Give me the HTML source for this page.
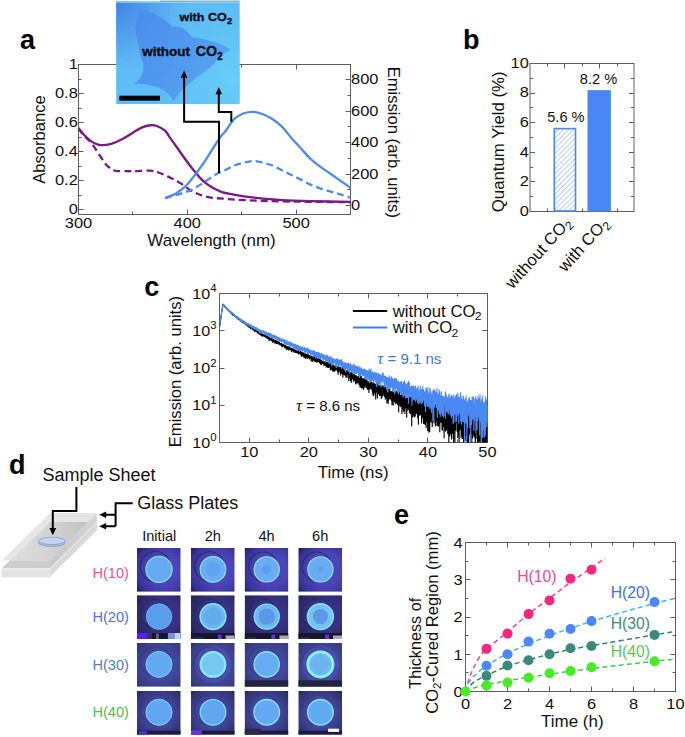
<!DOCTYPE html>
<html><head><meta charset="utf-8"><title>Figure</title>
<style>html,body{margin:0;padding:0;background:#fff;} body{width:685px;height:737px;overflow:hidden;font-family:"Liberation Sans",sans-serif;} svg{display:block;}</style>
</head><body>
<svg width="685" height="737" viewBox="0 0 685 737"><g id="panel-a">
<rect x="78.50" y="64.50" width="272.00" height="150.00" fill="none" stroke="#5e5e5e" stroke-width="1" />
<line x1="78.50" y1="209.50" x2="83.50" y2="209.50" stroke="#5e5e5e" stroke-width="1" />
<line x1="78.50" y1="195.50" x2="81.50" y2="195.50" stroke="#5e5e5e" stroke-width="1" />
<line x1="78.50" y1="180.50" x2="83.50" y2="180.50" stroke="#5e5e5e" stroke-width="1" />
<line x1="78.50" y1="166.50" x2="81.50" y2="166.50" stroke="#5e5e5e" stroke-width="1" />
<line x1="78.50" y1="151.50" x2="83.50" y2="151.50" stroke="#5e5e5e" stroke-width="1" />
<line x1="78.50" y1="137.50" x2="81.50" y2="137.50" stroke="#5e5e5e" stroke-width="1" />
<line x1="78.50" y1="122.50" x2="83.50" y2="122.50" stroke="#5e5e5e" stroke-width="1" />
<line x1="78.50" y1="108.50" x2="81.50" y2="108.50" stroke="#5e5e5e" stroke-width="1" />
<line x1="78.50" y1="93.50" x2="83.50" y2="93.50" stroke="#5e5e5e" stroke-width="1" />
<line x1="78.50" y1="79.50" x2="81.50" y2="79.50" stroke="#5e5e5e" stroke-width="1" />
<line x1="78.50" y1="64.50" x2="83.50" y2="64.50" stroke="#5e5e5e" stroke-width="1" />
<line x1="350.50" y1="205.50" x2="345.50" y2="205.50" stroke="#5e5e5e" stroke-width="1" />
<line x1="350.50" y1="189.50" x2="347.50" y2="189.50" stroke="#5e5e5e" stroke-width="1" />
<line x1="350.50" y1="174.50" x2="345.50" y2="174.50" stroke="#5e5e5e" stroke-width="1" />
<line x1="350.50" y1="158.50" x2="347.50" y2="158.50" stroke="#5e5e5e" stroke-width="1" />
<line x1="350.50" y1="142.50" x2="345.50" y2="142.50" stroke="#5e5e5e" stroke-width="1" />
<line x1="350.50" y1="126.50" x2="347.50" y2="126.50" stroke="#5e5e5e" stroke-width="1" />
<line x1="350.50" y1="111.50" x2="345.50" y2="111.50" stroke="#5e5e5e" stroke-width="1" />
<line x1="350.50" y1="95.50" x2="347.50" y2="95.50" stroke="#5e5e5e" stroke-width="1" />
<line x1="350.50" y1="79.50" x2="345.50" y2="79.50" stroke="#5e5e5e" stroke-width="1" />
<line x1="132.50" y1="214.50" x2="132.50" y2="211.50" stroke="#5e5e5e" stroke-width="1" />
<line x1="132.50" y1="64.50" x2="132.50" y2="67.50" stroke="#5e5e5e" stroke-width="1" />
<line x1="187.50" y1="214.50" x2="187.50" y2="209.50" stroke="#5e5e5e" stroke-width="1" />
<line x1="187.50" y1="64.50" x2="187.50" y2="69.50" stroke="#5e5e5e" stroke-width="1" />
<line x1="241.50" y1="214.50" x2="241.50" y2="211.50" stroke="#5e5e5e" stroke-width="1" />
<line x1="241.50" y1="64.50" x2="241.50" y2="67.50" stroke="#5e5e5e" stroke-width="1" />
<line x1="296.50" y1="214.50" x2="296.50" y2="209.50" stroke="#5e5e5e" stroke-width="1" />
<line x1="296.50" y1="64.50" x2="296.50" y2="69.50" stroke="#5e5e5e" stroke-width="1" />
<text transform="translate(77.80,213.70) scale(1.06,1.0)" font-size="15.5" text-anchor="end" font-weight="normal" font-style="normal" fill="#111" font-family="'Liberation Sans'" >0</text>
<text transform="translate(77.80,184.70) scale(1.06,1.0)" font-size="15.5" text-anchor="end" font-weight="normal" font-style="normal" fill="#111" font-family="'Liberation Sans'" >0.2</text>
<text transform="translate(77.80,155.70) scale(1.06,1.0)" font-size="15.5" text-anchor="end" font-weight="normal" font-style="normal" fill="#111" font-family="'Liberation Sans'" >0.4</text>
<text transform="translate(77.80,126.70) scale(1.06,1.0)" font-size="15.5" text-anchor="end" font-weight="normal" font-style="normal" fill="#111" font-family="'Liberation Sans'" >0.6</text>
<text transform="translate(77.80,97.70) scale(1.06,1.0)" font-size="15.5" text-anchor="end" font-weight="normal" font-style="normal" fill="#111" font-family="'Liberation Sans'" >0.8</text>
<text transform="translate(77.80,68.70) scale(1.06,1.0)" font-size="15.5" text-anchor="end" font-weight="normal" font-style="normal" fill="#111" font-family="'Liberation Sans'" >1</text>
<text transform="translate(351.00,210.20) scale(1.06,1.0)" font-size="15.5" text-anchor="start" font-weight="normal" font-style="normal" fill="#111" font-family="'Liberation Sans'" >0</text>
<text transform="translate(351.00,178.74) scale(1.06,1.0)" font-size="15.5" text-anchor="start" font-weight="normal" font-style="normal" fill="#111" font-family="'Liberation Sans'" >200</text>
<text transform="translate(351.00,147.28) scale(1.06,1.0)" font-size="15.5" text-anchor="start" font-weight="normal" font-style="normal" fill="#111" font-family="'Liberation Sans'" >400</text>
<text transform="translate(351.00,115.82) scale(1.06,1.0)" font-size="15.5" text-anchor="start" font-weight="normal" font-style="normal" fill="#111" font-family="'Liberation Sans'" >600</text>
<text transform="translate(351.00,84.36) scale(1.06,1.0)" font-size="15.5" text-anchor="start" font-weight="normal" font-style="normal" fill="#111" font-family="'Liberation Sans'" >800</text>
<text transform="translate(78.50,228.20) scale(1.06,1.0)" font-size="15.5" text-anchor="middle" font-weight="normal" font-style="normal" fill="#111" font-family="'Liberation Sans'" >300</text>
<text transform="translate(187.30,228.20) scale(1.06,1.0)" font-size="15.5" text-anchor="middle" font-weight="normal" font-style="normal" fill="#111" font-family="'Liberation Sans'" >400</text>
<text transform="translate(296.10,228.20) scale(1.06,1.0)" font-size="15.5" text-anchor="middle" font-weight="normal" font-style="normal" fill="#111" font-family="'Liberation Sans'" >500</text>
<text transform="translate(211.50,245.70) scale(1.08,1.0)" font-size="15.7" text-anchor="middle" font-weight="normal" font-style="normal" fill="#111" font-family="'Liberation Sans'" >Wavelength (nm)</text>
<text transform="translate(44.50,139.50) rotate(-90)" font-size="16.6" text-anchor="middle" font-weight="normal" font-style="normal" fill="#111" font-family="'Liberation Sans'" >Absorbance</text>
<text transform="translate(388.00,142.30) rotate(90)" font-size="16.6" text-anchor="middle" font-weight="normal" font-style="normal" fill="#111" font-family="'Liberation Sans'" >Emission (arb. units)</text>
<path d="M78.50,128.30 C79.41,129.51 81.82,133.16 83.94,135.55 C86.06,137.94 88.87,139.75 91.23,142.65 C93.59,145.55 95.69,149.40 98.08,152.95 C100.48,156.50 103.42,161.31 105.59,163.97 C107.77,166.63 109.44,167.76 111.14,168.90 C112.84,170.04 113.10,170.40 115.82,170.78 C118.54,171.17 124.07,171.17 127.46,171.22 C130.85,171.27 132.32,171.17 136.16,171.07 C140.01,170.98 146.57,170.33 150.53,170.64 C154.48,170.95 156.62,171.80 159.88,172.96 C163.15,174.12 166.70,175.91 170.11,177.60 C173.52,179.29 176.91,180.98 180.34,183.11 C183.76,185.24 187.26,188.38 190.67,190.36 C194.08,192.34 197.40,193.79 200.79,195.00 C204.18,196.21 206.99,196.98 211.02,197.61 C215.04,198.24 219.45,198.36 224.94,198.77 C230.44,199.18 234.50,199.64 243.98,200.08 C253.47,200.51 264.09,201.02 281.85,201.38 C299.60,201.74 339.06,202.10 350.50,202.25" fill="none" stroke="#7b1786" stroke-width="2.3" stroke-dasharray="7 4"/>
<path d="M78.50,128.30 C79.41,129.39 81.82,132.65 83.94,134.82 C86.06,137.00 88.87,139.73 91.23,141.35 C93.59,142.97 96.03,143.91 98.08,144.54 C100.13,145.17 101.35,145.22 103.52,145.12 C105.70,145.02 108.06,144.95 111.14,143.96 C114.22,142.97 118.39,141.06 122.02,139.18 C125.65,137.29 129.64,134.58 132.90,132.65 C136.16,130.72 138.67,128.81 141.60,127.58 C144.54,126.34 147.99,125.52 150.53,125.25 C153.06,124.99 154.46,125.11 156.84,125.98 C159.21,126.85 162.57,128.49 164.78,130.47 C166.99,132.46 168.37,135.45 170.11,137.87 C171.85,140.29 173.52,142.58 175.22,144.97 C176.93,147.37 178.63,149.81 180.34,152.22 C182.04,154.64 183.73,157.11 185.45,159.48 C187.17,161.84 188.95,164.21 190.67,166.44 C192.40,168.66 194.10,170.78 195.79,172.81 C197.47,174.84 199.12,176.90 200.79,178.62 C202.46,180.33 204.09,181.76 205.80,183.11 C207.50,184.46 209.30,185.67 211.02,186.74 C212.74,187.80 214.43,188.64 216.13,189.49 C217.84,190.34 218.94,191.06 221.25,191.81 C223.55,192.56 226.16,193.24 229.95,193.99 C233.74,194.73 238.49,195.53 243.98,196.31 C249.48,197.08 256.61,198.00 262.92,198.62 C269.23,199.25 273.94,199.66 281.85,200.08 C289.75,200.49 298.91,200.78 310.35,201.09 C321.79,201.40 343.81,201.81 350.50,201.96" fill="none" stroke="#7b1786" stroke-width="2.3"/>
<path d="M165.00,198.05 C165.99,197.79 168.75,197.08 170.98,196.48 C173.21,195.87 176.20,195.11 178.38,194.43 C180.55,193.75 181.99,193.07 184.04,192.39 C186.09,191.71 188.59,191.23 190.67,190.34 C192.76,189.45 194.52,188.24 196.55,187.04 C198.58,185.83 200.77,184.47 202.86,183.11 C204.94,181.74 206.68,180.41 209.06,178.86 C211.44,177.31 214.46,175.27 217.11,173.83 C219.76,172.38 222.06,171.60 224.94,170.21 C227.83,168.82 231.24,166.75 234.41,165.49 C237.58,164.23 240.81,163.39 243.98,162.66 C247.16,161.92 250.30,161.08 253.45,161.08 C256.61,161.08 259.76,161.92 262.92,162.66 C266.07,163.39 269.23,164.23 272.38,165.49 C275.54,166.75 278.67,168.63 281.85,170.21 C285.02,171.78 288.25,173.35 291.42,174.93 C294.59,176.50 297.73,178.05 300.89,179.65 C304.04,181.24 307.18,183.08 310.35,184.52 C313.53,185.96 316.75,187.20 319.93,188.30 C323.10,189.40 326.24,190.18 329.39,191.13 C332.55,192.07 335.34,192.86 338.86,193.96 C342.38,195.06 348.56,197.11 350.50,197.73" fill="none" stroke="#4a8af4" stroke-width="2.3" stroke-dasharray="7 4"/>
<path d="M165.00,198.05 C165.81,197.74 168.19,196.84 169.89,196.16 C171.60,195.48 173.50,194.90 175.22,193.96 C176.95,193.02 178.52,191.78 180.23,190.50 C181.93,189.21 183.73,187.93 185.45,186.25 C187.17,184.57 188.84,182.50 190.56,180.43 C192.29,178.36 194.06,176.08 195.79,173.83 C197.51,171.57 199.21,169.26 200.90,166.90 C202.59,164.54 204.22,162.26 205.90,159.67 C207.59,157.07 209.31,154.06 211.02,151.33 C212.72,148.60 214.46,145.80 216.13,143.31 C217.80,140.82 219.32,138.62 221.03,136.39 C222.73,134.16 224.13,132.85 226.36,129.94 C228.59,127.03 231.47,121.71 234.41,118.93 C237.35,116.15 240.81,114.44 243.98,113.26 C247.16,112.09 250.30,111.69 253.45,111.85 C256.61,112.01 259.76,113.03 262.92,114.21 C266.07,115.39 269.23,116.86 272.38,118.93 C275.54,121.00 278.67,123.46 281.85,126.64 C285.02,129.81 288.25,134.34 291.42,137.96 C294.59,141.58 297.73,144.88 300.89,148.34 C304.04,151.80 307.18,155.71 310.35,158.72 C313.53,161.74 316.75,164.05 319.93,166.43 C323.10,168.82 326.24,170.84 329.39,173.04 C332.55,175.24 335.69,177.42 338.86,179.65 C342.03,181.87 346.49,184.97 348.43,186.41 C350.37,187.85 350.16,187.98 350.50,188.30" fill="none" stroke="#4a8af4" stroke-width="2.3"/>
</g>
<defs>
<linearGradient id="insbg" x1="0" y1="0" x2="1" y2="1">
<stop offset="0" stop-color="#4683e4"/><stop offset="0.45" stop-color="#58aef2"/><stop offset="1" stop-color="#64c8f8"/></linearGradient>
<linearGradient id="insdk" x1="0" y1="0" x2="1" y2="1">
<stop offset="0" stop-color="#4a88e6"/><stop offset="1" stop-color="#58a6f2"/></linearGradient>
</defs>
<rect x="116.20" y="1.50" width="123.40" height="102.50" fill="#5fbdf5" stroke="none" stroke-width="1" />
<defs><radialGradient id="inscorner" gradientUnits="userSpaceOnUse" cx="116" cy="2" r="75"><stop offset="0" stop-color="#4380e4" stop-opacity="1"/><stop offset="0.55" stop-color="#4c96ec" stop-opacity="0.6"/><stop offset="1" stop-color="#5aaef2" stop-opacity="0"/></radialGradient><radialGradient id="insbr" gradientUnits="userSpaceOnUse" cx="232" cy="80" r="70"><stop offset="0" stop-color="#66ccf8" stop-opacity="1"/><stop offset="1" stop-color="#66ccf8" stop-opacity="0"/></radialGradient></defs>
<rect x="116.20" y="1.50" width="123.40" height="102.50" fill="url(#insbr)" stroke="none" stroke-width="1" />
<rect x="116.20" y="1.50" width="123.40" height="102.50" fill="url(#inscorner)" stroke="none" stroke-width="1" />
<defs><linearGradient id="bfg" x1="0" y1="0" x2="1" y2="0.6"><stop offset="0" stop-color="#4a8cec"/><stop offset="1" stop-color="#56a4f2"/></linearGradient></defs>
<polygon points="138.6,8.3 150.4,12.0 161.3,17.4 170.3,24.6 172.1,27.4 175.7,26.5 182.1,27.4 188.4,32.8 192.0,37.3 202.9,39.1 217.4,42.8 231.0,49.5 222.8,54.5 216.5,60.0 213.8,64.5 204.7,71.7 195.7,78.1 188.4,84.4 181.2,90.8 175.7,98.0 173.9,101.6 170.3,96.2 164.9,90.8 157.6,87.1 146.8,84.4 137.7,83.5 133.5,84.5 140.4,78.1 143.2,70.8 143.2,63.6 140.4,56.3 138.6,47.3 136.8,38.2 135.6,29.2 136.3,20.1 137.7,12.0" fill="url(#bfg)"/>
<rect x="119.30" y="95.70" width="40.70" height="5.00" fill="#060606" stroke="none" stroke-width="1" />
<rect x="116.20" y="1.50" width="123.40" height="1.30" fill="#8ee4fa" stroke="none" stroke-width="1" opacity="0.8"/>
<rect x="160.00" y="0.60" width="79.60" height="0.90" fill="#5a6a74" stroke="none" stroke-width="1" opacity="0.7"/>
<text transform="translate(179.40,20.70) scale(1.09,1.0)" font-size="11.5" text-anchor="start" font-weight="bold" font-style="normal" fill="#0c0e16" font-family="'Liberation Sans'" stroke="#0c0e16" stroke-width="0.35">with CO</text>
<text transform="translate(226.90,23.50) scale(1.09,1.0)" font-size="8.5" text-anchor="start" font-weight="bold" font-style="normal" fill="#0c0e16" font-family="'Liberation Sans'" stroke="#0c0e16" stroke-width="0.35">2</text>
<text transform="translate(142.20,56.30) scale(1.095,1.0)" font-size="12.3" text-anchor="start" font-weight="bold" font-style="normal" fill="#0c0e16" font-family="'Liberation Sans'" stroke="#0c0e16" stroke-width="0.35">without</text>
<text transform="translate(195.70,56.30)" font-size="14.2" text-anchor="start" font-weight="bold" font-style="normal" fill="#0c0e16" font-family="'Liberation Sans'" stroke="#0c0e16" stroke-width="0.35">CO</text>
<text transform="translate(217.30,60.30) scale(0.97,1.0)" font-size="10" text-anchor="start" font-weight="bold" font-style="normal" fill="#0c0e16" font-family="'Liberation Sans'" stroke="#0c0e16" stroke-width="0.35">2</text>
<path d="M219,173 V121.7 H184.1 V76" fill="none" stroke="#000" stroke-width="2"/>
<polygon points="184.1,70.5 180.9,77.8 187.3,77.8" fill="#000"/>
<path d="M231.3,121.7 V112 H218.8 V92" fill="none" stroke="#000" stroke-width="2"/>
<polygon points="218.8,87 215.6,94.3 222,94.3" fill="#000"/>
<text transform="translate(19.90,48.60)" font-size="27" text-anchor="start" font-weight="bold" font-style="normal" fill="#000" font-family="'Liberation Sans'" >a</text>
<text transform="translate(463.10,48.90)" font-size="27" text-anchor="start" font-weight="bold" font-style="normal" fill="#000" font-family="'Liberation Sans'" >b</text>
<rect x="530.00" y="63.50" width="104.00" height="148.00" fill="none" stroke="#5e5e5e" stroke-width="1" />
<line x1="530.00" y1="211.50" x2="535.00" y2="211.50" stroke="#5e5e5e" stroke-width="1" />
<line x1="634.00" y1="211.50" x2="629.00" y2="211.50" stroke="#5e5e5e" stroke-width="1" />
<line x1="530.00" y1="196.50" x2="533.00" y2="196.50" stroke="#5e5e5e" stroke-width="1" />
<line x1="634.00" y1="196.50" x2="631.00" y2="196.50" stroke="#5e5e5e" stroke-width="1" />
<line x1="530.00" y1="181.50" x2="535.00" y2="181.50" stroke="#5e5e5e" stroke-width="1" />
<line x1="634.00" y1="181.50" x2="629.00" y2="181.50" stroke="#5e5e5e" stroke-width="1" />
<line x1="530.00" y1="167.50" x2="533.00" y2="167.50" stroke="#5e5e5e" stroke-width="1" />
<line x1="634.00" y1="167.50" x2="631.00" y2="167.50" stroke="#5e5e5e" stroke-width="1" />
<line x1="530.00" y1="152.50" x2="535.00" y2="152.50" stroke="#5e5e5e" stroke-width="1" />
<line x1="634.00" y1="152.50" x2="629.00" y2="152.50" stroke="#5e5e5e" stroke-width="1" />
<line x1="530.00" y1="137.50" x2="533.00" y2="137.50" stroke="#5e5e5e" stroke-width="1" />
<line x1="634.00" y1="137.50" x2="631.00" y2="137.50" stroke="#5e5e5e" stroke-width="1" />
<line x1="530.00" y1="122.50" x2="535.00" y2="122.50" stroke="#5e5e5e" stroke-width="1" />
<line x1="634.00" y1="122.50" x2="629.00" y2="122.50" stroke="#5e5e5e" stroke-width="1" />
<line x1="530.00" y1="107.50" x2="533.00" y2="107.50" stroke="#5e5e5e" stroke-width="1" />
<line x1="634.00" y1="107.50" x2="631.00" y2="107.50" stroke="#5e5e5e" stroke-width="1" />
<line x1="530.00" y1="93.50" x2="535.00" y2="93.50" stroke="#5e5e5e" stroke-width="1" />
<line x1="634.00" y1="93.50" x2="629.00" y2="93.50" stroke="#5e5e5e" stroke-width="1" />
<line x1="530.00" y1="78.50" x2="533.00" y2="78.50" stroke="#5e5e5e" stroke-width="1" />
<line x1="634.00" y1="78.50" x2="631.00" y2="78.50" stroke="#5e5e5e" stroke-width="1" />
<line x1="530.00" y1="63.50" x2="535.00" y2="63.50" stroke="#5e5e5e" stroke-width="1" />
<line x1="634.00" y1="63.50" x2="629.00" y2="63.50" stroke="#5e5e5e" stroke-width="1" />
<line x1="547.50" y1="63.50" x2="547.50" y2="66.50" stroke="#5e5e5e" stroke-width="1" />
<line x1="547.50" y1="211.50" x2="547.50" y2="208.50" stroke="#5e5e5e" stroke-width="1" />
<line x1="564.50" y1="63.50" x2="564.50" y2="68.50" stroke="#5e5e5e" stroke-width="1" />
<line x1="564.50" y1="211.50" x2="564.50" y2="206.50" stroke="#5e5e5e" stroke-width="1" />
<line x1="582.50" y1="63.50" x2="582.50" y2="66.50" stroke="#5e5e5e" stroke-width="1" />
<line x1="582.50" y1="211.50" x2="582.50" y2="208.50" stroke="#5e5e5e" stroke-width="1" />
<line x1="599.50" y1="63.50" x2="599.50" y2="68.50" stroke="#5e5e5e" stroke-width="1" />
<line x1="599.50" y1="211.50" x2="599.50" y2="206.50" stroke="#5e5e5e" stroke-width="1" />
<line x1="617.50" y1="63.50" x2="617.50" y2="66.50" stroke="#5e5e5e" stroke-width="1" />
<line x1="617.50" y1="211.50" x2="617.50" y2="208.50" stroke="#5e5e5e" stroke-width="1" />
<text transform="translate(528.80,215.70) scale(1.06,1.0)" font-size="15.5" text-anchor="end" font-weight="normal" font-style="normal" fill="#111" font-family="'Liberation Sans'" >0</text>
<text transform="translate(528.80,186.10) scale(1.06,1.0)" font-size="15.5" text-anchor="end" font-weight="normal" font-style="normal" fill="#111" font-family="'Liberation Sans'" >2</text>
<text transform="translate(528.80,156.50) scale(1.06,1.0)" font-size="15.5" text-anchor="end" font-weight="normal" font-style="normal" fill="#111" font-family="'Liberation Sans'" >4</text>
<text transform="translate(528.80,126.90) scale(1.06,1.0)" font-size="15.5" text-anchor="end" font-weight="normal" font-style="normal" fill="#111" font-family="'Liberation Sans'" >6</text>
<text transform="translate(528.80,97.30) scale(1.06,1.0)" font-size="15.5" text-anchor="end" font-weight="normal" font-style="normal" fill="#111" font-family="'Liberation Sans'" >8</text>
<text transform="translate(528.80,67.70) scale(1.06,1.0)" font-size="15.5" text-anchor="end" font-weight="normal" font-style="normal" fill="#111" font-family="'Liberation Sans'" >10</text>
<text transform="translate(504.00,141.80) rotate(-90)" font-size="16.8" text-anchor="middle" font-weight="normal" font-style="normal" fill="#111" font-family="'Liberation Sans'" >Quantum Yield (%)</text>
<defs><pattern id="hatch" patternUnits="userSpaceOnUse" width="3.6" height="3.6" patternTransform="rotate(45)">
<rect width="3.6" height="3.6" fill="#fff"/><line x1="0" y1="0" x2="0" y2="3.6" stroke="#86acf2" stroke-width="1.2"/></pattern></defs>
<rect x="554.30" y="128.62" width="21.20" height="82.38" fill="url(#hatch)" stroke="#4a86f2" stroke-width="1.6" />
<rect x="587.50" y="90.14" width="23.40" height="121.36" fill="#4a86f5" stroke="none" stroke-width="1" />
<text transform="translate(565.90,122.40)" font-size="14.6" text-anchor="middle" font-weight="normal" font-style="normal" fill="#111" font-family="'Liberation Sans'" >5.6 %</text>
<text transform="translate(598.50,84.20)" font-size="14.6" text-anchor="middle" font-weight="normal" font-style="normal" fill="#111" font-family="'Liberation Sans'" >8.2 %</text>
<text transform="translate(572.00,223.50) rotate(-48)" font-size="16.6" text-anchor="end" font-weight="normal" font-style="normal" fill="#111" font-family="'Liberation Sans'" >without CO<tspan font-size="12" dy="3.5">2</tspan></text>
<text transform="translate(609.50,224.00) rotate(-48)" font-size="16.6" text-anchor="end" font-weight="normal" font-style="normal" fill="#111" font-family="'Liberation Sans'" >with CO<tspan font-size="12" dy="3.5">2</tspan></text>
<text transform="translate(144.20,295.90)" font-size="27" text-anchor="start" font-weight="bold" font-style="normal" fill="#000" font-family="'Liberation Sans'" >c</text>
<rect x="219.50" y="293.50" width="268.00" height="149.00" fill="none" stroke="#5e5e5e" stroke-width="1" />
<line x1="219.50" y1="442.50" x2="224.50" y2="442.50" stroke="#5e5e5e" stroke-width="1" />
<line x1="487.50" y1="442.50" x2="482.50" y2="442.50" stroke="#5e5e5e" stroke-width="1" />
<line x1="219.50" y1="405.50" x2="224.50" y2="405.50" stroke="#5e5e5e" stroke-width="1" />
<line x1="487.50" y1="405.50" x2="482.50" y2="405.50" stroke="#5e5e5e" stroke-width="1" />
<line x1="219.50" y1="368.50" x2="224.50" y2="368.50" stroke="#5e5e5e" stroke-width="1" />
<line x1="487.50" y1="368.50" x2="482.50" y2="368.50" stroke="#5e5e5e" stroke-width="1" />
<line x1="219.50" y1="330.50" x2="224.50" y2="330.50" stroke="#5e5e5e" stroke-width="1" />
<line x1="487.50" y1="330.50" x2="482.50" y2="330.50" stroke="#5e5e5e" stroke-width="1" />
<line x1="219.50" y1="293.50" x2="224.50" y2="293.50" stroke="#5e5e5e" stroke-width="1" />
<line x1="487.50" y1="293.50" x2="482.50" y2="293.50" stroke="#5e5e5e" stroke-width="1" />
<line x1="249.50" y1="442.50" x2="249.50" y2="437.50" stroke="#5e5e5e" stroke-width="1" />
<line x1="249.50" y1="293.50" x2="249.50" y2="298.50" stroke="#5e5e5e" stroke-width="1" />
<line x1="279.50" y1="442.50" x2="279.50" y2="439.50" stroke="#5e5e5e" stroke-width="1" />
<line x1="279.50" y1="293.50" x2="279.50" y2="296.50" stroke="#5e5e5e" stroke-width="1" />
<line x1="308.50" y1="442.50" x2="308.50" y2="437.50" stroke="#5e5e5e" stroke-width="1" />
<line x1="308.50" y1="293.50" x2="308.50" y2="298.50" stroke="#5e5e5e" stroke-width="1" />
<line x1="338.50" y1="442.50" x2="338.50" y2="439.50" stroke="#5e5e5e" stroke-width="1" />
<line x1="338.50" y1="293.50" x2="338.50" y2="296.50" stroke="#5e5e5e" stroke-width="1" />
<line x1="368.50" y1="442.50" x2="368.50" y2="437.50" stroke="#5e5e5e" stroke-width="1" />
<line x1="368.50" y1="293.50" x2="368.50" y2="298.50" stroke="#5e5e5e" stroke-width="1" />
<line x1="398.50" y1="442.50" x2="398.50" y2="439.50" stroke="#5e5e5e" stroke-width="1" />
<line x1="398.50" y1="293.50" x2="398.50" y2="296.50" stroke="#5e5e5e" stroke-width="1" />
<line x1="427.50" y1="442.50" x2="427.50" y2="437.50" stroke="#5e5e5e" stroke-width="1" />
<line x1="427.50" y1="293.50" x2="427.50" y2="298.50" stroke="#5e5e5e" stroke-width="1" />
<line x1="457.50" y1="442.50" x2="457.50" y2="439.50" stroke="#5e5e5e" stroke-width="1" />
<line x1="457.50" y1="293.50" x2="457.50" y2="296.50" stroke="#5e5e5e" stroke-width="1" />
<text transform="translate(216.50,447.50) scale(1.04,1.0)" font-size="15.5" text-anchor="end" font-weight="normal" font-style="normal" fill="#111" font-family="'Liberation Sans'" >10<tspan font-size="11" dy="-6.5">0</tspan></text>
<text transform="translate(216.50,410.25) scale(1.04,1.0)" font-size="15.5" text-anchor="end" font-weight="normal" font-style="normal" fill="#111" font-family="'Liberation Sans'" >10<tspan font-size="11" dy="-6.5">1</tspan></text>
<text transform="translate(216.50,373.00) scale(1.04,1.0)" font-size="15.5" text-anchor="end" font-weight="normal" font-style="normal" fill="#111" font-family="'Liberation Sans'" >10<tspan font-size="11" dy="-6.5">2</tspan></text>
<text transform="translate(216.50,335.75) scale(1.04,1.0)" font-size="15.5" text-anchor="end" font-weight="normal" font-style="normal" fill="#111" font-family="'Liberation Sans'" >10<tspan font-size="11" dy="-6.5">3</tspan></text>
<text transform="translate(216.50,298.50) scale(1.04,1.0)" font-size="15.5" text-anchor="end" font-weight="normal" font-style="normal" fill="#111" font-family="'Liberation Sans'" >10<tspan font-size="11" dy="-6.5">4</tspan></text>
<text transform="translate(249.28,456.60) scale(1.06,1.0)" font-size="15.5" text-anchor="middle" font-weight="normal" font-style="normal" fill="#111" font-family="'Liberation Sans'" >10</text>
<text transform="translate(308.83,456.60) scale(1.06,1.0)" font-size="15.5" text-anchor="middle" font-weight="normal" font-style="normal" fill="#111" font-family="'Liberation Sans'" >20</text>
<text transform="translate(368.39,456.60) scale(1.06,1.0)" font-size="15.5" text-anchor="middle" font-weight="normal" font-style="normal" fill="#111" font-family="'Liberation Sans'" >30</text>
<text transform="translate(427.94,456.60) scale(1.06,1.0)" font-size="15.5" text-anchor="middle" font-weight="normal" font-style="normal" fill="#111" font-family="'Liberation Sans'" >40</text>
<text transform="translate(487.50,456.60) scale(1.06,1.0)" font-size="15.5" text-anchor="middle" font-weight="normal" font-style="normal" fill="#111" font-family="'Liberation Sans'" >50</text>
<text transform="translate(353.20,477.60) scale(1.08,1.0)" font-size="15.7" text-anchor="middle" font-weight="normal" font-style="normal" fill="#111" font-family="'Liberation Sans'" >Time (ns)</text>
<text transform="translate(180.90,371.60) rotate(-90)" font-size="16.6" text-anchor="middle" font-weight="normal" font-style="normal" fill="#111" font-family="'Liberation Sans'" >Emission (arb. units)</text>
<defs><clipPath id="cclip"><rect x="219.5" y="293.5" width="268.0" height="149.0"/></clipPath></defs>
<g clip-path="url(#cclip)">
<polyline points="219.5,327.0 219.6,326.3 219.6,325.6 219.7,325.9 219.8,325.1 219.9,324.6 219.9,325.2 220.0,324.1 220.1,322.9 220.1,322.7 220.2,322.0 220.3,322.0 220.4,321.5 220.4,320.9 220.5,320.1 220.6,319.6 220.6,319.6 220.7,318.9 220.8,318.3 220.9,317.9 220.9,317.3 221.0,316.7 221.1,316.3 221.1,316.1 221.2,315.6 221.3,315.2 221.4,314.4 221.4,313.8 221.5,313.4 221.6,312.9 221.6,312.6 221.7,312.0 221.8,312.3 221.9,311.1 221.9,311.3 222.0,310.4 222.1,309.8 222.1,309.1 222.2,308.7 222.3,308.7 222.4,307.7 222.4,307.3 222.5,306.8 222.6,306.7 222.6,305.9 222.7,305.3 222.8,305.1 222.9,304.4 222.9,304.2 223.0,304.6 223.1,305.1 223.1,304.5 223.2,304.7 223.3,304.7 223.4,304.8 223.4,304.8 223.5,305.0 223.6,305.5 223.6,305.0 223.7,305.2 223.8,305.1 223.9,305.6 223.9,305.3 224.0,305.1 224.1,305.7 224.1,306.1 224.2,305.4 224.3,306.0 224.4,305.8 224.4,305.9 224.5,306.0 224.6,306.3 224.6,306.8 224.7,306.3 224.8,306.7 224.9,306.2 224.9,306.4 225.0,306.5 225.1,306.7 225.1,307.1 225.2,306.9 225.3,307.2 225.4,306.9 225.4,307.5 225.5,307.0 225.6,307.0 225.6,307.1 225.7,307.6 225.8,307.6 225.9,308.0 225.9,307.9 226.0,307.8 226.1,307.7 226.1,307.9 226.2,307.6 226.3,307.9 226.4,307.8 226.4,308.0 226.5,308.1 226.6,308.5 226.6,308.4 226.7,309.0 226.8,308.2 226.9,308.5 226.9,308.5 227.0,309.0 227.1,308.7 227.1,308.9 227.2,308.8 227.3,308.9 227.4,309.0 227.4,309.1 227.5,309.3 227.6,309.6 227.6,309.6 227.7,309.4 227.8,309.2 227.9,309.5 227.9,309.6 228.0,309.8 228.1,309.7 228.1,310.1 228.2,310.2 228.3,310.2 228.4,310.0 228.4,310.2 228.5,310.4 228.6,310.2 228.6,310.4 228.7,310.2 228.8,310.8 228.9,311.1 228.9,310.6 229.0,310.7 229.1,310.6 229.1,310.5 229.2,311.2 229.3,311.3 229.4,311.4 229.4,311.3 229.5,311.3 229.6,311.0 229.6,311.1 229.7,311.3 229.8,311.9 229.9,311.6 229.9,311.6 230.0,311.6 230.1,311.7 230.1,311.6 230.2,311.6 230.3,311.8 230.4,312.1 230.4,311.9 230.5,312.1 230.6,311.7 230.6,311.9 230.7,312.3 230.8,312.3 230.9,313.2 230.9,312.3 231.0,312.4 231.1,312.4 231.1,312.6 231.2,313.6 231.3,312.9 231.4,312.5 231.4,312.7 231.5,313.2 231.6,312.9 231.6,313.2 231.7,313.3 231.8,313.3 231.9,313.0 231.9,313.6 232.0,313.3 232.1,313.5 232.1,313.3 232.2,313.3 232.3,313.4 232.4,313.6 232.4,314.9 232.5,313.7 232.6,314.9 232.6,314.3 232.7,313.9 232.8,313.8 232.9,313.9 232.9,314.1 233.0,314.1 233.1,314.4 233.2,314.5 233.2,314.6 233.3,314.4 233.4,314.8 233.4,314.8 233.5,314.9 233.6,314.6 233.7,314.6 233.7,314.9 233.8,314.9 233.9,315.0 233.9,315.0 234.0,314.9 234.1,315.1 234.2,315.7 234.2,315.6 234.3,315.9 234.4,315.8 234.4,316.0 234.5,315.2 234.6,315.5 234.7,315.6 234.7,316.0 234.8,316.0 234.9,316.4 234.9,316.2 235.0,315.8 235.1,315.8 235.2,316.0 235.2,316.5 235.3,316.6 235.4,316.4 235.4,316.2 235.5,316.4 235.6,317.4 235.7,317.0 235.7,317.1 235.8,316.5 235.9,316.6 235.9,317.3 236.0,316.7 236.1,316.9 236.2,316.9 236.2,317.4 236.3,317.7 236.4,317.0 236.4,317.1 236.5,317.3 236.6,317.2 236.7,317.4 236.7,317.3 236.8,317.8 236.9,317.8 236.9,317.5 237.0,317.9 237.1,317.8 237.2,317.5 237.2,317.7 237.3,317.7 237.4,317.6 237.4,318.1 237.5,318.3 237.6,318.0 237.7,318.0 237.7,318.0 237.8,317.8 237.9,318.2 237.9,318.4 238.0,318.0 238.1,318.2 238.2,318.5 238.2,319.4 238.3,318.1 238.4,318.3 238.4,318.9 238.5,319.1 238.6,318.5 238.7,319.3 238.7,319.3 238.8,319.0 238.9,319.3 238.9,318.6 239.0,319.4 239.1,319.1 239.2,318.8 239.2,318.8 239.3,319.2 239.4,319.3 239.4,319.8 239.5,318.9 239.6,319.4 239.7,319.2 239.7,319.2 239.8,320.0 239.9,319.5 239.9,320.2 240.0,320.0 240.1,320.0 240.2,319.9 240.2,319.6 240.3,320.6 240.4,320.2 240.4,320.0 240.5,320.2 240.6,320.8 240.7,320.2 240.7,320.8 240.8,320.4 240.9,321.1 240.9,320.3 241.0,320.7 241.1,321.3 241.2,320.3 241.2,320.6 241.3,320.5 241.4,320.6 241.4,321.3 241.5,320.8 241.6,320.8 241.7,321.7 241.7,320.8 241.8,321.0 241.9,320.8 241.9,321.2 242.0,321.1 242.1,322.1 242.2,321.2 242.2,322.0 242.3,321.3 242.4,321.7 242.4,321.4 242.5,321.5 242.6,322.1 242.7,321.0 242.7,321.3 242.8,321.9 242.9,322.4 242.9,321.8 243.0,321.5 243.1,321.9 243.2,322.5 243.2,321.9 243.3,322.1 243.4,322.5 243.4,323.0 243.5,322.6 243.6,323.0 243.7,322.1 243.7,322.3 243.8,322.8 243.9,322.7 243.9,322.4 244.0,322.9 244.1,322.5 244.2,322.7 244.2,323.1 244.3,322.9 244.4,322.6 244.4,323.1 244.5,322.7 244.6,323.0 244.7,323.9 244.7,323.0 244.8,322.8 244.9,322.9 244.9,322.8 245.0,323.5 245.1,323.3 245.2,323.7 245.2,322.9 245.3,323.5 245.4,323.6 245.4,323.8 245.5,323.1 245.6,323.7 245.7,323.8 245.7,323.8 245.8,324.3 245.9,324.5 245.9,323.3 246.0,325.0 246.1,324.2 246.2,324.1 246.2,324.6 246.3,324.4 246.4,324.8 246.4,324.7 246.5,324.6 246.6,323.8 246.7,324.8 246.7,324.4 246.8,324.2 246.9,325.5 246.9,324.8 247.0,325.6 247.1,324.9 247.2,325.5 247.2,324.4 247.3,325.8 247.4,325.5 247.4,325.8 247.5,325.5 247.6,325.2 247.7,325.7 247.7,326.2 247.8,325.4 247.9,325.2 247.9,325.4 248.0,325.9 248.1,325.3 248.2,325.3 248.2,326.1 248.3,326.2 248.4,326.2 248.4,325.7 248.5,325.2 248.6,326.8 248.7,326.2 248.7,326.0 248.8,326.1 248.9,326.4 248.9,326.4 249.0,326.0 249.1,326.5 249.2,326.8 249.2,327.5 249.3,326.0 249.4,326.8 249.4,327.0 249.5,326.3 249.6,326.0 249.7,326.6 249.7,326.8 249.8,326.6 249.9,326.5 249.9,326.6 250.0,326.9 250.1,326.5 250.2,327.1 250.2,326.9 250.3,326.9 250.4,328.4 250.4,326.6 250.5,326.7 250.6,326.7 250.7,327.6 250.7,326.8 250.8,327.2 250.9,327.9 250.9,327.1 251.0,327.5 251.1,327.4 251.2,328.5 251.2,327.0 251.3,326.9 251.4,327.9 251.4,327.6 251.5,327.7 251.6,327.4 251.7,327.8 251.7,328.8 251.8,328.5 251.9,328.0 251.9,329.0 252.0,327.9 252.1,329.0 252.2,327.7 252.2,327.8 252.3,328.1 252.4,328.0 252.4,328.6 252.5,327.9 252.6,328.2 252.7,328.8 252.7,328.2 252.8,328.3 252.9,328.0 252.9,328.4 253.0,329.9 253.1,329.9 253.2,328.5 253.2,328.7 253.3,329.4 253.4,329.0 253.4,329.1 253.5,329.4 253.6,329.5 253.7,329.9 253.7,329.2 253.8,329.5 253.9,329.1 253.9,329.1 254.0,329.5 254.1,329.2 254.2,329.0 254.2,330.1 254.3,330.6 254.4,329.5 254.4,331.1 254.5,329.5 254.6,329.3 254.7,330.3 254.7,330.8 254.8,329.6 254.9,329.9 254.9,330.0 255.0,330.1 255.1,330.0 255.2,330.3 255.2,331.4 255.3,330.1 255.4,330.2 255.4,330.3 255.5,331.1 255.6,330.0 255.7,330.7 255.7,330.6 255.8,330.3 255.9,330.5 255.9,330.3 256.0,330.8 256.1,330.8 256.2,330.9 256.2,330.0 256.3,330.8 256.4,330.8 256.4,331.2 256.5,331.1 256.6,330.6 256.7,331.6 256.7,331.8 256.8,331.9 256.9,331.2 256.9,332.1 257.0,331.1 257.1,331.1 257.2,331.2 257.2,331.9 257.3,331.0 257.4,331.9 257.4,332.8 257.5,331.3 257.6,331.7 257.7,331.5 257.7,331.8 257.8,331.9 257.9,332.5 257.9,331.8 258.0,332.6 258.1,333.0 258.2,332.1 258.2,332.2 258.3,332.1 258.4,333.4 258.4,332.4 258.5,331.9 258.6,333.5 258.7,333.8 258.7,332.6 258.8,333.0 258.9,331.4 258.9,333.0 259.0,332.6 259.1,332.6 259.2,332.6 259.2,333.0 259.3,334.0 259.4,333.3 259.4,333.1 259.5,332.3 259.6,332.7 259.7,332.9 259.7,333.1 259.8,332.9 259.9,334.5 260.0,333.3 260.0,333.1 260.1,333.0 260.2,333.4 260.2,334.1 260.3,334.1 260.4,334.2 260.5,333.2 260.5,334.3 260.6,333.7 260.7,334.2 260.7,334.8 260.8,333.7 260.9,334.8 261.0,335.3 261.0,334.1 261.1,333.5 261.2,333.3 261.2,333.5 261.3,334.3 261.4,333.7 261.5,334.2 261.5,335.8 261.6,334.0 261.7,334.1 261.7,335.8 261.8,334.1 261.9,334.2 262.0,334.3 262.0,335.6 262.1,334.9 262.2,335.2 262.2,334.8 262.3,334.4 262.4,334.2 262.5,335.4 262.5,336.3 262.6,334.5 262.7,335.6 262.7,334.8 262.8,335.6 262.9,334.8 263.0,334.5 263.0,334.7 263.1,335.2 263.2,334.9 263.2,334.9 263.3,334.5 263.4,335.0 263.5,334.3 263.5,335.2 263.6,335.7 263.7,335.0 263.7,335.1 263.8,334.6 263.9,335.2 264.0,335.8 264.0,335.3 264.1,335.1 264.2,335.0 264.2,336.7 264.3,335.5 264.4,336.5 264.5,334.9 264.5,334.8 264.6,335.2 264.7,336.0 264.7,335.9 264.8,336.7 264.9,335.3 265.0,335.8 265.0,335.4 265.1,336.8 265.2,336.2 265.2,335.3 265.3,335.9 265.4,336.4 265.5,335.5 265.5,336.0 265.6,335.9 265.7,336.9 265.7,336.2 265.8,336.6 265.9,336.3 266.0,337.5 266.0,335.8 266.1,336.6 266.2,337.4 266.2,336.3 266.3,336.5 266.4,336.8 266.5,336.8 266.5,336.1 266.6,337.3 266.7,336.4 266.7,336.2 266.8,336.7 266.9,337.1 267.0,336.4 267.0,338.0 267.1,337.8 267.2,338.4 267.2,336.7 267.3,336.3 267.4,337.6 267.5,337.0 267.5,338.6 267.6,336.9 267.7,337.3 267.7,337.3 267.8,337.1 267.9,336.6 268.0,337.1 268.0,336.8 268.1,337.6 268.2,336.8 268.2,337.4 268.3,337.7 268.4,337.9 268.5,337.9 268.5,337.5 268.6,338.0 268.7,337.5 268.7,338.5 268.8,337.0 268.9,338.8 269.0,340.5 269.0,337.5 269.1,337.8 269.2,338.1 269.2,337.9 269.3,339.1 269.4,337.9 269.5,340.0 269.5,337.5 269.6,338.8 269.7,339.8 269.7,338.1 269.8,339.2 269.9,338.5 270.0,338.0 270.0,338.0 270.1,338.2 270.2,338.9 270.2,338.6 270.3,338.3 270.4,338.2 270.5,338.3 270.5,338.3 270.6,339.2 270.7,339.9 270.7,338.6 270.8,339.0 270.9,338.3 271.0,339.4 271.0,338.6 271.1,340.6 271.2,338.5 271.2,338.5 271.3,339.2 271.4,339.8 271.5,339.1 271.5,339.2 271.6,339.7 271.7,339.8 271.7,340.7 271.8,339.4 271.9,340.3 272.0,340.4 272.0,339.0 272.1,339.7 272.2,339.4 272.2,340.4 272.3,339.2 272.4,339.2 272.5,342.3 272.5,338.9 272.6,340.1 272.7,339.7 272.7,340.5 272.8,339.2 272.9,339.7 273.0,339.7 273.0,341.2 273.1,340.2 273.2,339.6 273.2,340.4 273.3,340.9 273.4,340.4 273.5,340.7 273.5,339.8 273.6,341.6 273.7,340.0 273.7,339.2 273.8,340.4 273.9,341.7 274.0,340.4 274.0,341.4 274.1,340.0 274.2,341.0 274.2,342.2 274.3,340.4 274.4,340.2 274.5,341.1 274.5,342.2 274.6,341.8 274.7,340.5 274.7,341.1 274.8,340.2 274.9,342.5 275.0,341.4 275.0,341.3 275.1,343.5 275.2,340.9 275.2,342.4 275.3,342.2 275.4,341.2 275.5,341.9 275.5,341.9 275.6,340.9 275.7,340.6 275.7,341.3 275.8,341.2 275.9,340.3 276.0,341.0 276.0,340.8 276.1,342.5 276.2,341.5 276.2,341.8 276.3,341.4 276.4,340.9 276.5,341.0 276.5,343.1 276.6,343.5 276.7,343.6 276.7,342.2 276.8,342.1 276.9,342.7 277.0,341.7 277.0,342.1 277.1,341.3 277.2,341.5 277.2,343.6 277.3,342.9 277.4,341.9 277.5,341.9 277.5,341.5 277.6,341.8 277.7,342.2 277.7,342.5 277.8,342.3 277.9,341.5 278.0,343.5 278.0,341.6 278.1,341.9 278.2,342.2 278.2,342.6 278.3,342.6 278.4,342.1 278.5,343.0 278.5,343.7 278.6,343.2 278.7,342.9 278.7,343.4 278.8,343.4 278.9,344.2 279.0,342.6 279.0,341.9 279.1,343.2 279.2,342.7 279.2,342.9 279.3,343.0 279.4,344.1 279.5,344.0 279.5,343.3 279.6,343.9 279.7,343.3 279.7,343.0 279.8,342.7 279.9,343.0 280.0,344.9 280.0,344.4 280.1,343.0 280.2,344.2 280.2,343.1 280.3,343.9 280.4,344.9 280.5,344.2 280.5,343.6 280.6,344.2 280.7,343.5 280.7,343.7 280.8,343.7 280.9,343.9 281.0,344.4 281.0,344.2 281.1,343.5 281.2,345.0 281.2,344.7 281.3,343.4 281.4,345.6 281.5,344.6 281.5,344.7 281.6,344.1 281.7,343.9 281.7,344.9 281.8,344.7 281.9,344.9 282.0,346.7 282.0,344.2 282.1,344.9 282.2,344.4 282.2,344.2 282.3,344.6 282.4,344.7 282.5,344.4 282.5,346.3 282.6,344.6 282.7,346.6 282.7,344.2 282.8,346.0 282.9,345.9 283.0,346.3 283.0,345.6 283.1,345.3 283.2,344.4 283.2,344.9 283.3,345.3 283.4,344.6 283.5,345.8 283.5,344.8 283.6,345.3 283.7,344.7 283.7,345.0 283.8,345.5 283.9,345.6 284.0,345.4 284.0,345.7 284.1,345.5 284.2,346.5 284.2,346.4 284.3,345.7 284.4,347.4 284.5,346.9 284.5,345.2 284.6,345.8 284.7,347.3 284.7,346.6 284.8,346.8 284.9,345.0 285.0,346.2 285.0,345.4 285.1,345.8 285.2,347.2 285.2,345.6 285.3,346.1 285.4,346.3 285.5,347.4 285.5,347.3 285.6,347.0 285.7,348.2 285.7,346.0 285.8,345.4 285.9,346.4 286.0,346.4 286.0,346.9 286.1,347.7 286.2,346.2 286.2,346.8 286.3,347.1 286.4,346.9 286.5,347.2 286.5,347.1 286.6,349.4 286.7,349.3 286.8,348.3 286.8,347.3 286.9,346.7 287.0,347.5 287.0,349.1 287.1,348.7 287.2,346.7 287.3,348.0 287.3,346.9 287.4,348.0 287.5,347.8 287.5,347.1 287.6,348.1 287.7,348.5 287.8,346.7 287.8,348.5 287.9,349.5 288.0,349.5 288.0,347.4 288.1,347.5 288.2,347.0 288.3,348.2 288.3,347.7 288.4,347.3 288.5,347.9 288.5,347.4 288.6,349.1 288.7,346.8 288.8,349.1 288.8,349.5 288.9,350.2 289.0,348.3 289.0,349.7 289.1,348.8 289.2,347.9 289.3,348.7 289.3,348.1 289.4,348.8 289.5,347.0 289.5,347.5 289.6,348.1 289.7,348.3 289.8,348.4 289.8,349.0 289.9,349.2 290.0,348.1 290.0,347.6 290.1,349.2 290.2,348.4 290.3,349.3 290.3,349.1 290.4,349.0 290.5,348.4 290.5,348.8 290.6,349.7 290.7,349.1 290.8,348.4 290.8,348.3 290.9,350.1 291.0,348.5 291.0,349.7 291.1,349.0 291.2,348.4 291.3,349.1 291.3,350.8 291.4,348.1 291.5,351.3 291.5,348.6 291.6,351.7 291.7,349.0 291.8,348.7 291.8,350.1 291.9,350.6 292.0,349.1 292.0,349.3 292.1,348.7 292.2,349.1 292.3,349.2 292.3,349.3 292.4,348.6 292.5,350.7 292.5,349.3 292.6,349.6 292.7,350.1 292.8,349.3 292.8,349.5 292.9,349.6 293.0,350.3 293.0,349.5 293.1,348.8 293.2,351.2 293.3,349.5 293.3,350.1 293.4,349.8 293.5,349.8 293.5,349.4 293.6,349.6 293.7,350.9 293.8,349.2 293.8,351.9 293.9,350.9 294.0,350.9 294.0,349.9 294.1,350.4 294.2,349.7 294.3,350.3 294.3,349.4 294.4,351.7 294.5,350.3 294.5,350.7 294.6,351.6 294.7,350.1 294.8,351.1 294.8,351.7 294.9,352.5 295.0,349.7 295.0,350.1 295.1,351.8 295.2,350.3 295.3,350.7 295.3,351.5 295.4,350.2 295.5,351.9 295.5,351.1 295.6,350.5 295.7,350.5 295.8,350.8 295.8,350.5 295.9,352.5 296.0,351.0 296.0,350.3 296.1,352.5 296.2,350.2 296.3,350.5 296.3,351.0 296.4,350.3 296.5,350.0 296.5,350.3 296.6,351.3 296.7,349.9 296.8,352.8 296.8,352.6 296.9,352.7 297.0,350.9 297.0,351.6 297.1,351.6 297.2,351.2 297.3,351.3 297.3,351.5 297.4,350.8 297.5,351.2 297.5,351.2 297.6,351.3 297.7,351.2 297.8,351.2 297.8,351.3 297.9,353.1 298.0,352.1 298.0,352.5 298.1,353.4 298.2,352.3 298.3,351.8 298.3,352.8 298.4,351.2 298.5,350.9 298.5,354.1 298.6,351.8 298.7,350.6 298.8,352.9 298.8,352.6 298.9,351.8 299.0,352.2 299.0,353.7 299.1,350.9 299.2,351.3 299.3,352.3 299.3,353.3 299.4,351.7 299.5,351.5 299.5,351.3 299.6,352.4 299.7,352.5 299.8,352.0 299.8,352.1 299.9,353.4 300.0,352.0 300.0,352.2 300.1,352.5 300.2,352.2 300.3,351.6 300.3,353.0 300.4,351.3 300.5,352.2 300.5,354.2 300.6,352.3 300.7,354.4 300.8,351.9 300.8,352.5 300.9,351.5 301.0,353.6 301.0,353.5 301.1,353.1 301.2,352.2 301.3,356.5 301.3,352.8 301.4,354.2 301.5,354.3 301.5,353.8 301.6,352.7 301.7,353.1 301.8,353.9 301.8,354.9 301.9,352.4 302.0,352.1 302.0,352.4 302.1,352.8 302.2,352.2 302.3,352.7 302.3,352.6 302.4,355.1 302.5,354.4 302.5,355.5 302.6,353.9 302.7,353.6 302.8,354.1 302.8,353.3 302.9,354.1 303.0,352.8 303.0,353.8 303.1,353.6 303.2,356.4 303.3,353.3 303.3,354.7 303.4,353.0 303.5,355.1 303.5,353.1 303.6,354.6 303.7,355.1 303.8,353.9 303.8,355.4 303.9,354.0 304.0,354.9 304.0,357.4 304.1,353.9 304.2,354.2 304.3,354.4 304.3,355.7 304.4,354.0 304.5,354.0 304.5,355.7 304.6,354.2 304.7,355.2 304.8,353.8 304.8,354.1 304.9,354.6 305.0,354.2 305.0,354.2 305.1,353.9 305.2,358.0 305.3,354.7 305.3,356.4 305.4,355.5 305.5,358.4 305.5,354.5 305.6,354.1 305.7,355.8 305.8,355.1 305.8,356.4 305.9,354.6 306.0,354.8 306.0,355.9 306.1,354.8 306.2,355.3 306.3,354.6 306.3,354.3 306.4,355.5 306.5,354.7 306.5,356.7 306.6,354.9 306.7,354.1 306.8,356.9 306.8,358.0 306.9,355.5 307.0,354.2 307.0,356.0 307.1,354.6 307.2,357.3 307.3,356.7 307.3,356.4 307.4,355.1 307.5,358.2 307.5,356.6 307.6,356.7 307.7,354.6 307.8,355.4 307.8,355.1 307.9,356.3 308.0,355.3 308.0,355.8 308.1,357.0 308.2,355.8 308.3,355.1 308.3,355.9 308.4,355.1 308.5,356.0 308.5,356.9 308.6,357.7 308.7,356.2 308.8,355.3 308.8,356.1 308.9,355.5 309.0,356.0 309.0,357.4 309.1,356.7 309.2,356.2 309.3,358.1 309.3,359.1 309.4,356.9 309.5,355.7 309.5,356.8 309.6,355.8 309.7,357.7 309.8,358.1 309.8,356.7 309.9,358.2 310.0,356.7 310.0,356.5 310.1,355.7 310.2,356.2 310.3,355.9 310.3,356.2 310.4,356.3 310.5,356.4 310.5,357.4 310.6,356.8 310.7,358.1 310.8,356.3 310.8,356.7 310.9,356.0 311.0,356.6 311.0,356.2 311.1,360.3 311.2,361.0 311.3,358.3 311.3,356.7 311.4,356.8 311.5,356.1 311.5,357.9 311.6,358.9 311.7,357.0 311.8,359.9 311.8,358.8 311.9,356.8 312.0,357.2 312.0,359.0 312.1,360.6 312.2,358.9 312.3,357.0 312.3,357.4 312.4,361.4 312.5,357.3 312.5,356.8 312.6,357.1 312.7,357.8 312.8,359.3 312.8,357.2 312.9,357.3 313.0,358.8 313.0,359.0 313.1,357.7 313.2,356.9 313.3,359.9 313.3,357.8 313.4,359.8 313.5,357.3 313.6,358.8 313.6,357.8 313.7,356.8 313.8,357.9 313.8,357.4 313.9,357.7 314.0,356.3 314.1,356.6 314.1,359.2 314.2,361.0 314.3,357.2 314.3,358.7 314.4,358.0 314.5,360.0 314.6,359.4 314.6,360.1 314.7,359.6 314.8,360.3 314.8,358.3 314.9,358.0 315.0,358.5 315.1,358.0 315.1,361.5 315.2,358.7 315.3,357.8 315.3,358.1 315.4,357.5 315.5,357.7 315.6,360.7 315.6,360.0 315.7,360.3 315.8,359.1 315.8,358.6 315.9,359.5 316.0,358.0 316.1,361.6 316.1,361.5 316.2,360.0 316.3,359.7 316.3,359.0 316.4,358.6 316.5,358.2 316.6,361.3 316.6,359.3 316.7,359.0 316.8,361.9 316.8,357.8 316.9,361.7 317.0,359.3 317.1,359.4 317.1,361.0 317.2,360.2 317.3,359.1 317.3,359.9 317.4,360.3 317.5,359.1 317.6,359.2 317.6,360.3 317.7,360.8 317.8,362.0 317.8,360.2 317.9,358.7 318.0,359.7 318.1,359.3 318.1,358.6 318.2,360.8 318.3,359.6 318.3,360.0 318.4,359.4 318.5,361.3 318.6,361.8 318.6,359.1 318.7,359.0 318.8,359.0 318.8,360.0 318.9,360.9 319.0,360.7 319.1,361.4 319.1,360.1 319.2,359.2 319.3,360.0 319.3,358.7 319.4,362.1 319.5,360.9 319.6,362.4 319.6,362.1 319.7,360.1 319.8,362.1 319.8,359.3 319.9,361.7 320.0,360.2 320.1,363.6 320.1,363.4 320.2,359.2 320.3,359.8 320.3,362.9 320.4,361.2 320.5,363.6 320.6,360.8 320.6,360.8 320.7,360.0 320.8,360.3 320.8,360.8 320.9,364.2 321.0,361.5 321.1,362.4 321.1,363.0 321.2,364.3 321.3,364.8 321.3,360.0 321.4,363.7 321.5,360.9 321.6,361.2 321.6,363.5 321.7,363.5 321.8,360.7 321.8,360.5 321.9,362.9 322.0,361.5 322.1,363.8 322.1,362.7 322.2,361.5 322.3,362.0 322.3,361.6 322.4,363.8 322.5,362.5 322.6,361.9 322.6,361.7 322.7,363.3 322.8,362.3 322.8,363.2 322.9,361.8 323.0,362.7 323.1,361.7 323.1,362.3 323.2,363.5 323.3,363.1 323.3,361.7 323.4,362.4 323.5,361.5 323.6,361.7 323.6,362.4 323.7,362.6 323.8,364.0 323.8,363.3 323.9,364.2 324.0,365.8 324.1,362.7 324.1,365.2 324.2,361.8 324.3,362.5 324.3,362.0 324.4,362.6 324.5,362.1 324.6,364.3 324.6,362.1 324.7,362.0 324.8,362.4 324.8,363.4 324.9,362.7 325.0,364.6 325.1,363.5 325.1,363.0 325.2,362.1 325.3,365.0 325.3,363.5 325.4,362.2 325.5,362.7 325.6,363.5 325.6,365.2 325.7,363.1 325.8,363.8 325.8,363.2 325.9,363.3 326.0,365.1 326.1,364.2 326.1,367.1 326.2,363.2 326.3,363.5 326.3,363.8 326.4,362.4 326.5,362.4 326.6,365.9 326.6,363.8 326.7,365.8 326.8,364.8 326.8,363.7 326.9,365.8 327.0,362.1 327.1,365.2 327.1,363.0 327.2,364.2 327.3,365.7 327.3,363.5 327.4,366.8 327.5,365.3 327.6,366.7 327.6,366.7 327.7,364.8 327.8,364.6 327.8,367.4 327.9,362.2 328.0,366.7 328.1,365.4 328.1,364.6 328.2,367.2 328.3,364.5 328.3,363.9 328.4,362.9 328.5,365.7 328.6,362.9 328.6,364.0 328.7,367.1 328.8,364.8 328.8,363.7 328.9,367.5 329.0,364.9 329.1,364.5 329.1,366.4 329.2,366.7 329.3,366.3 329.3,362.7 329.4,362.4 329.5,366.0 329.6,364.7 329.6,365.9 329.7,366.0 329.8,366.3 329.8,364.4 329.9,365.2 330.0,364.6 330.1,363.2 330.1,364.5 330.2,362.4 330.3,366.2 330.3,370.0 330.4,369.1 330.5,364.0 330.6,367.0 330.6,366.7 330.7,366.0 330.8,366.2 330.8,365.3 330.9,365.4 331.0,369.0 331.1,367.0 331.1,365.2 331.2,365.1 331.3,369.4 331.3,365.7 331.4,367.5 331.5,365.7 331.6,364.6 331.6,366.5 331.7,369.1 331.8,365.0 331.8,367.1 331.9,365.6 332.0,367.6 332.1,364.7 332.1,365.1 332.2,365.3 332.3,366.4 332.3,366.6 332.4,366.9 332.5,370.9 332.6,366.2 332.6,367.7 332.7,365.8 332.8,366.0 332.8,369.9 332.9,367.4 333.0,366.1 333.1,366.5 333.1,369.7 333.2,365.7 333.3,365.6 333.3,371.2 333.4,365.8 333.5,367.4 333.6,366.8 333.6,365.5 333.7,366.6 333.8,365.6 333.8,365.9 333.9,366.4 334.0,366.6 334.1,368.2 334.1,368.4 334.2,367.2 334.3,368.4 334.3,370.9 334.4,366.5 334.5,371.2 334.6,367.2 334.6,367.2 334.7,366.9 334.8,366.3 334.8,367.5 334.9,368.1 335.0,368.3 335.1,365.5 335.1,368.1 335.2,367.5 335.3,370.6 335.3,366.6 335.4,366.8 335.5,366.8 335.6,366.6 335.6,366.2 335.7,368.4 335.8,368.6 335.8,367.6 335.9,367.5 336.0,366.8 336.1,367.1 336.1,367.7 336.2,368.6 336.3,366.9 336.3,368.7 336.4,369.7 336.5,367.3 336.6,368.2 336.6,367.8 336.7,369.6 336.8,369.2 336.8,367.9 336.9,368.1 337.0,370.0 337.1,367.8 337.1,366.5 337.2,368.7 337.3,370.5 337.3,367.3 337.4,368.0 337.5,371.8 337.6,367.5 337.6,370.9 337.7,366.6 337.8,370.0 337.8,368.0 337.9,371.8 338.0,372.3 338.1,367.5 338.1,374.4 338.2,369.4 338.3,367.2 338.3,368.8 338.4,369.1 338.5,369.9 338.6,369.0 338.6,372.0 338.7,368.4 338.8,369.1 338.8,367.8 338.9,371.2 339.0,370.4 339.1,369.0 339.1,369.1 339.2,368.0 339.3,367.6 339.3,368.8 339.4,369.3 339.5,369.3 339.6,367.9 339.6,368.2 339.7,369.0 339.8,368.2 339.8,368.7 339.9,369.4 340.0,370.6 340.1,370.6 340.1,372.7 340.2,368.6 340.3,367.9 340.4,367.1 340.4,369.4 340.5,373.1 340.6,369.3 340.6,370.8 340.7,375.1 340.8,373.1 340.9,369.1 340.9,372.8 341.0,368.8 341.1,369.8 341.1,373.5 341.2,373.0 341.3,370.9 341.4,371.7 341.4,369.2 341.5,369.3 341.6,369.4 341.6,369.4 341.7,369.9 341.8,371.0 341.9,373.3 341.9,372.6 342.0,369.5 342.1,370.9 342.1,370.2 342.2,370.5 342.3,373.2 342.4,367.6 342.4,371.4 342.5,370.2 342.6,371.8 342.6,371.3 342.7,370.8 342.8,375.7 342.9,377.1 342.9,368.6 343.0,369.3 343.1,370.5 343.1,369.7 343.2,373.7 343.3,374.6 343.4,369.9 343.4,369.7 343.5,373.0 343.6,371.7 343.6,371.1 343.7,371.2 343.8,371.5 343.9,370.2 343.9,370.0 344.0,369.0 344.1,374.4 344.1,373.3 344.2,372.0 344.3,370.2 344.4,374.8 344.4,375.0 344.5,374.2 344.6,370.6 344.6,371.6 344.7,374.9 344.8,372.7 344.9,372.9 344.9,371.6 345.0,369.9 345.1,374.8 345.1,374.7 345.2,371.7 345.3,371.5 345.4,371.7 345.4,371.1 345.5,370.4 345.6,371.2 345.6,369.7 345.7,372.1 345.8,372.1 345.9,377.1 345.9,375.2 346.0,371.7 346.1,372.8 346.1,370.5 346.2,374.9 346.3,373.1 346.4,371.9 346.4,373.2 346.5,375.7 346.6,371.9 346.6,376.0 346.7,375.6 346.8,371.6 346.9,375.0 346.9,372.9 347.0,372.4 347.1,377.5 347.1,373.4 347.2,374.0 347.3,371.0 347.4,370.5 347.4,370.9 347.5,372.6 347.6,373.3 347.6,372.7 347.7,374.0 347.8,371.8 347.9,372.4 347.9,372.3 348.0,373.1 348.1,374.5 348.1,374.0 348.2,373.4 348.3,372.2 348.4,374.1 348.4,371.9 348.5,372.3 348.6,373.7 348.6,373.0 348.7,374.8 348.8,380.6 348.9,372.4 348.9,373.4 349.0,373.0 349.1,372.2 349.1,374.6 349.2,373.5 349.3,374.2 349.4,376.5 349.4,372.1 349.5,373.7 349.6,373.9 349.6,373.8 349.7,375.6 349.8,372.7 349.9,375.2 349.9,373.9 350.0,376.8 350.1,376.8 350.1,378.1 350.2,374.3 350.3,373.3 350.4,380.4 350.4,373.0 350.5,373.5 350.6,373.5 350.6,372.8 350.7,373.8 350.8,373.7 350.9,372.5 350.9,373.9 351.0,377.9 351.1,377.4 351.1,373.3 351.2,372.7 351.3,382.5 351.4,376.0 351.4,372.8 351.5,373.6 351.6,375.3 351.6,372.9 351.7,377.8 351.8,379.0 351.9,378.4 351.9,375.0 352.0,373.4 352.1,375.2 352.1,375.4 352.2,372.8 352.3,378.1 352.4,374.2 352.4,376.6 352.5,375.3 352.6,375.9 352.6,374.8 352.7,378.8 352.8,377.4 352.9,375.4 352.9,376.3 353.0,375.8 353.1,377.4 353.1,375.9 353.2,374.2 353.3,375.5 353.4,375.5 353.4,381.3 353.5,375.0 353.6,377.5 353.6,380.9 353.7,375.7 353.8,376.6 353.9,374.7 353.9,377.1 354.0,376.4 354.1,375.4 354.1,380.2 354.2,378.4 354.3,375.0 354.4,373.8 354.4,376.2 354.5,376.8 354.6,374.8 354.6,377.1 354.7,376.8 354.8,376.8 354.9,375.5 354.9,379.6 355.0,377.2 355.1,376.5 355.1,376.2 355.2,378.7 355.3,380.9 355.4,377.0 355.4,383.0 355.5,377.1 355.6,376.1 355.6,376.7 355.7,377.9 355.8,384.0 355.9,378.9 355.9,375.5 356.0,376.9 356.1,381.3 356.1,378.0 356.2,380.5 356.3,376.8 356.4,382.3 356.4,380.7 356.5,378.9 356.6,381.1 356.6,378.3 356.7,377.8 356.8,376.4 356.9,380.1 356.9,379.1 357.0,378.3 357.1,383.1 357.1,376.7 357.2,377.7 357.3,382.5 357.4,378.9 357.4,376.9 357.5,380.8 357.6,380.8 357.6,381.9 357.7,380.5 357.8,377.0 357.9,378.4 357.9,380.7 358.0,380.4 358.1,382.2 358.1,381.4 358.2,379.9 358.3,378.2 358.4,382.2 358.4,378.5 358.5,377.3 358.6,379.7 358.6,377.3 358.7,376.6 358.8,384.1 358.9,382.2 358.9,380.5 359.0,380.4 359.1,378.9 359.1,379.0 359.2,378.0 359.3,380.2 359.4,379.1 359.4,378.6 359.5,383.2 359.6,379.2 359.6,380.9 359.7,379.0 359.8,384.7 359.9,383.5 359.9,381.6 360.0,386.9 360.1,382.9 360.1,378.8 360.2,379.5 360.3,382.0 360.4,380.1 360.4,376.6 360.5,382.1 360.6,385.1 360.6,379.8 360.7,378.1 360.8,380.6 360.9,384.7 360.9,385.4 361.0,384.5 361.1,376.5 361.1,379.1 361.2,387.4 361.3,383.4 361.4,383.9 361.4,381.6 361.5,376.5 361.6,381.8 361.6,383.9 361.7,379.2 361.8,386.4 361.9,378.3 361.9,383.5 362.0,388.3 362.1,380.7 362.1,378.8 362.2,380.3 362.3,379.3 362.4,381.7 362.4,387.6 362.5,383.0 362.6,381.7 362.6,381.1 362.7,381.4 362.8,382.1 362.9,379.4 362.9,380.4 363.0,380.9 363.1,381.7 363.1,380.1 363.2,380.1 363.3,378.5 363.4,384.0 363.4,389.5 363.5,380.5 363.6,383.9 363.6,379.4 363.7,381.2 363.8,378.2 363.9,385.6 363.9,379.4 364.0,385.8 364.1,380.8 364.1,383.8 364.2,378.8 364.3,383.0 364.4,386.5 364.4,381.2 364.5,382.2 364.6,380.7 364.6,380.9 364.7,381.8 364.8,381.0 364.9,379.7 364.9,380.8 365.0,387.7 365.1,385.6 365.1,383.6 365.2,383.0 365.3,382.8 365.4,381.9 365.4,379.5 365.5,383.0 365.6,381.1 365.6,385.0 365.7,381.9 365.8,381.1 365.9,380.1 365.9,380.0 366.0,382.7 366.1,381.4 366.1,380.3 366.2,380.8 366.3,381.6 366.4,386.9 366.4,383.6 366.5,386.1 366.6,380.7 366.6,381.6 366.7,378.7 366.8,387.2 366.9,387.1 366.9,385.6 367.0,380.4 367.1,382.0 367.2,380.6 367.2,389.3 367.3,382.2 367.4,384.4 367.4,387.3 367.5,385.7 367.6,385.9 367.7,388.5 367.7,381.9 367.8,386.6 367.9,381.5 367.9,382.9 368.0,381.0 368.1,382.2 368.2,389.0 368.2,381.9 368.3,382.4 368.4,382.5 368.4,382.9 368.5,384.7 368.6,384.8 368.7,382.6 368.7,382.2 368.8,387.8 368.9,392.4 368.9,386.5 369.0,383.6 369.1,382.7 369.2,388.6 369.2,386.2 369.3,383.5 369.4,386.9 369.4,386.4 369.5,389.0 369.6,383.1 369.7,387.8 369.7,386.8 369.8,385.4 369.9,383.4 369.9,383.6 370.0,383.2 370.1,384.1 370.2,383.7 370.2,383.9 370.3,383.3 370.4,384.2 370.4,387.2 370.5,387.2 370.6,386.7 370.7,388.8 370.7,385.8 370.8,384.0 370.9,384.7 370.9,381.1 371.0,385.6 371.1,386.0 371.2,385.9 371.2,384.5 371.3,384.8 371.4,384.7 371.4,385.1 371.5,387.8 371.6,383.2 371.7,387.6 371.7,385.3 371.8,389.6 371.9,386.5 371.9,385.1 372.0,386.6 372.1,384.0 372.2,384.9 372.2,382.8 372.3,385.2 372.4,390.4 372.4,391.9 372.5,389.1 372.6,384.1 372.7,389.3 372.7,384.5 372.8,384.8 372.9,383.0 372.9,394.9 373.0,385.1 373.1,385.4 373.2,388.3 373.2,386.2 373.3,384.9 373.4,395.0 373.4,383.8 373.5,384.9 373.6,388.4 373.7,392.0 373.7,395.7 373.8,382.9 373.9,391.7 373.9,385.1 374.0,387.6 374.1,390.4 374.2,385.5 374.2,386.2 374.3,384.4 374.4,383.7 374.4,388.3 374.5,384.7 374.6,391.7 374.7,389.4 374.7,393.1 374.8,384.5 374.9,391.3 374.9,385.4 375.0,386.2 375.1,387.0 375.2,388.1 375.2,389.2 375.3,387.9 375.4,390.3 375.4,387.8 375.5,394.7 375.6,391.9 375.7,388.7 375.7,399.1 375.8,384.2 375.9,384.1 375.9,385.9 376.0,384.0 376.1,392.0 376.2,386.6 376.2,386.6 376.3,392.1 376.4,387.2 376.4,387.7 376.5,386.6 376.6,391.5 376.7,385.8 376.7,386.2 376.8,386.2 376.9,386.8 376.9,385.4 377.0,391.2 377.1,389.2 377.2,387.7 377.2,386.0 377.3,389.8 377.4,388.1 377.4,398.0 377.5,384.9 377.6,387.2 377.7,388.6 377.7,382.1 377.8,387.6 377.9,383.1 377.9,386.5 378.0,389.7 378.1,389.3 378.2,390.3 378.2,390.6 378.3,387.5 378.4,393.5 378.4,388.5 378.5,386.7 378.6,387.5 378.7,389.4 378.7,389.1 378.8,387.0 378.9,388.4 378.9,392.7 379.0,386.0 379.1,394.3 379.2,387.9 379.2,387.5 379.3,392.5 379.4,389.0 379.4,385.3 379.5,389.6 379.6,395.5 379.7,387.2 379.7,389.9 379.8,389.9 379.9,387.3 379.9,390.1 380.0,386.3 380.1,388.2 380.2,389.1 380.2,392.1 380.3,391.2 380.4,395.4 380.4,388.8 380.5,387.1 380.6,383.0 380.7,390.1 380.7,384.8 380.8,387.7 380.9,392.4 380.9,394.2 381.0,386.9 381.1,385.5 381.2,390.9 381.2,390.5 381.3,398.5 381.4,389.3 381.4,390.5 381.5,391.9 381.6,388.9 381.7,388.2 381.7,390.2 381.8,389.3 381.9,397.6 381.9,391.7 382.0,390.0 382.1,393.8 382.2,393.6 382.2,392.2 382.3,389.7 382.4,393.6 382.4,391.1 382.5,396.0 382.6,385.7 382.7,390.5 382.7,386.0 382.8,389.1 382.9,395.5 382.9,391.5 383.0,392.0 383.1,388.3 383.2,392.9 383.2,389.8 383.3,387.6 383.4,389.0 383.4,393.6 383.5,388.9 383.6,389.0 383.7,390.7 383.7,389.3 383.8,393.3 383.9,386.3 383.9,388.2 384.0,392.4 384.1,394.0 384.2,389.5 384.2,389.6 384.3,395.4 384.4,395.6 384.4,390.8 384.5,388.6 384.6,396.5 384.7,391.0 384.7,395.0 384.8,387.7 384.9,387.8 384.9,392.8 385.0,386.4 385.1,395.1 385.2,391.8 385.2,389.3 385.3,399.3 385.4,389.4 385.4,389.2 385.5,395.5 385.6,392.2 385.7,394.6 385.7,387.7 385.8,390.2 385.9,393.2 385.9,394.0 386.0,394.3 386.1,388.9 386.2,390.3 386.2,397.5 386.3,390.8 386.4,395.4 386.4,397.8 386.5,394.3 386.6,391.6 386.7,394.4 386.7,392.7 386.8,396.2 386.9,392.1 386.9,403.0 387.0,394.7 387.1,394.2 387.2,395.3 387.2,391.2 387.3,396.2 387.4,394.6 387.4,389.6 387.5,392.4 387.6,392.3 387.7,400.7 387.7,393.2 387.8,390.9 387.9,391.7 387.9,389.5 388.0,395.1 388.1,392.8 388.2,392.6 388.2,403.5 388.3,391.6 388.4,399.6 388.4,391.9 388.5,399.2 388.6,394.4 388.7,394.9 388.7,400.0 388.8,392.7 388.9,398.3 388.9,392.3 389.0,389.5 389.1,392.6 389.2,392.7 389.2,396.0 389.3,394.7 389.4,392.5 389.4,394.1 389.5,392.3 389.6,394.8 389.7,389.8 389.7,389.1 389.8,394.3 389.9,398.8 389.9,395.3 390.0,391.7 390.1,397.6 390.2,393.5 390.2,396.5 390.3,391.9 390.4,394.2 390.4,396.9 390.5,392.8 390.6,391.2 390.7,393.8 390.7,393.0 390.8,393.0 390.9,396.6 390.9,395.7 391.0,399.4 391.1,395.6 391.2,393.8 391.2,396.2 391.3,392.3 391.4,391.8 391.4,400.4 391.5,393.1 391.6,396.7 391.7,391.8 391.7,392.3 391.8,398.4 391.9,394.4 391.9,400.7 392.0,404.8 392.1,392.6 392.2,393.7 392.2,400.0 392.3,399.1 392.4,393.1 392.4,394.0 392.5,398.2 392.6,395.2 392.7,395.2 392.7,397.9 392.8,397.4 392.9,400.3 392.9,396.4 393.0,394.8 393.1,389.6 393.2,397.3 393.2,405.1 393.3,390.6 393.4,401.0 393.4,394.5 393.5,399.3 393.6,397.8 393.7,394.9 393.7,392.7 393.8,396.5 393.9,394.1 394.0,399.4 394.0,395.6 394.1,394.6 394.2,394.9 394.2,395.0 394.3,398.1 394.4,395.9 394.5,395.1 394.5,399.5 394.6,402.0 394.7,397.2 394.7,400.2 394.8,392.4 394.9,399.6 395.0,395.7 395.0,397.7 395.1,394.8 395.2,393.2 395.2,400.1 395.3,393.7 395.4,391.9 395.5,403.5 395.5,399.5 395.6,394.0 395.7,394.4 395.7,398.7 395.8,395.0 395.9,396.2 396.0,399.6 396.0,393.0 396.1,396.9 396.2,397.4 396.2,397.2 396.3,394.7 396.4,402.9 396.5,401.5 396.5,394.6 396.6,397.5 396.7,390.9 396.7,396.1 396.8,394.4 396.9,396.7 397.0,395.3 397.0,399.5 397.1,401.2 397.2,392.3 397.2,393.4 397.3,395.0 397.4,397.6 397.5,400.3 397.5,404.5 397.6,395.6 397.7,395.6 397.7,396.5 397.8,396.8 397.9,400.3 398.0,392.9 398.0,401.4 398.1,395.6 398.2,395.6 398.2,396.0 398.3,395.1 398.4,402.4 398.5,395.2 398.5,397.8 398.6,399.9 398.7,397.2 398.7,412.0 398.8,395.4 398.9,397.1 399.0,401.7 399.0,395.8 399.1,400.7 399.2,396.5 399.2,400.1 399.3,405.3 399.4,399.0 399.5,394.1 399.5,396.1 399.6,391.4 399.7,397.5 399.7,398.4 399.8,394.2 399.9,397.7 400.0,402.1 400.0,398.3 400.1,396.1 400.2,403.8 400.2,395.8 400.3,397.7 400.4,406.6 400.5,396.8 400.5,398.2 400.6,399.8 400.7,399.5 400.7,395.7 400.8,395.6 400.9,403.0 401.0,395.8 401.0,400.4 401.1,397.5 401.2,400.1 401.2,405.7 401.3,398.1 401.4,399.7 401.5,398.2 401.5,398.3 401.6,403.0 401.7,399.6 401.7,397.5 401.8,399.5 401.9,411.7 402.0,413.8 402.0,391.3 402.1,393.4 402.2,401.0 402.2,403.0 402.3,400.7 402.4,395.4 402.5,396.6 402.5,408.6 402.6,398.7 402.7,402.1 402.7,395.5 402.8,405.9 402.9,402.1 403.0,403.9 403.0,403.1 403.1,402.5 403.2,399.4 403.2,398.9 403.3,401.7 403.4,398.2 403.5,400.0 403.5,411.2 403.6,399.4 403.7,407.6 403.7,396.9 403.8,398.7 403.9,403.6 404.0,404.7 404.0,410.5 404.1,399.0 404.2,408.5 404.2,399.1 404.3,399.1 404.4,398.6 404.5,395.7 404.5,397.9 404.6,404.4 404.7,397.2 404.7,401.6 404.8,399.1 404.9,413.8 405.0,405.2 405.0,399.1 405.1,398.8 405.2,396.1 405.2,408.3 405.3,399.2 405.4,399.3 405.5,400.5 405.5,404.0 405.6,405.1 405.7,397.9 405.7,398.6 405.8,397.8 405.9,401.8 406.0,407.1 406.0,400.0 406.1,398.1 406.2,399.3 406.2,398.9 406.3,398.7 406.4,399.7 406.5,398.1 406.5,400.0 406.6,406.4 406.7,417.3 406.7,412.2 406.8,400.3 406.9,402.5 407.0,402.2 407.0,402.2 407.1,400.7 407.2,410.7 407.2,398.6 407.3,403.8 407.4,400.5 407.5,400.9 407.5,408.1 407.6,406.4 407.7,399.1 407.7,408.0 407.8,402.8 407.9,398.9 408.0,400.0 408.0,399.6 408.1,403.3 408.2,401.2 408.2,394.4 408.3,406.4 408.4,399.4 408.5,400.3 408.5,405.9 408.6,394.1 408.7,409.6 408.7,408.8 408.8,407.9 408.9,402.2 409.0,400.6 409.0,404.5 409.1,402.2 409.2,401.7 409.2,402.5 409.3,397.2 409.4,412.7 409.5,404.8 409.5,402.0 409.6,401.8 409.7,402.2 409.7,402.2 409.8,407.2 409.9,397.4 410.0,400.5 410.0,398.4 410.1,399.7 410.2,403.8 410.2,402.2 410.3,407.2 410.4,408.0 410.5,404.4 410.5,413.7 410.6,401.0 410.7,397.3 410.7,399.0 410.8,407.2 410.9,401.6 411.0,406.6 411.0,405.1 411.1,405.1 411.2,402.9 411.2,410.1 411.3,401.1 411.4,400.4 411.5,398.6 411.5,403.0 411.6,402.3 411.7,426.0 411.7,407.4 411.8,397.1 411.9,401.3 412.0,403.4 412.0,406.5 412.1,407.5 412.2,402.3 412.2,402.9 412.3,410.8 412.4,411.3 412.5,407.4 412.5,411.4 412.6,404.5 412.7,403.7 412.7,416.7 412.8,404.3 412.9,410.1 413.0,402.4 413.0,401.8 413.1,405.0 413.2,408.9 413.2,416.0 413.3,398.6 413.4,408.2 413.5,402.1 413.5,401.0 413.6,403.5 413.7,407.1 413.7,403.9 413.8,401.0 413.9,406.3 414.0,401.0 414.0,401.8 414.1,397.5 414.2,401.7 414.2,401.1 414.3,404.7 414.4,412.7 414.5,416.9 414.5,407.4 414.6,403.3 414.7,402.6 414.7,404.5 414.8,405.7 414.9,401.8 415.0,404.3 415.0,407.5 415.1,402.5 415.2,415.9 415.2,408.4 415.3,402.2 415.4,409.1 415.5,402.4 415.5,402.0 415.6,401.9 415.7,398.8 415.7,413.8 415.8,411.6 415.9,405.4 416.0,400.9 416.0,402.9 416.1,410.4 416.2,402.0 416.2,402.6 416.3,408.7 416.4,401.3 416.5,408.0 416.5,403.1 416.6,404.6 416.7,403.1 416.7,412.8 416.8,408.7 416.9,404.0 417.0,413.6 417.0,398.0 417.1,404.8 417.2,406.7 417.2,405.0 417.3,405.1 417.4,405.1 417.5,402.6 417.5,417.0 417.6,404.7 417.7,408.5 417.7,403.1 417.8,415.9 417.9,405.9 418.0,411.4 418.0,408.1 418.1,418.8 418.2,416.7 418.2,408.0 418.3,418.4 418.4,424.3 418.5,405.7 418.5,405.1 418.6,400.4 418.7,406.6 418.7,414.5 418.8,409.7 418.9,405.6 419.0,402.7 419.0,403.2 419.1,402.9 419.2,402.9 419.2,408.6 419.3,397.9 419.4,405.0 419.5,405.7 419.5,415.1 419.6,406.8 419.7,403.6 419.7,400.7 419.8,405.1 419.9,401.0 420.0,399.9 420.0,415.0 420.1,409.2 420.2,409.0 420.2,413.7 420.3,400.1 420.4,404.2 420.5,414.6 420.5,404.8 420.6,409.0 420.7,407.8 420.8,414.1 420.8,404.6 420.9,407.0 421.0,411.7 421.0,402.4 421.1,412.1 421.2,413.4 421.3,403.2 421.3,408.4 421.4,409.0 421.5,403.6 421.5,407.2 421.6,423.0 421.7,405.8 421.8,407.3 421.8,407.9 421.9,403.7 422.0,405.8 422.0,417.8 422.1,416.2 422.2,412.4 422.3,408.5 422.3,403.2 422.4,414.7 422.5,406.1 422.5,405.5 422.6,414.8 422.7,404.8 422.8,403.7 422.8,404.3 422.9,404.5 423.0,408.7 423.0,404.8 423.1,417.2 423.2,413.2 423.3,401.1 423.3,414.6 423.4,420.2 423.5,404.0 423.5,400.5 423.6,423.5 423.7,407.1 423.8,405.8 423.8,404.1 423.9,410.8 424.0,406.5 424.0,405.0 424.1,409.5 424.2,412.6 424.3,407.3 424.3,406.7 424.4,420.1 424.5,423.4 424.5,412.8 424.6,406.0 424.7,413.1 424.8,406.8 424.8,405.2 424.9,411.9 425.0,411.9 425.0,407.4 425.1,424.4 425.2,407.8 425.3,404.8 425.3,405.4 425.4,407.6 425.5,406.6 425.5,409.1 425.6,410.5 425.7,402.4 425.8,405.6 425.8,405.7 425.9,412.7 426.0,407.5 426.0,411.7 426.1,427.4 426.2,415.0 426.3,420.5 426.3,407.0 426.4,400.0 426.5,401.7 426.5,408.4 426.6,421.6 426.7,413.5 426.8,418.5 426.8,409.0 426.9,420.1 427.0,421.3 427.0,409.9 427.1,407.0 427.2,406.8 427.3,402.4 427.3,404.2 427.4,416.8 427.5,398.4 427.5,408.8 427.6,411.6 427.7,430.4 427.8,405.8 427.8,413.0 427.9,421.3 428.0,405.5 428.0,411.3 428.1,415.5 428.2,414.0 428.3,406.6 428.3,425.1 428.4,406.2 428.5,407.5 428.5,405.8 428.6,410.1 428.7,406.9 428.8,408.9 428.8,408.5 428.9,432.3 429.0,407.5 429.0,404.8 429.1,402.3 429.2,419.8 429.3,411.6 429.3,415.3 429.4,410.9 429.5,407.7 429.5,420.1 429.6,422.0 429.7,431.4 429.8,409.0 429.8,416.6 429.9,421.1 430.0,416.0 430.0,416.1 430.1,407.2 430.2,416.1 430.3,417.9 430.3,411.4 430.4,412.0 430.5,420.6 430.5,409.4 430.6,417.3 430.7,407.2 430.8,410.6 430.8,421.9 430.9,413.9 431.0,417.2 431.0,416.7 431.1,408.2 431.2,408.5 431.3,407.3 431.3,412.1 431.4,409.5 431.5,407.3 431.5,401.7 431.6,415.1 431.7,408.3 431.8,416.3 431.8,416.8 431.9,407.6 432.0,414.3 432.0,422.0 432.1,412.8 432.2,426.7 432.3,426.3 432.3,409.7 432.4,413.2 432.5,413.1 432.5,418.2 432.6,410.3 432.7,415.0 432.8,410.8 432.8,419.4 432.9,415.8 433.0,412.8 433.0,407.9 433.1,416.6 433.2,408.8 433.3,406.3 433.3,414.8 433.4,402.8 433.5,406.8 433.5,408.0 433.6,406.0 433.7,410.8 433.8,417.1 433.8,409.9 433.9,422.7 434.0,409.3 434.0,409.6 434.1,414.2 434.2,407.3 434.3,418.8 434.3,412.3 434.4,411.7 434.5,405.9 434.5,411.6 434.6,409.6 434.7,404.4 434.8,409.5 434.8,409.2 434.9,416.0 435.0,413.3 435.0,409.8 435.1,408.0 435.2,407.6 435.3,426.1 435.3,407.0 435.4,404.4 435.5,424.6 435.5,417.1 435.6,410.6 435.7,419.7 435.8,408.9 435.8,409.2 435.9,410.5 436.0,411.1 436.0,421.4 436.1,408.3 436.2,407.1 436.3,410.5 436.3,408.7 436.4,406.9 436.5,411.5 436.5,414.6 436.6,413.3 436.7,406.6 436.8,419.0 436.8,407.5 436.9,417.3 437.0,412.0 437.0,425.5 437.1,407.9 437.2,418.8 437.3,408.6 437.3,416.6 437.4,408.5 437.5,416.4 437.5,418.3 437.6,425.3 437.7,407.6 437.8,413.3 437.8,413.3 437.9,416.2 438.0,411.8 438.0,411.2 438.1,414.0 438.2,413.8 438.3,405.0 438.3,411.3 438.4,409.2 438.5,417.6 438.5,426.2 438.6,411.8 438.7,415.0 438.8,418.3 438.8,411.1 438.9,406.9 439.0,412.8 439.0,419.6 439.1,411.9 439.2,423.1 439.3,410.7 439.3,420.9 439.4,414.1 439.5,414.3 439.5,410.2 439.6,417.6 439.7,411.6 439.8,409.4 439.8,431.7 439.9,408.7 440.0,406.5 440.0,413.0 440.1,417.2 440.2,412.1 440.3,410.8 440.3,416.2 440.4,411.7 440.5,410.7 440.5,420.2 440.6,408.9 440.7,416.6 440.8,406.9 440.8,413.0 440.9,422.2 441.0,420.8 441.0,410.3 441.1,413.8 441.2,421.5 441.3,405.2 441.3,409.8 441.4,412.5 441.5,410.3 441.5,412.7 441.6,417.9 441.7,418.8 441.8,412.9 441.8,409.7 441.9,413.1 442.0,407.6 442.0,429.3 442.1,406.5 442.2,410.2 442.3,418.0 442.3,411.7 442.4,420.8 442.5,413.8 442.5,430.2 442.6,424.5 442.7,417.3 442.8,412.8 442.8,408.1 442.9,407.5 443.0,423.8 443.0,410.0 443.1,415.4 443.2,406.0 443.3,408.9 443.3,409.8 443.4,425.9 443.5,414.9 443.5,419.4 443.6,412.6 443.7,404.8 443.8,425.6 443.8,409.2 443.9,412.7 444.0,422.4 444.0,420.8 444.1,437.9 444.2,412.6 444.3,409.8 444.3,410.5 444.4,418.5 444.5,410.0 444.5,406.1 444.6,420.2 444.7,415.8 444.8,410.5 444.8,413.7 444.9,415.1 445.0,408.2 445.0,427.2 445.1,416.7 445.2,419.9 445.3,420.9 445.3,407.2 445.4,431.3 445.5,414.3 445.5,413.7 445.6,409.7 445.7,408.4 445.8,416.9 445.8,416.3 445.9,414.8 446.0,427.0 446.0,414.1 446.1,422.9 446.2,407.9 446.3,430.3 446.3,414.7 446.4,416.1 446.5,414.9 446.5,428.9 446.6,417.1 446.7,414.0 446.8,425.5 446.8,416.7 446.9,422.9 447.0,419.0 447.0,412.2 447.1,413.2 447.2,409.6 447.3,415.0 447.3,414.0 447.4,413.8 447.5,413.3 447.6,420.0 447.6,409.2 447.7,433.2 447.8,422.0 447.8,408.7 447.9,407.8 448.0,423.3 448.1,413.1 448.1,411.1 448.2,434.2 448.3,407.1 448.3,421.6 448.4,410.9 448.5,409.5 448.6,434.1 448.6,411.1 448.7,427.3 448.8,418.9 448.8,442.3 448.9,427.9 449.0,413.1 449.1,412.9 449.1,424.6 449.2,414.3 449.3,425.8 449.3,417.8 449.4,405.7 449.5,420.3 449.6,414.4 449.6,416.8 449.7,425.2 449.8,416.3 449.8,436.0 449.9,415.4 450.0,410.9 450.1,415.4 450.1,407.1 450.2,427.9 450.3,424.7 450.3,411.3 450.4,422.7 450.5,427.6 450.6,412.9 450.6,422.2 450.7,433.9 450.8,417.3 450.8,427.2 450.9,415.4 451.0,427.7 451.1,430.2 451.1,415.1 451.2,409.1 451.3,421.1 451.3,414.6 451.4,407.4 451.5,424.7 451.6,438.9 451.6,412.1 451.7,410.2 451.8,438.7 451.8,414.3 451.9,430.6 452.0,416.2 452.1,419.2 452.1,412.1 452.2,407.8 452.3,425.3 452.3,419.8 452.4,408.3 452.5,409.7 452.6,410.8 452.6,428.3 452.7,431.4 452.8,433.2 452.8,425.4 452.9,420.9 453.0,420.4 453.1,414.0 453.1,430.8 453.2,415.4 453.3,418.1 453.3,414.3 453.4,415.9 453.5,409.3 453.6,441.7 453.6,416.8 453.7,424.5 453.8,422.6 453.8,433.6 453.9,419.8 454.0,413.8 454.1,412.9 454.1,412.3 454.2,422.3 454.3,404.9 454.3,424.2 454.4,413.7 454.5,423.2 454.6,426.1 454.6,417.1 454.7,430.8 454.8,414.0 454.8,427.9 454.9,443.0 455.0,414.4 455.1,414.6 455.1,407.5 455.2,420.3 455.3,424.1 455.3,412.0 455.4,422.3 455.5,420.0 455.6,425.3 455.6,430.3 455.7,410.5 455.8,421.5 455.8,417.2 455.9,411.6 456.0,417.4 456.1,417.9 456.1,417.4 456.2,419.5 456.3,418.1 456.3,408.7 456.4,413.5 456.5,413.6 456.6,422.4 456.6,408.6 456.7,421.2 456.8,412.6 456.8,421.1 456.9,409.6 457.0,410.7 457.1,416.7 457.1,431.3 457.2,415.2 457.3,410.1 457.3,423.4 457.4,413.8 457.5,415.1 457.6,418.1 457.6,418.3 457.7,414.9 457.8,437.7 457.8,414.1 457.9,423.0 458.0,410.6 458.1,410.1 458.1,431.1 458.2,435.3 458.3,407.0 458.3,422.0 458.4,413.5 458.5,425.2 458.6,420.9 458.6,420.5 458.7,416.7 458.8,432.9 458.8,420.0 458.9,415.9 459.0,420.2 459.1,414.6 459.1,445.1 459.2,414.0 459.3,431.2 459.3,419.5 459.4,423.7 459.5,413.0 459.6,417.5 459.6,417.4 459.7,422.7 459.8,418.4 459.8,415.8 459.9,417.8 460.0,409.7 460.1,429.2 460.1,413.3 460.2,420.0 460.3,426.4 460.3,425.5 460.4,422.7 460.5,405.1 460.6,417.5 460.6,417.0 460.7,423.7 460.8,415.3 460.8,429.6 460.9,413.7 461.0,413.8 461.1,438.0 461.1,418.5 461.2,428.4 461.3,428.8 461.3,413.8 461.4,418.4 461.5,422.5 461.6,427.2 461.6,435.8 461.7,415.7 461.8,424.5 461.8,414.3 461.9,414.5 462.0,433.6 462.1,412.9 462.1,410.4 462.2,416.7 462.3,422.4 462.3,423.7 462.4,419.9 462.5,438.5 462.6,412.6 462.6,414.5 462.7,423.5 462.8,437.4 462.8,418.4 462.9,437.4 463.0,416.2 463.1,417.9 463.1,415.1 463.2,435.0 463.3,422.2 463.3,430.1 463.4,431.7 463.5,443.4 463.6,431.4 463.6,435.8 463.7,430.4 463.8,436.2 463.8,436.3 463.9,413.4 464.0,427.0 464.1,440.2 464.1,422.7 464.2,432.2 464.3,427.0 464.3,433.0 464.4,418.5 464.5,417.3 464.6,423.7 464.6,434.1 464.7,410.1 464.8,431.4 464.8,414.3 464.9,423.4 465.0,434.1 465.1,425.1 465.1,417.0 465.2,440.4 465.3,417.9 465.3,422.0 465.4,412.7 465.5,416.2 465.6,418.4 465.6,417.6 465.7,426.6 465.8,418.1 465.8,411.5 465.9,425.6 466.0,417.1 466.1,419.8 466.1,421.7 466.2,435.3 466.3,415.5 466.3,421.3 466.4,417.2 466.5,427.3 466.6,419.7 466.6,419.7 466.7,410.0 466.8,420.4 466.8,435.1 466.9,417.0 467.0,442.1 467.1,416.0 467.1,409.1 467.2,412.1 467.3,429.0 467.3,416.7 467.4,427.6 467.5,430.6 467.6,428.5 467.6,445.4 467.7,427.5 467.8,433.6 467.8,422.0 467.9,431.3 468.0,420.4 468.1,432.3 468.1,423.8 468.2,426.9 468.3,418.7 468.3,423.8 468.4,450.1 468.5,419.9 468.6,415.6 468.6,425.5 468.7,413.4 468.8,410.2 468.8,413.8 468.9,425.6 469.0,433.6 469.1,418.1 469.1,420.6 469.2,411.7 469.3,417.4 469.3,418.3 469.4,422.8 469.5,434.0 469.6,420.7 469.6,417.7 469.7,409.5 469.8,415.7 469.8,421.0 469.9,433.3 470.0,425.5 470.1,420.5 470.1,436.2 470.2,413.7 470.3,444.3 470.3,433.0 470.4,422.0 470.5,422.5 470.6,426.0 470.6,425.5 470.7,411.6 470.8,421.9 470.8,429.5 470.9,418.0 471.0,412.6 471.1,422.4 471.1,431.2 471.2,422.4 471.3,428.6 471.3,429.3 471.4,418.1 471.5,433.6 471.6,417.7 471.6,430.1 471.7,421.5 471.8,419.8 471.8,442.5 471.9,429.4 472.0,414.3 472.1,438.0 472.1,424.2 472.2,420.7 472.3,419.2 472.3,417.9 472.4,419.4 472.5,422.2 472.6,434.2 472.6,423.6 472.7,413.2 472.8,413.9 472.8,438.0 472.9,411.7 473.0,421.8 473.1,418.9 473.1,415.9 473.2,416.2 473.3,435.5 473.3,431.4 473.4,419.2 473.5,421.9 473.6,422.2 473.6,419.8 473.7,416.8 473.8,422.8 473.8,433.4 473.9,417.7 474.0,421.0 474.1,412.6 474.1,421.4 474.2,433.1 474.3,415.3 474.4,424.5 474.4,415.9 474.5,419.3 474.6,426.9 474.6,436.6 474.7,416.8 474.8,429.5 474.9,418.6 474.9,418.4 475.0,437.5 475.1,431.9 475.1,404.2 475.2,441.0 475.3,423.4 475.4,411.6 475.4,443.2 475.5,416.8 475.6,427.4 475.6,409.2 475.7,428.8 475.8,418.9 475.9,429.6 475.9,424.8 476.0,420.3 476.1,416.4 476.1,420.7 476.2,421.4 476.3,422.5 476.4,413.1 476.4,418.5 476.5,427.4 476.6,416.5 476.6,424.8 476.7,434.3 476.8,427.2 476.9,416.9 476.9,438.5 477.0,415.1 477.1,425.8 477.1,437.8 477.2,429.5 477.3,424.8 477.4,418.4 477.4,433.0 477.5,431.2 477.6,416.0 477.6,438.8 477.7,458.0 477.8,439.4 477.9,425.5 477.9,422.0 478.0,424.5 478.1,409.3 478.1,414.3 478.2,442.7 478.3,412.0 478.4,429.8 478.4,421.3 478.5,427.4 478.6,416.7 478.6,434.4 478.7,454.2 478.8,422.8 478.9,419.9 478.9,433.4 479.0,423.9 479.1,417.6 479.1,415.7 479.2,434.4 479.3,436.0 479.4,430.4 479.4,441.1 479.5,409.4 479.6,426.7 479.6,431.4 479.7,423.7 479.8,418.2 479.9,422.8 479.9,420.2 480.0,423.8 480.1,424.2 480.1,416.9 480.2,407.8 480.3,414.1 480.4,443.3 480.4,422.9 480.5,421.7 480.6,420.1 480.6,438.2 480.7,431.9 480.8,445.8 480.9,423.3 480.9,440.9 481.0,441.8 481.1,414.5 481.1,435.5 481.2,439.8 481.3,426.8 481.4,425.1 481.4,417.9 481.5,416.9 481.6,413.4 481.6,415.7 481.7,431.4 481.8,438.0 481.9,422.0 481.9,416.1 482.0,431.4 482.1,427.4 482.1,433.4 482.2,426.7 482.3,426.0 482.4,422.0 482.4,422.7 482.5,424.0 482.6,419.5 482.6,447.7 482.7,435.5 482.8,420.2 482.9,428.0 482.9,422.1 483.0,441.4 483.1,429.0 483.1,433.4 483.2,427.8 483.3,421.1 483.4,432.2 483.4,419.1 483.5,421.2 483.6,439.4 483.6,443.8 483.7,424.5 483.8,424.8 483.9,414.2 483.9,429.9 484.0,417.6 484.1,427.6 484.1,446.6 484.2,445.9 484.3,420.7 484.4,421.9 484.4,443.5 484.5,438.5 484.6,427.8 484.6,426.9 484.7,422.7 484.8,414.4 484.9,454.9 484.9,448.6 485.0,452.8 485.1,410.3 485.1,412.8 485.2,432.4 485.3,436.0 485.4,442.1 485.4,415.5 485.5,415.8 485.6,447.6 485.6,422.4 485.7,422.5 485.8,438.5 485.9,427.6 485.9,426.2 486.0,419.7 486.1,421.3 486.1,416.4 486.2,438.8 486.3,432.6 486.4,439.2 486.4,422.7 486.5,443.9 486.6,554.2 486.6,428.8 486.7,426.4 486.8,454.1 486.9,422.0 486.9,435.6 487.0,425.2 487.1,434.5 487.1,459.0 487.2,448.6 487.3,426.1 487.4,425.9 487.4,429.5" fill="none" stroke="#000" stroke-width="1.1" stroke-linejoin="round"/>
<polyline points="219.5,326.9 219.6,326.4 219.6,326.3 219.7,326.4 219.8,324.6 219.9,324.3 219.9,324.4 220.0,324.8 220.1,323.4 220.1,323.2 220.2,321.7 220.3,321.6 220.4,321.1 220.4,320.3 220.5,321.2 220.6,319.3 220.6,319.4 220.7,319.1 220.8,319.5 220.9,317.8 220.9,317.2 221.0,318.1 221.1,316.4 221.1,315.6 221.2,316.1 221.3,315.7 221.4,314.0 221.4,314.5 221.5,313.4 221.6,313.6 221.6,312.4 221.7,312.1 221.8,311.4 221.9,311.0 221.9,310.6 222.0,310.6 222.1,309.6 222.1,309.2 222.2,309.3 222.3,308.4 222.4,308.0 222.4,307.8 222.5,306.4 222.6,306.6 222.6,306.1 222.7,306.0 222.8,305.7 222.9,304.2 222.9,304.0 223.0,304.2 223.1,305.1 223.1,304.8 223.2,304.3 223.3,305.4 223.4,304.5 223.4,305.6 223.5,304.9 223.6,305.0 223.6,305.1 223.7,305.1 223.8,305.3 223.9,305.4 223.9,305.4 224.0,305.9 224.1,305.6 224.1,306.0 224.2,305.8 224.3,305.7 224.4,305.6 224.4,305.6 224.5,305.7 224.6,306.0 224.6,305.7 224.7,305.9 224.8,306.2 224.9,306.5 224.9,306.5 225.0,306.1 225.1,306.3 225.1,306.5 225.2,306.5 225.3,306.9 225.4,306.5 225.4,307.1 225.5,307.9 225.6,306.8 225.6,307.1 225.7,307.6 225.8,307.9 225.9,307.8 225.9,307.0 226.0,307.7 226.1,307.6 226.1,307.2 226.2,307.6 226.3,307.8 226.4,307.7 226.4,307.8 226.5,307.8 226.6,308.2 226.6,308.4 226.7,309.2 226.8,308.2 226.9,308.9 226.9,308.5 227.0,308.1 227.1,308.2 227.1,308.5 227.2,308.6 227.3,308.6 227.4,309.0 227.4,309.6 227.5,309.3 227.6,309.4 227.6,308.5 227.7,309.4 227.8,309.4 227.9,308.9 227.9,309.7 228.0,309.7 228.1,310.1 228.1,309.5 228.2,310.5 228.3,309.9 228.4,309.6 228.4,310.4 228.5,310.2 228.6,309.9 228.6,310.2 228.7,310.0 228.8,311.1 228.9,310.7 228.9,310.4 229.0,310.1 229.1,310.9 229.1,310.8 229.2,310.4 229.3,310.9 229.4,311.2 229.4,311.6 229.5,310.5 229.6,310.7 229.6,311.5 229.7,311.0 229.8,311.1 229.9,312.0 229.9,312.1 230.0,311.3 230.1,312.0 230.1,311.3 230.2,312.2 230.3,311.9 230.4,311.4 230.4,311.6 230.5,311.8 230.6,311.6 230.6,311.7 230.7,312.4 230.8,311.9 230.9,312.2 230.9,312.0 231.0,311.7 231.1,311.7 231.1,312.3 231.2,313.2 231.3,312.2 231.4,312.1 231.4,312.0 231.5,312.3 231.6,312.7 231.6,312.5 231.7,313.2 231.8,312.3 231.9,312.5 231.9,312.7 232.0,313.1 232.1,313.5 232.1,313.0 232.2,313.4 232.3,313.1 232.4,312.8 232.4,313.1 232.5,313.5 232.6,313.0 232.6,313.0 232.7,313.8 232.8,313.8 232.9,313.3 232.9,313.7 233.0,313.8 233.1,314.7 233.2,314.7 233.2,313.9 233.3,314.1 233.4,314.7 233.4,314.2 233.5,314.2 233.6,314.2 233.7,313.9 233.7,314.3 233.8,315.2 233.9,314.6 233.9,314.8 234.0,314.8 234.1,315.5 234.2,314.9 234.2,314.9 234.3,314.8 234.4,315.0 234.4,314.8 234.5,315.6 234.6,315.1 234.7,316.0 234.7,315.0 234.8,315.5 234.9,314.9 234.9,315.4 235.0,316.0 235.1,316.1 235.2,315.9 235.2,315.2 235.3,316.4 235.4,317.1 235.4,315.5 235.5,315.8 235.6,315.9 235.7,316.7 235.7,315.8 235.8,316.9 235.9,316.2 235.9,316.0 236.0,316.6 236.1,315.9 236.2,317.6 236.2,316.4 236.3,316.7 236.4,317.1 236.4,316.6 236.5,317.1 236.6,316.7 236.7,316.8 236.7,317.9 236.8,318.9 236.9,316.9 236.9,318.5 237.0,316.9 237.1,317.0 237.2,316.8 237.2,318.5 237.3,317.9 237.4,317.5 237.4,317.4 237.5,317.4 237.6,317.3 237.7,318.2 237.7,317.9 237.8,317.6 237.9,317.7 237.9,316.9 238.0,318.6 238.1,318.3 238.2,317.9 238.2,317.7 238.3,318.0 238.4,317.7 238.4,318.5 238.5,317.6 238.6,318.4 238.7,319.2 238.7,318.2 238.8,319.1 238.9,318.4 238.9,318.2 239.0,318.4 239.1,318.5 239.2,319.0 239.2,318.4 239.3,318.6 239.4,318.5 239.4,318.7 239.5,318.8 239.6,319.2 239.7,319.7 239.7,318.7 239.8,319.3 239.9,319.1 239.9,319.0 240.0,318.8 240.1,319.4 240.2,320.3 240.2,318.8 240.3,319.1 240.4,319.8 240.4,319.4 240.5,319.4 240.6,321.0 240.7,319.4 240.7,321.0 240.8,320.3 240.9,320.1 240.9,319.5 241.0,321.8 241.1,319.7 241.2,320.4 241.2,319.7 241.3,319.3 241.4,319.2 241.4,321.3 241.5,320.6 241.6,320.0 241.7,321.0 241.7,320.1 241.8,319.9 241.9,319.8 241.9,322.1 242.0,321.1 242.1,321.2 242.2,320.2 242.2,320.5 242.3,320.5 242.4,321.2 242.4,320.8 242.5,320.5 242.6,320.6 242.7,321.0 242.7,321.0 242.8,320.9 242.9,321.7 242.9,321.5 243.0,321.6 243.1,320.2 243.2,320.6 243.2,321.1 243.3,321.0 243.4,321.2 243.4,321.9 243.5,321.6 243.6,320.7 243.7,322.0 243.7,321.8 243.8,321.6 243.9,323.5 243.9,322.1 244.0,321.7 244.1,321.6 244.2,321.5 244.2,321.5 244.3,321.9 244.4,323.1 244.4,322.7 244.5,323.5 244.6,322.0 244.7,321.9 244.7,321.5 244.8,322.2 244.9,321.8 244.9,321.9 245.0,322.2 245.1,322.0 245.2,322.5 245.2,321.9 245.3,322.3 245.4,323.8 245.4,322.7 245.5,322.1 245.6,322.7 245.7,322.5 245.7,322.2 245.8,323.2 245.9,323.3 245.9,322.6 246.0,322.7 246.1,322.9 246.2,323.1 246.2,322.5 246.3,323.0 246.4,324.2 246.4,323.0 246.5,323.6 246.6,323.1 246.7,325.7 246.7,323.3 246.8,324.1 246.9,323.6 246.9,325.2 247.0,323.6 247.1,325.2 247.2,324.1 247.2,323.5 247.3,323.7 247.4,323.7 247.4,323.4 247.5,325.0 247.6,324.0 247.7,323.6 247.7,323.8 247.8,324.1 247.9,323.6 247.9,324.2 248.0,324.6 248.1,325.0 248.2,323.7 248.2,323.8 248.3,325.0 248.4,324.0 248.4,324.6 248.5,324.1 248.6,324.2 248.7,325.8 248.7,325.0 248.8,323.7 248.9,324.0 248.9,324.6 249.0,324.7 249.1,325.5 249.2,324.7 249.2,324.1 249.3,324.6 249.4,325.0 249.4,325.2 249.5,324.6 249.6,324.4 249.7,324.6 249.7,325.3 249.8,325.8 249.9,325.1 249.9,326.3 250.0,325.5 250.1,326.9 250.2,325.6 250.2,324.6 250.3,325.4 250.4,325.1 250.4,326.3 250.5,325.4 250.6,325.3 250.7,326.5 250.7,326.0 250.8,326.8 250.9,325.5 250.9,325.8 251.0,325.6 251.1,326.3 251.2,325.1 251.2,326.2 251.3,326.2 251.4,326.7 251.4,326.1 251.5,325.4 251.6,326.2 251.7,328.1 251.7,328.0 251.8,325.8 251.9,325.8 251.9,326.0 252.0,326.1 252.1,327.0 252.2,326.2 252.2,327.3 252.3,326.7 252.4,326.8 252.4,326.2 252.5,326.9 252.6,326.2 252.7,326.6 252.7,326.5 252.8,326.6 252.9,327.6 252.9,326.6 253.0,327.6 253.1,327.5 253.2,326.5 253.2,327.2 253.3,328.8 253.4,327.3 253.4,326.6 253.5,327.4 253.6,328.8 253.7,327.6 253.7,326.3 253.8,326.7 253.9,327.6 253.9,327.6 254.0,326.6 254.1,327.6 254.2,328.1 254.2,328.4 254.3,327.7 254.4,329.2 254.4,327.4 254.5,327.4 254.6,327.2 254.7,327.4 254.7,327.2 254.8,328.2 254.9,328.8 254.9,327.5 255.0,327.8 255.1,327.3 255.2,327.5 255.2,328.1 255.3,328.3 255.4,327.7 255.4,327.9 255.5,327.5 255.6,328.4 255.7,328.4 255.7,328.4 255.8,327.8 255.9,328.6 255.9,328.4 256.0,328.3 256.1,328.3 256.2,328.3 256.2,330.3 256.3,328.3 256.4,329.0 256.4,328.6 256.5,329.2 256.6,327.6 256.7,328.7 256.7,329.8 256.8,328.7 256.9,329.4 256.9,329.6 257.0,329.4 257.1,329.7 257.2,329.5 257.2,328.7 257.3,328.3 257.4,329.7 257.4,329.8 257.5,328.9 257.6,329.9 257.7,328.7 257.7,329.9 257.8,329.5 257.9,329.9 257.9,329.2 258.0,329.2 258.1,329.9 258.2,329.4 258.2,328.7 258.3,330.3 258.4,330.0 258.4,329.7 258.5,329.0 258.6,329.6 258.7,329.3 258.7,329.7 258.8,329.5 258.9,330.8 258.9,330.2 259.0,329.6 259.1,330.3 259.2,330.1 259.2,333.1 259.3,329.9 259.4,331.0 259.4,330.5 259.5,331.4 259.6,329.8 259.7,330.1 259.7,330.2 259.8,329.8 259.9,329.9 260.0,332.1 260.0,330.0 260.1,330.9 260.2,330.4 260.2,330.6 260.3,330.9 260.4,331.0 260.5,330.6 260.5,331.4 260.6,331.9 260.7,330.4 260.7,332.0 260.8,330.9 260.9,330.7 261.0,330.9 261.0,330.8 261.1,330.7 261.2,331.0 261.2,333.2 261.3,331.1 261.4,331.0 261.5,331.5 261.5,331.4 261.6,330.8 261.7,331.8 261.7,331.0 261.8,330.9 261.9,332.3 262.0,331.5 262.0,331.1 262.1,331.4 262.2,332.1 262.2,331.5 262.3,331.3 262.4,331.8 262.5,331.0 262.5,331.6 262.6,331.3 262.7,331.0 262.7,332.8 262.8,330.8 262.9,332.1 263.0,330.9 263.0,331.6 263.1,331.2 263.2,332.7 263.2,332.3 263.3,331.5 263.4,331.8 263.5,331.9 263.5,332.4 263.6,333.0 263.7,331.4 263.7,331.9 263.8,331.9 263.9,333.3 264.0,331.9 264.0,332.3 264.1,332.7 264.2,331.6 264.2,331.6 264.3,331.3 264.4,331.8 264.5,332.1 264.5,333.0 264.6,332.4 264.7,333.0 264.7,332.7 264.8,332.9 264.9,332.1 265.0,333.0 265.0,333.9 265.1,332.1 265.2,334.5 265.2,333.0 265.3,333.3 265.4,332.1 265.5,333.7 265.5,334.3 265.6,331.8 265.7,333.2 265.7,333.5 265.8,333.2 265.9,332.6 266.0,332.2 266.0,334.0 266.1,334.6 266.2,332.8 266.2,333.7 266.3,333.2 266.4,333.9 266.5,332.6 266.5,334.0 266.6,333.0 266.7,335.0 266.7,333.8 266.8,334.1 266.9,333.7 267.0,333.2 267.0,333.0 267.1,332.7 267.2,334.3 267.2,332.8 267.3,333.2 267.4,335.5 267.5,333.3 267.5,335.0 267.6,334.0 267.7,334.5 267.7,334.1 267.8,333.9 267.9,334.3 268.0,333.3 268.0,333.4 268.1,334.6 268.2,333.8 268.2,332.7 268.3,335.5 268.4,334.3 268.5,333.9 268.5,333.9 268.6,333.9 268.7,335.8 268.7,333.8 268.8,333.9 268.9,334.4 269.0,333.3 269.0,336.1 269.1,336.2 269.2,333.6 269.2,333.8 269.3,333.6 269.4,334.8 269.5,333.8 269.5,335.2 269.6,334.0 269.7,334.0 269.7,334.4 269.8,334.4 269.9,333.5 270.0,333.8 270.0,335.8 270.1,334.1 270.2,335.0 270.2,335.3 270.3,335.3 270.4,335.9 270.5,334.6 270.5,335.0 270.6,335.8 270.7,333.7 270.7,336.1 270.8,337.1 270.9,336.1 271.0,337.6 271.0,335.4 271.1,334.4 271.2,333.7 271.2,335.2 271.3,335.0 271.4,335.4 271.5,334.9 271.5,335.2 271.6,335.9 271.7,335.3 271.7,336.2 271.8,337.1 271.9,336.5 272.0,335.2 272.0,335.4 272.1,336.9 272.2,337.4 272.2,335.1 272.3,338.0 272.4,336.6 272.5,337.6 272.5,335.3 272.6,336.1 272.7,335.6 272.7,335.5 272.8,335.1 272.9,335.4 273.0,335.7 273.0,335.0 273.1,336.0 273.2,334.8 273.2,335.3 273.3,336.0 273.4,337.3 273.5,336.2 273.5,335.9 273.6,335.7 273.7,335.4 273.7,335.4 273.8,335.8 273.9,336.8 274.0,336.1 274.0,338.3 274.1,336.9 274.2,336.0 274.2,335.5 274.3,335.6 274.4,336.6 274.5,336.3 274.5,335.7 274.6,335.7 274.7,336.4 274.7,338.3 274.8,338.3 274.9,336.7 275.0,337.2 275.0,336.9 275.1,336.4 275.2,336.7 275.2,337.5 275.3,339.0 275.4,336.7 275.5,338.2 275.5,335.9 275.6,338.0 275.7,336.5 275.7,337.6 275.8,337.6 275.9,337.9 276.0,338.4 276.0,337.1 276.1,336.3 276.2,336.8 276.2,337.3 276.3,337.1 276.4,339.0 276.5,336.6 276.5,337.4 276.6,337.0 276.7,339.1 276.7,336.2 276.8,337.4 276.9,339.0 277.0,338.5 277.0,337.3 277.1,337.7 277.2,337.3 277.2,337.3 277.3,337.9 277.4,338.1 277.5,339.8 277.5,340.3 277.6,337.6 277.7,338.1 277.7,338.8 277.8,339.2 277.9,337.2 278.0,337.6 278.0,338.4 278.1,337.5 278.2,338.9 278.2,341.2 278.3,338.3 278.4,340.2 278.5,338.4 278.5,339.2 278.6,339.1 278.7,338.6 278.7,338.4 278.8,339.0 278.9,338.3 279.0,338.7 279.0,338.4 279.1,338.7 279.2,338.4 279.2,338.6 279.3,338.3 279.4,339.0 279.5,338.1 279.5,341.1 279.6,337.9 279.7,340.9 279.7,338.2 279.8,339.8 279.9,338.8 280.0,340.1 280.0,337.9 280.1,338.4 280.2,339.7 280.2,338.3 280.3,341.0 280.4,338.9 280.5,340.4 280.5,339.0 280.6,340.0 280.7,339.9 280.7,338.8 280.8,339.2 280.9,339.1 281.0,339.4 281.0,339.8 281.1,340.8 281.2,339.2 281.2,339.6 281.3,341.0 281.4,340.1 281.5,340.4 281.5,341.5 281.6,340.9 281.7,339.9 281.7,339.9 281.8,341.5 281.9,339.9 282.0,340.5 282.0,340.0 282.1,339.8 282.2,341.5 282.2,339.8 282.3,340.0 282.4,341.7 282.5,341.0 282.5,340.1 282.6,340.3 282.7,338.9 282.7,339.6 282.8,340.1 282.9,341.3 283.0,340.5 283.0,339.0 283.1,340.0 283.2,341.3 283.2,340.9 283.3,341.5 283.4,341.2 283.5,342.1 283.5,341.0 283.6,340.5 283.7,340.5 283.7,341.4 283.8,340.4 283.9,342.1 284.0,341.4 284.0,340.2 284.1,340.3 284.2,340.4 284.2,342.9 284.3,340.9 284.4,339.6 284.5,343.6 284.5,340.7 284.6,343.5 284.7,340.5 284.7,342.9 284.8,339.9 284.9,343.0 285.0,341.4 285.0,343.2 285.1,340.1 285.2,342.9 285.2,342.7 285.3,341.3 285.4,342.0 285.5,341.0 285.5,342.5 285.6,341.7 285.7,341.9 285.7,343.7 285.8,341.2 285.9,340.8 286.0,342.2 286.0,341.4 286.1,341.0 286.2,342.7 286.2,344.3 286.3,341.4 286.4,343.8 286.5,342.2 286.5,341.9 286.6,340.9 286.7,343.4 286.8,344.5 286.8,342.5 286.9,344.1 287.0,343.2 287.0,343.1 287.1,341.9 287.2,342.6 287.3,341.8 287.3,341.9 287.4,342.4 287.5,342.4 287.5,341.6 287.6,342.6 287.7,344.8 287.8,343.9 287.8,342.8 287.9,341.9 288.0,344.3 288.0,342.6 288.1,342.7 288.2,342.0 288.3,341.8 288.3,342.4 288.4,342.5 288.5,341.7 288.5,345.0 288.6,342.8 288.7,343.7 288.8,343.1 288.8,343.9 288.9,344.4 289.0,343.7 289.0,343.5 289.1,344.1 289.2,342.8 289.3,343.2 289.3,342.6 289.4,343.1 289.5,343.8 289.5,344.4 289.6,342.5 289.7,344.1 289.8,343.6 289.8,343.2 289.9,346.8 290.0,343.6 290.0,343.6 290.1,345.7 290.2,344.0 290.3,343.1 290.3,341.9 290.4,344.6 290.5,344.5 290.5,342.6 290.6,342.2 290.7,343.7 290.8,343.9 290.8,343.8 290.9,346.1 291.0,344.9 291.0,345.6 291.1,343.3 291.2,343.0 291.3,344.2 291.3,343.6 291.4,345.4 291.5,345.1 291.5,344.9 291.6,343.8 291.7,344.3 291.8,343.7 291.8,343.3 291.9,344.7 292.0,345.9 292.0,344.0 292.1,344.6 292.2,345.7 292.3,345.7 292.3,344.0 292.4,345.7 292.5,343.4 292.5,344.3 292.6,344.1 292.7,344.6 292.8,344.3 292.8,343.7 292.9,344.7 293.0,344.1 293.0,344.7 293.1,344.6 293.2,348.8 293.3,345.6 293.3,345.0 293.4,345.3 293.5,345.2 293.5,344.6 293.6,344.6 293.7,344.1 293.8,344.9 293.8,344.2 293.9,346.7 294.0,346.0 294.0,344.6 294.1,346.2 294.2,344.2 294.3,344.6 294.3,344.5 294.4,347.8 294.5,345.1 294.5,345.0 294.6,345.2 294.7,345.8 294.8,344.5 294.8,346.6 294.9,347.9 295.0,345.7 295.0,344.9 295.1,344.5 295.2,344.7 295.3,347.9 295.3,344.9 295.4,347.7 295.5,345.1 295.5,345.6 295.6,345.2 295.7,345.8 295.8,346.1 295.8,344.8 295.9,349.1 296.0,346.5 296.0,346.5 296.1,344.9 296.2,345.7 296.3,346.2 296.3,345.7 296.4,346.9 296.5,346.3 296.5,347.4 296.6,347.1 296.7,346.3 296.8,345.8 296.8,350.5 296.9,345.5 297.0,347.8 297.0,346.1 297.1,345.5 297.2,346.3 297.3,347.6 297.3,345.9 297.4,345.4 297.5,346.0 297.5,348.4 297.6,347.4 297.7,346.1 297.8,347.9 297.8,346.0 297.9,345.9 298.0,346.6 298.0,346.5 298.1,346.3 298.2,345.7 298.3,349.5 298.3,346.6 298.4,347.3 298.5,348.2 298.5,348.5 298.6,345.9 298.7,348.7 298.8,347.0 298.8,348.0 298.9,346.8 299.0,347.8 299.0,347.9 299.1,347.9 299.2,346.6 299.3,347.1 299.3,347.6 299.4,351.3 299.5,348.8 299.5,348.4 299.6,348.3 299.7,347.7 299.8,347.1 299.8,349.4 299.9,346.6 300.0,347.4 300.0,347.7 300.1,346.7 300.2,347.6 300.3,348.7 300.3,348.1 300.4,347.6 300.5,347.2 300.5,348.7 300.6,347.0 300.7,347.5 300.8,350.7 300.8,350.7 300.9,349.2 301.0,348.7 301.0,349.1 301.1,347.4 301.2,347.5 301.3,349.4 301.3,348.3 301.4,347.4 301.5,348.9 301.5,347.3 301.6,347.9 301.7,348.0 301.8,349.2 301.8,348.8 301.9,347.7 302.0,351.1 302.0,347.3 302.1,348.6 302.2,346.7 302.3,349.1 302.3,347.7 302.4,348.0 302.5,350.1 302.5,349.4 302.6,347.3 302.7,348.0 302.8,347.8 302.8,348.2 302.9,348.9 303.0,348.9 303.0,348.5 303.1,348.0 303.2,348.6 303.3,350.0 303.3,348.7 303.4,348.7 303.5,348.6 303.5,350.0 303.6,349.5 303.7,349.6 303.8,348.7 303.8,349.0 303.9,348.0 304.0,350.6 304.0,349.8 304.1,349.4 304.2,348.8 304.3,349.5 304.3,350.3 304.4,351.7 304.5,352.3 304.5,350.2 304.6,351.0 304.7,349.4 304.8,350.1 304.8,349.0 304.9,347.0 305.0,348.4 305.0,350.8 305.1,351.7 305.2,348.7 305.3,349.3 305.3,350.5 305.4,349.4 305.5,351.9 305.5,350.8 305.6,352.4 305.7,349.2 305.8,351.6 305.8,351.2 305.9,350.2 306.0,351.8 306.0,349.7 306.1,349.6 306.2,349.3 306.3,349.3 306.3,348.5 306.4,349.4 306.5,349.4 306.5,349.0 306.6,349.7 306.7,350.2 306.8,349.7 306.8,351.0 306.9,350.6 307.0,348.9 307.0,349.9 307.1,350.5 307.2,350.7 307.3,350.0 307.3,352.9 307.4,351.8 307.5,348.1 307.5,350.5 307.6,353.3 307.7,350.2 307.8,349.4 307.8,349.8 307.9,348.4 308.0,350.5 308.0,350.7 308.1,351.0 308.2,350.3 308.3,352.4 308.3,351.4 308.4,349.8 308.5,353.3 308.5,352.0 308.6,352.4 308.7,352.1 308.8,352.2 308.8,352.3 308.9,351.4 309.0,350.4 309.0,350.2 309.1,350.8 309.2,350.4 309.3,352.5 309.3,353.0 309.4,350.6 309.5,350.7 309.5,349.9 309.6,350.3 309.7,350.2 309.8,350.7 309.8,352.1 309.9,351.6 310.0,349.9 310.0,351.0 310.1,352.3 310.2,352.5 310.3,354.3 310.3,352.2 310.4,350.2 310.5,355.9 310.5,354.0 310.6,352.9 310.7,352.7 310.8,351.2 310.8,350.9 310.9,351.3 311.0,353.3 311.0,351.1 311.1,351.4 311.2,351.5 311.3,350.6 311.3,353.9 311.4,352.8 311.5,351.0 311.5,351.1 311.6,351.8 311.7,351.0 311.8,352.6 311.8,351.1 311.9,352.3 312.0,352.9 312.0,354.2 312.1,352.9 312.2,354.0 312.3,352.4 312.3,351.2 312.4,351.5 312.5,351.8 312.5,354.4 312.6,352.8 312.7,352.4 312.8,354.0 312.8,352.4 312.9,353.1 313.0,352.2 313.0,352.8 313.1,353.3 313.2,350.6 313.3,352.0 313.3,355.5 313.4,351.6 313.5,350.5 313.6,352.0 313.6,356.4 313.7,353.2 313.8,352.7 313.8,353.9 313.9,353.6 314.0,350.9 314.1,352.7 314.1,353.6 314.2,355.7 314.3,352.1 314.3,353.1 314.4,354.1 314.5,351.9 314.6,353.5 314.6,351.5 314.7,352.2 314.8,356.1 314.8,353.7 314.9,352.8 315.0,353.1 315.1,355.6 315.1,355.2 315.2,355.3 315.3,352.5 315.3,358.3 315.4,356.4 315.5,353.3 315.6,356.2 315.6,352.1 315.7,354.7 315.8,352.8 315.8,353.1 315.9,352.5 316.0,352.8 316.1,353.0 316.1,354.0 316.2,353.1 316.3,356.5 316.3,353.6 316.4,354.9 316.5,353.5 316.6,352.1 316.6,353.2 316.7,353.0 316.8,353.2 316.8,355.2 316.9,353.1 317.0,354.4 317.1,357.0 317.1,353.6 317.2,356.0 317.3,352.8 317.3,354.9 317.4,354.4 317.5,353.0 317.6,353.0 317.6,354.2 317.7,353.4 317.8,356.2 317.8,352.4 317.9,354.9 318.0,358.7 318.1,354.9 318.1,354.8 318.2,356.4 318.3,352.8 318.3,353.0 318.4,358.1 318.5,358.3 318.6,354.5 318.6,353.8 318.7,355.5 318.8,355.2 318.8,356.2 318.9,352.2 319.0,353.6 319.1,354.9 319.1,358.0 319.2,353.3 319.3,354.5 319.3,355.5 319.4,358.3 319.5,354.4 319.6,354.3 319.6,356.1 319.7,354.6 319.8,355.8 319.8,357.7 319.9,353.6 320.0,356.3 320.1,354.5 320.1,355.3 320.2,356.7 320.3,359.1 320.3,355.0 320.4,354.9 320.5,355.2 320.6,354.9 320.6,358.0 320.7,355.8 320.8,354.4 320.8,355.1 320.9,354.6 321.0,358.2 321.1,354.3 321.1,356.3 321.2,354.8 321.3,353.2 321.3,355.7 321.4,355.1 321.5,356.2 321.6,355.6 321.6,355.2 321.7,356.1 321.8,354.6 321.8,353.8 321.9,357.4 322.0,356.7 322.1,354.7 322.1,355.6 322.2,354.1 322.3,356.9 322.3,355.4 322.4,356.3 322.5,357.3 322.6,355.9 322.6,356.5 322.7,355.3 322.8,358.7 322.8,359.3 322.9,357.7 323.0,356.9 323.1,357.6 323.1,354.6 323.2,355.5 323.3,356.1 323.3,356.1 323.4,361.3 323.5,357.6 323.6,356.2 323.6,355.5 323.7,355.6 323.8,357.7 323.8,356.9 323.9,355.3 324.0,355.3 324.1,359.4 324.1,355.2 324.2,355.7 324.3,356.0 324.3,357.3 324.4,358.5 324.5,355.1 324.6,355.5 324.6,358.0 324.7,356.6 324.8,357.2 324.8,357.6 324.9,358.0 325.0,356.8 325.1,356.7 325.1,357.6 325.2,356.5 325.3,356.7 325.3,356.6 325.4,356.0 325.5,361.9 325.6,357.1 325.6,356.4 325.7,356.6 325.8,356.2 325.8,360.7 325.9,358.4 326.0,357.6 326.1,359.2 326.1,356.9 326.2,357.6 326.3,357.2 326.3,355.0 326.4,356.4 326.5,356.5 326.6,358.0 326.6,356.5 326.7,356.6 326.8,357.4 326.8,360.7 326.9,357.4 327.0,359.9 327.1,357.7 327.1,357.0 327.2,356.8 327.3,358.0 327.3,357.7 327.4,355.5 327.5,357.3 327.6,359.7 327.6,357.5 327.7,357.7 327.8,360.9 327.8,359.3 327.9,357.7 328.0,358.0 328.1,356.3 328.1,359.1 328.2,357.5 328.3,358.3 328.3,360.1 328.4,357.4 328.5,360.1 328.6,362.9 328.6,360.6 328.7,357.9 328.8,358.1 328.8,360.6 328.9,358.0 329.0,361.0 329.1,357.4 329.1,360.8 329.2,358.3 329.3,358.5 329.3,360.7 329.4,359.7 329.5,357.8 329.6,357.8 329.6,357.5 329.7,363.2 329.8,360.0 329.8,360.4 329.9,357.0 330.0,358.7 330.1,361.0 330.1,358.5 330.2,358.5 330.3,359.0 330.3,359.0 330.4,359.7 330.5,360.8 330.6,360.6 330.6,358.6 330.7,357.8 330.8,363.2 330.8,356.9 330.9,359.9 331.0,362.9 331.1,360.9 331.1,359.9 331.2,356.9 331.3,359.2 331.3,359.7 331.4,358.8 331.5,365.6 331.6,358.9 331.6,358.8 331.7,360.3 331.8,361.6 331.8,359.7 331.9,360.6 332.0,358.7 332.1,364.7 332.1,358.3 332.2,359.3 332.3,359.6 332.3,359.9 332.4,358.6 332.5,361.2 332.6,359.8 332.6,364.1 332.7,360.1 332.8,363.5 332.8,361.1 332.9,360.0 333.0,362.4 333.1,364.8 333.1,361.1 333.2,363.2 333.3,358.8 333.3,360.7 333.4,360.1 333.5,364.0 333.6,358.8 333.6,361.2 333.7,360.4 333.8,360.1 333.8,361.4 333.9,361.2 334.0,360.0 334.1,358.7 334.1,361.5 334.2,361.5 334.3,359.2 334.3,359.5 334.4,362.3 334.5,360.3 334.6,359.8 334.6,359.7 334.7,361.3 334.8,360.5 334.8,362.8 334.9,359.8 335.0,363.0 335.1,359.7 335.1,363.2 335.2,360.1 335.3,361.4 335.3,361.7 335.4,364.5 335.5,361.3 335.6,360.1 335.6,360.2 335.7,361.1 335.8,366.6 335.8,364.4 335.9,365.2 336.0,360.5 336.1,359.3 336.1,362.1 336.2,360.5 336.3,359.5 336.3,367.5 336.4,362.4 336.5,361.9 336.6,360.9 336.6,359.0 336.7,364.1 336.8,359.6 336.8,367.3 336.9,365.0 337.0,361.8 337.1,363.1 337.1,361.4 337.2,361.7 337.3,360.0 337.3,363.4 337.4,358.8 337.5,360.8 337.6,359.7 337.6,363.6 337.7,360.4 337.8,360.3 337.8,361.2 337.9,360.8 338.0,360.4 338.1,361.0 338.1,361.2 338.2,362.0 338.3,365.4 338.3,361.8 338.4,359.6 338.5,366.4 338.6,361.3 338.6,362.6 338.7,361.7 338.8,364.7 338.8,361.6 338.9,361.2 339.0,361.6 339.1,362.1 339.1,365.3 339.2,365.3 339.3,362.0 339.3,362.1 339.4,360.7 339.5,362.2 339.6,360.6 339.6,361.8 339.7,360.6 339.8,362.3 339.8,361.5 339.9,360.5 340.0,362.1 340.1,366.1 340.1,365.6 340.2,362.8 340.3,364.1 340.4,364.9 340.4,362.8 340.5,363.9 340.6,361.7 340.6,363.0 340.7,359.9 340.8,361.3 340.9,363.5 340.9,362.5 341.0,361.0 341.1,362.4 341.1,363.7 341.2,364.2 341.3,361.4 341.4,359.6 341.4,361.9 341.5,363.0 341.6,363.6 341.6,364.8 341.7,363.4 341.8,367.6 341.9,362.5 341.9,363.1 342.0,362.5 342.1,366.2 342.1,365.5 342.2,364.7 342.3,363.0 342.4,364.8 342.4,362.8 342.5,364.5 342.6,365.5 342.6,361.4 342.7,365.7 342.8,364.5 342.9,362.6 342.9,363.7 343.0,364.8 343.1,362.9 343.1,364.2 343.2,367.2 343.3,368.0 343.4,367.7 343.4,364.3 343.5,365.2 343.6,365.9 343.6,365.0 343.7,367.3 343.8,363.7 343.9,366.8 343.9,367.3 344.0,364.0 344.1,366.4 344.1,362.8 344.2,363.3 344.3,370.0 344.4,363.7 344.4,368.9 344.5,362.5 344.6,369.8 344.6,369.2 344.7,363.7 344.8,364.5 344.9,367.3 344.9,362.7 345.0,364.1 345.1,365.1 345.1,364.2 345.2,366.4 345.3,364.0 345.4,367.9 345.4,364.9 345.5,368.6 345.6,371.9 345.6,363.4 345.7,363.8 345.8,366.4 345.9,365.0 345.9,364.3 346.0,370.0 346.1,366.4 346.1,364.9 346.2,366.1 346.3,365.9 346.4,364.7 346.4,364.5 346.5,366.1 346.6,368.3 346.6,366.3 346.7,366.9 346.8,363.4 346.9,367.3 346.9,365.3 347.0,365.1 347.1,364.7 347.1,366.5 347.2,364.8 347.3,363.5 347.4,365.4 347.4,366.1 347.5,368.8 347.6,365.6 347.6,363.9 347.7,364.9 347.8,364.5 347.9,368.5 347.9,367.5 348.0,364.7 348.1,370.5 348.1,363.7 348.2,363.1 348.3,364.2 348.4,365.3 348.4,368.1 348.5,371.2 348.6,369.5 348.6,368.7 348.7,368.5 348.8,363.3 348.9,365.1 348.9,366.5 349.0,370.7 349.1,367.3 349.1,365.1 349.2,368.2 349.3,365.7 349.4,365.4 349.4,365.3 349.5,364.9 349.6,365.7 349.6,373.1 349.7,366.5 349.8,365.7 349.9,365.1 349.9,366.2 350.0,365.3 350.1,369.4 350.1,365.4 350.2,365.9 350.3,367.9 350.4,365.7 350.4,365.2 350.5,366.0 350.6,369.6 350.6,364.7 350.7,363.6 350.8,366.0 350.9,366.6 350.9,366.5 351.0,371.4 351.1,368.4 351.1,371.0 351.2,372.2 351.3,365.6 351.4,365.5 351.4,366.2 351.5,365.9 351.6,366.5 351.6,366.4 351.7,367.7 351.8,367.1 351.9,366.3 351.9,366.6 352.0,366.6 352.1,366.8 352.1,368.4 352.2,371.2 352.3,369.7 352.4,368.1 352.4,367.0 352.5,367.0 352.6,371.4 352.6,365.3 352.7,367.4 352.8,365.5 352.9,372.1 352.9,367.3 353.0,368.9 353.1,369.4 353.1,369.3 353.2,373.6 353.3,370.2 353.4,365.1 353.4,367.4 353.5,369.8 353.6,367.3 353.6,367.4 353.7,370.1 353.8,364.3 353.9,363.8 353.9,366.5 354.0,365.7 354.1,366.7 354.1,367.4 354.2,367.6 354.3,370.0 354.4,369.2 354.4,368.6 354.5,367.6 354.6,366.7 354.6,374.4 354.7,369.2 354.8,367.3 354.9,372.0 354.9,372.5 355.0,369.7 355.1,366.4 355.1,368.9 355.2,369.1 355.3,371.4 355.4,373.5 355.4,368.2 355.5,371.7 355.6,367.7 355.6,365.2 355.7,368.3 355.8,368.7 355.9,366.3 355.9,370.3 356.0,366.3 356.1,367.1 356.1,368.3 356.2,367.4 356.3,370.9 356.4,368.3 356.4,368.9 356.5,373.7 356.6,369.4 356.6,371.8 356.7,370.3 356.8,367.6 356.9,368.5 356.9,368.2 357.0,367.6 357.1,368.1 357.1,366.7 357.2,371.4 357.3,366.9 357.4,368.4 357.4,366.7 357.5,371.1 357.6,368.6 357.6,372.4 357.7,367.9 357.8,370.0 357.9,369.0 357.9,370.3 358.0,367.4 358.1,371.7 358.1,369.1 358.2,370.1 358.3,366.9 358.4,367.8 358.4,368.3 358.5,369.0 358.6,369.2 358.6,375.6 358.7,367.8 358.8,372.9 358.9,369.4 358.9,367.5 359.0,369.3 359.1,368.3 359.1,371.6 359.2,366.9 359.3,371.9 359.4,369.0 359.4,373.9 359.5,376.0 359.6,372.7 359.6,372.7 359.7,370.2 359.8,374.5 359.9,371.3 359.9,368.5 360.0,369.1 360.1,369.3 360.1,368.7 360.2,369.7 360.3,372.7 360.4,369.3 360.4,369.9 360.5,368.8 360.6,369.5 360.6,376.0 360.7,369.9 360.8,370.2 360.9,374.5 360.9,370.1 361.0,372.8 361.1,367.4 361.1,368.8 361.2,369.7 361.3,371.6 361.4,368.7 361.4,374.1 361.5,372.5 361.6,370.4 361.6,374.0 361.7,370.4 361.8,370.5 361.9,370.2 361.9,372.7 362.0,371.6 362.1,371.9 362.1,373.6 362.2,370.5 362.3,370.1 362.4,375.6 362.4,369.2 362.5,373.3 362.6,369.0 362.6,370.0 362.7,372.3 362.8,369.6 362.9,370.1 362.9,370.5 363.0,369.9 363.1,372.1 363.1,370.1 363.2,370.9 363.3,372.7 363.4,371.2 363.4,370.8 363.5,375.2 363.6,374.4 363.6,370.1 363.7,372.0 363.8,370.5 363.9,370.1 363.9,370.9 364.0,370.8 364.1,374.3 364.1,376.0 364.2,370.4 364.3,372.0 364.4,373.4 364.4,374.9 364.5,370.0 364.6,370.9 364.6,369.1 364.7,373.0 364.8,370.1 364.9,372.5 364.9,379.0 365.0,370.2 365.1,373.4 365.1,375.3 365.2,374.1 365.3,377.9 365.4,371.6 365.4,372.3 365.5,370.0 365.6,370.2 365.6,379.0 365.7,371.9 365.8,372.1 365.9,370.4 365.9,372.1 366.0,376.5 366.1,374.6 366.1,372.5 366.2,374.9 366.3,379.7 366.4,370.7 366.4,378.5 366.5,373.6 366.6,372.2 366.6,376.0 366.7,374.5 366.8,375.3 366.9,376.4 366.9,371.1 367.0,376.3 367.1,374.4 367.2,371.1 367.2,371.5 367.3,374.5 367.4,372.4 367.4,374.7 367.5,373.8 367.6,373.1 367.7,374.2 367.7,381.1 367.8,375.3 367.9,370.9 367.9,371.5 368.0,376.4 368.1,374.5 368.2,372.3 368.2,372.7 368.3,372.8 368.4,372.9 368.4,371.7 368.5,372.6 368.6,372.0 368.7,378.9 368.7,373.5 368.8,371.1 368.9,375.0 368.9,377.0 369.0,373.2 369.1,372.1 369.2,372.1 369.2,368.9 369.3,379.6 369.4,373.7 369.4,372.0 369.5,377.1 369.6,372.5 369.7,375.5 369.7,375.7 369.8,381.3 369.9,374.7 369.9,374.9 370.0,372.1 370.1,372.0 370.2,370.6 370.2,375.7 370.3,373.3 370.4,374.8 370.4,373.5 370.5,380.9 370.6,373.7 370.7,372.4 370.7,376.1 370.8,373.0 370.9,374.0 370.9,375.4 371.0,369.1 371.1,373.8 371.2,372.9 371.2,371.8 371.3,373.2 371.4,373.3 371.4,375.9 371.5,375.7 371.6,380.5 371.7,376.6 371.7,374.2 371.8,377.0 371.9,373.5 371.9,374.2 372.0,376.9 372.1,372.8 372.2,379.2 372.2,375.3 372.3,372.6 372.4,375.1 372.4,374.2 372.5,374.0 372.6,371.8 372.7,375.0 372.7,380.4 372.8,375.1 372.9,378.2 372.9,373.0 373.0,374.5 373.1,373.8 373.2,373.7 373.2,373.3 373.3,374.9 373.4,373.7 373.4,373.6 373.5,374.7 373.6,383.0 373.7,378.2 373.7,378.4 373.8,382.1 373.9,374.8 373.9,380.6 374.0,372.4 374.1,380.9 374.2,374.9 374.2,372.1 374.3,376.2 374.4,376.3 374.4,376.6 374.5,373.9 374.6,376.0 374.7,374.6 374.7,372.9 374.8,374.3 374.9,373.1 374.9,377.3 375.0,373.6 375.1,376.3 375.2,374.9 375.2,374.3 375.3,379.0 375.4,375.2 375.4,375.8 375.5,374.3 375.6,381.7 375.7,373.7 375.7,373.5 375.8,372.9 375.9,375.4 375.9,376.5 376.0,380.8 376.1,381.5 376.2,374.7 376.2,376.4 376.3,380.1 376.4,376.3 376.4,386.1 376.5,377.4 376.6,376.0 376.7,378.4 376.7,376.5 376.8,386.7 376.9,378.6 376.9,372.8 377.0,378.6 377.1,379.0 377.2,375.6 377.2,378.2 377.3,379.7 377.4,376.1 377.4,374.3 377.5,378.8 377.6,375.5 377.7,376.7 377.7,380.0 377.8,375.2 377.9,382.6 377.9,378.2 378.0,375.0 378.1,375.9 378.2,375.0 378.2,379.3 378.3,383.4 378.4,375.6 378.4,374.0 378.5,377.6 378.6,378.7 378.7,373.4 378.7,375.7 378.8,375.3 378.9,382.2 378.9,378.9 379.0,379.8 379.1,378.7 379.2,376.7 379.2,380.1 379.3,383.2 379.4,376.6 379.4,378.1 379.5,375.1 379.6,378.4 379.7,377.2 379.7,375.3 379.8,375.0 379.9,382.7 379.9,379.4 380.0,375.7 380.1,377.3 380.2,378.0 380.2,374.6 380.3,384.9 380.4,375.3 380.4,380.5 380.5,386.1 380.6,377.6 380.7,377.5 380.7,376.1 380.8,377.6 380.9,378.9 380.9,378.7 381.0,377.4 381.1,376.8 381.2,381.1 381.2,377.9 381.3,376.1 381.4,377.8 381.4,377.6 381.5,381.1 381.6,380.1 381.7,378.2 381.7,377.6 381.8,380.6 381.9,377.5 381.9,376.9 382.0,375.4 382.1,381.1 382.2,373.2 382.2,379.2 382.3,374.8 382.4,379.8 382.4,382.6 382.5,377.0 382.6,378.0 382.7,373.8 382.7,378.9 382.8,377.0 382.9,378.5 382.9,377.7 383.0,376.1 383.1,380.3 383.2,373.1 383.2,375.9 383.3,378.5 383.4,379.2 383.4,379.4 383.5,380.0 383.6,375.6 383.7,377.2 383.7,380.6 383.8,376.4 383.9,380.0 383.9,382.6 384.0,383.4 384.1,385.5 384.2,386.6 384.2,377.9 384.3,378.2 384.4,384.3 384.4,378.1 384.5,378.2 384.6,377.2 384.7,378.4 384.7,380.1 384.8,376.0 384.9,379.5 384.9,378.7 385.0,378.5 385.1,386.4 385.2,387.0 385.2,379.2 385.3,377.7 385.4,383.1 385.4,379.7 385.5,378.9 385.6,378.6 385.7,378.6 385.7,376.8 385.8,378.2 385.9,376.3 385.9,377.8 386.0,382.2 386.1,379.2 386.2,379.1 386.2,382.1 386.3,378.1 386.4,377.6 386.4,379.5 386.5,385.3 386.6,378.7 386.7,380.6 386.7,378.8 386.8,378.8 386.9,388.3 386.9,378.1 387.0,380.5 387.1,381.8 387.2,379.0 387.2,378.2 387.3,380.6 387.4,391.9 387.4,377.2 387.5,391.4 387.6,379.9 387.7,380.4 387.7,381.4 387.8,382.6 387.9,380.7 387.9,391.4 388.0,378.6 388.1,379.2 388.2,377.8 388.2,380.7 388.3,385.5 388.4,379.2 388.4,380.1 388.5,383.3 388.6,379.2 388.7,388.4 388.7,385.9 388.8,385.3 388.9,378.7 388.9,377.7 389.0,380.6 389.1,381.7 389.2,380.8 389.2,379.4 389.3,379.9 389.4,384.9 389.4,379.2 389.5,378.6 389.6,377.1 389.7,381.3 389.7,375.8 389.8,379.2 389.9,386.4 389.9,377.3 390.0,388.2 390.1,384.7 390.2,381.2 390.2,381.2 390.3,382.2 390.4,378.7 390.4,386.0 390.5,388.1 390.6,384.2 390.7,384.1 390.7,381.1 390.8,385.5 390.9,382.9 390.9,386.5 391.0,385.5 391.1,387.1 391.2,386.5 391.2,383.7 391.3,381.6 391.4,384.7 391.4,382.2 391.5,376.8 391.6,380.2 391.7,385.0 391.7,385.4 391.8,384.3 391.9,380.9 391.9,381.9 392.0,381.1 392.1,385.1 392.2,384.2 392.2,386.9 392.3,389.0 392.4,378.5 392.4,384.7 392.5,381.5 392.6,382.2 392.7,383.6 392.7,379.4 392.8,381.1 392.9,382.5 392.9,381.1 393.0,384.5 393.1,382.1 393.2,386.5 393.2,380.6 393.3,382.6 393.4,380.0 393.4,380.7 393.5,391.6 393.6,387.2 393.7,387.2 393.7,387.6 393.8,381.5 393.9,379.2 394.0,384.4 394.0,383.4 394.1,381.8 394.2,379.0 394.2,386.6 394.3,385.9 394.4,378.4 394.5,386.3 394.5,381.6 394.6,380.9 394.7,385.5 394.7,383.4 394.8,394.0 394.9,385.0 395.0,385.4 395.0,382.2 395.1,382.7 395.2,384.3 395.2,392.1 395.3,378.6 395.4,386.6 395.5,385.8 395.5,384.0 395.6,383.4 395.7,382.9 395.7,379.9 395.8,386.4 395.9,384.4 396.0,385.8 396.0,382.6 396.1,382.0 396.2,388.3 396.2,379.1 396.3,381.6 396.4,382.3 396.5,383.9 396.5,381.7 396.6,386.4 396.7,383.3 396.7,379.3 396.8,384.9 396.9,385.6 397.0,385.9 397.0,381.9 397.1,384.7 397.2,388.7 397.2,383.8 397.3,387.5 397.4,384.2 397.5,381.9 397.5,389.4 397.6,382.2 397.7,381.0 397.7,392.2 397.8,382.8 397.9,384.7 398.0,389.5 398.0,384.0 398.1,381.5 398.2,384.7 398.2,382.3 398.3,382.0 398.4,382.0 398.5,386.8 398.5,383.7 398.6,383.8 398.7,393.8 398.7,385.9 398.8,392.1 398.9,385.3 399.0,384.3 399.0,381.9 399.1,382.6 399.2,391.0 399.2,384.1 399.3,388.2 399.4,385.8 399.5,387.8 399.5,391.8 399.6,385.0 399.7,384.0 399.7,386.7 399.8,382.7 399.9,383.4 400.0,391.6 400.0,386.6 400.1,391.6 400.2,384.2 400.2,391.6 400.3,383.9 400.4,382.6 400.5,386.3 400.5,388.4 400.6,392.7 400.7,384.8 400.7,383.9 400.8,385.6 400.9,385.8 401.0,393.1 401.0,387.3 401.1,387.2 401.2,381.3 401.2,387.6 401.3,384.8 401.4,385.4 401.5,387.2 401.5,385.9 401.6,381.4 401.7,384.1 401.7,387.6 401.8,385.9 401.9,384.4 402.0,388.3 402.0,386.2 402.1,387.2 402.2,392.2 402.2,384.1 402.3,388.5 402.4,388.8 402.5,394.0 402.5,386.6 402.6,386.4 402.7,386.9 402.7,384.5 402.8,386.5 402.9,393.0 403.0,397.2 403.0,384.3 403.1,385.3 403.2,388.6 403.2,393.5 403.3,382.1 403.4,395.9 403.5,384.9 403.5,391.0 403.6,386.1 403.7,385.5 403.7,389.6 403.8,384.2 403.9,383.6 404.0,384.1 404.0,384.9 404.1,393.9 404.2,383.7 404.2,386.2 404.3,384.1 404.4,382.3 404.5,395.2 404.5,387.7 404.6,380.8 404.7,387.2 404.7,386.7 404.8,386.8 404.9,392.1 405.0,388.2 405.0,385.5 405.1,386.9 405.2,391.7 405.2,382.7 405.3,388.1 405.4,396.5 405.5,386.8 405.5,386.8 405.6,398.2 405.7,387.0 405.7,394.5 405.8,393.9 405.9,397.5 406.0,392.3 406.0,387.8 406.1,387.0 406.2,384.7 406.2,386.9 406.3,384.7 406.4,386.7 406.5,386.9 406.5,390.1 406.6,391.3 406.7,386.9 406.7,389.5 406.8,388.0 406.9,386.3 407.0,388.2 407.0,386.4 407.1,392.1 407.2,397.2 407.2,388.3 407.3,383.4 407.4,386.8 407.5,394.4 407.5,388.1 407.6,383.5 407.7,396.2 407.7,384.7 407.8,386.1 407.9,387.0 408.0,394.0 408.0,387.2 408.1,387.7 408.2,389.2 408.2,387.5 408.3,394.5 408.4,381.2 408.5,403.3 408.5,386.7 408.6,385.1 408.7,393.5 408.7,389.7 408.8,398.2 408.9,391.7 409.0,395.8 409.0,389.9 409.1,397.1 409.2,385.8 409.2,390.4 409.3,388.7 409.4,382.7 409.5,390.0 409.5,393.6 409.6,393.6 409.7,389.9 409.7,389.2 409.8,387.4 409.9,392.9 410.0,389.3 410.0,391.2 410.1,388.0 410.2,387.7 410.2,388.5 410.3,389.6 410.4,391.6 410.5,394.9 410.5,397.0 410.6,394.9 410.7,386.8 410.7,395.9 410.8,391.4 410.9,386.6 411.0,389.9 411.0,388.4 411.1,389.2 411.2,389.4 411.2,394.9 411.3,387.0 411.4,394.3 411.5,393.7 411.5,386.0 411.6,390.4 411.7,386.1 411.7,391.6 411.8,385.8 411.9,405.3 412.0,388.1 412.0,389.2 412.1,397.3 412.2,390.9 412.2,391.9 412.3,400.7 412.4,399.4 412.5,390.3 412.5,388.9 412.6,386.6 412.7,390.8 412.7,390.5 412.8,393.1 412.9,395.6 413.0,386.9 413.0,390.3 413.1,388.7 413.2,398.4 413.2,396.3 413.3,388.7 413.4,389.3 413.5,397.8 413.5,387.2 413.6,399.4 413.7,385.7 413.7,386.5 413.8,395.2 413.9,389.8 414.0,391.1 414.0,393.7 414.1,392.7 414.2,395.7 414.2,399.2 414.3,390.7 414.4,397.0 414.5,396.4 414.5,390.2 414.6,391.5 414.7,393.6 414.7,394.6 414.8,395.6 414.9,390.6 415.0,386.8 415.0,390.3 415.1,395.4 415.2,387.4 415.2,390.0 415.3,389.2 415.4,386.1 415.5,399.2 415.5,397.7 415.6,391.0 415.7,401.7 415.7,392.8 415.8,390.6 415.9,389.0 416.0,390.6 416.0,392.6 416.1,399.6 416.2,396.2 416.2,395.1 416.3,392.6 416.4,389.5 416.5,399.0 416.5,389.5 416.6,397.2 416.7,388.6 416.7,392.8 416.8,395.9 416.9,398.4 417.0,391.7 417.0,395.9 417.1,390.2 417.2,398.3 417.2,390.2 417.3,389.1 417.4,398.3 417.5,392.2 417.5,387.2 417.6,393.7 417.7,391.9 417.7,387.5 417.8,395.7 417.9,402.4 418.0,386.0 418.0,392.9 418.1,389.2 418.2,397.6 418.2,400.5 418.3,392.1 418.4,403.1 418.5,393.0 418.5,392.5 418.6,395.1 418.7,394.1 418.7,390.5 418.8,391.9 418.9,403.5 419.0,396.2 419.0,392.1 419.1,402.8 419.2,392.3 419.2,398.5 419.3,392.6 419.4,399.6 419.5,395.6 419.5,393.8 419.6,397.7 419.7,396.8 419.7,392.0 419.8,398.7 419.9,390.2 420.0,395.1 420.0,402.9 420.1,387.1 420.2,392.1 420.2,386.0 420.3,389.7 420.4,390.5 420.5,391.1 420.5,400.7 420.6,395.3 420.7,394.2 420.8,390.7 420.8,390.7 420.9,390.1 421.0,395.9 421.0,389.4 421.1,395.0 421.2,392.8 421.3,393.6 421.3,391.3 421.4,391.2 421.5,402.6 421.5,403.5 421.6,401.9 421.7,389.6 421.8,393.3 421.8,389.9 421.9,397.0 422.0,394.6 422.0,392.6 422.1,394.8 422.2,397.5 422.3,397.9 422.3,401.6 422.4,402.6 422.5,390.5 422.5,393.0 422.6,398.5 422.7,386.4 422.8,392.3 422.8,394.2 422.9,400.1 423.0,394.9 423.0,392.9 423.1,399.0 423.2,391.4 423.3,390.1 423.3,391.6 423.4,392.9 423.5,398.1 423.5,391.1 423.6,389.5 423.7,400.2 423.8,396.0 423.8,393.8 423.9,397.8 424.0,394.9 424.0,400.0 424.1,398.3 424.2,402.0 424.3,398.2 424.3,393.5 424.4,392.6 424.5,393.8 424.5,405.3 424.6,392.1 424.7,397.7 424.8,399.4 424.8,394.4 424.9,395.7 425.0,397.1 425.0,406.5 425.1,393.3 425.2,398.2 425.3,393.0 425.3,396.6 425.4,398.8 425.5,411.8 425.5,390.7 425.6,393.9 425.7,399.3 425.8,391.1 425.8,397.6 425.9,395.9 426.0,394.9 426.0,388.2 426.1,403.2 426.2,396.4 426.3,392.6 426.3,401.6 426.4,397.6 426.5,387.9 426.5,397.7 426.6,395.0 426.7,392.6 426.8,392.5 426.8,391.4 426.9,394.3 427.0,406.7 427.0,401.3 427.1,394.3 427.2,401.7 427.3,405.6 427.3,398.4 427.4,395.8 427.5,404.3 427.5,394.6 427.6,399.9 427.7,393.1 427.8,393.9 427.8,395.3 427.9,396.1 428.0,394.9 428.0,387.8 428.1,393.8 428.2,406.4 428.3,392.4 428.3,394.1 428.4,395.1 428.5,404.1 428.5,398.1 428.6,393.8 428.7,397.9 428.8,395.2 428.8,397.4 428.9,397.4 429.0,396.5 429.0,396.1 429.1,403.0 429.2,402.9 429.3,393.9 429.3,405.4 429.4,400.5 429.5,401.6 429.5,406.7 429.6,406.0 429.7,408.2 429.8,404.3 429.8,401.7 429.9,388.0 430.0,403.2 430.0,393.1 430.1,395.1 430.2,399.8 430.3,389.6 430.3,399.6 430.4,398.7 430.5,392.6 430.5,397.8 430.6,393.8 430.7,394.9 430.8,396.0 430.8,395.4 430.9,407.9 431.0,396.9 431.0,404.6 431.1,396.6 431.2,399.3 431.3,398.2 431.3,404.9 431.4,412.3 431.5,396.8 431.5,405.0 431.6,407.7 431.7,395.2 431.8,395.5 431.8,394.1 431.9,408.2 432.0,403.8 432.0,391.6 432.1,405.4 432.2,398.0 432.3,395.1 432.3,398.8 432.4,395.9 432.5,395.0 432.5,400.2 432.6,398.7 432.7,402.5 432.8,408.6 432.8,414.2 432.9,420.1 433.0,396.1 433.0,397.3 433.1,408.9 433.2,401.2 433.3,391.1 433.3,402.8 433.4,389.5 433.5,400.4 433.5,396.3 433.6,401.6 433.7,396.2 433.8,420.4 433.8,395.9 433.9,397.0 434.0,402.6 434.0,395.1 434.1,398.9 434.2,396.6 434.3,391.2 434.3,406.2 434.4,404.3 434.5,397.8 434.5,402.2 434.6,406.9 434.7,399.8 434.8,389.7 434.8,397.2 434.9,398.9 435.0,397.9 435.0,401.7 435.1,402.0 435.2,396.1 435.3,397.7 435.3,395.5 435.4,398.0 435.5,392.3 435.5,393.2 435.6,398.3 435.7,393.4 435.8,396.6 435.8,394.8 435.9,392.4 436.0,395.5 436.0,394.3 436.1,398.1 436.2,407.6 436.3,403.8 436.3,395.0 436.4,393.4 436.5,396.6 436.5,394.0 436.6,393.3 436.7,396.9 436.8,398.6 436.8,397.5 436.9,388.7 437.0,396.2 437.0,393.5 437.1,392.3 437.2,397.4 437.3,417.6 437.3,401.3 437.4,401.5 437.5,396.9 437.5,399.5 437.6,410.0 437.7,400.8 437.8,396.3 437.8,398.3 437.9,396.8 438.0,394.7 438.0,404.6 438.1,396.9 438.2,407.8 438.3,405.7 438.3,407.3 438.4,394.2 438.5,398.4 438.5,410.5 438.6,397.0 438.7,393.4 438.8,397.7 438.8,403.5 438.9,402.5 439.0,389.5 439.0,406.1 439.1,399.9 439.2,413.7 439.3,397.5 439.3,395.3 439.4,398.5 439.5,408.6 439.5,405.8 439.6,395.5 439.7,404.8 439.8,396.8 439.8,401.0 439.9,391.8 440.0,395.5 440.0,400.8 440.1,396.0 440.2,396.0 440.3,406.1 440.3,416.6 440.4,399.4 440.5,400.1 440.5,405.3 440.6,400.4 440.7,399.1 440.8,396.1 440.8,405.1 440.9,408.0 441.0,400.7 441.0,396.1 441.1,413.5 441.2,403.6 441.3,401.9 441.3,402.9 441.4,396.6 441.5,396.6 441.5,391.7 441.6,411.0 441.7,411.1 441.8,396.1 441.8,398.1 441.9,396.4 442.0,398.6 442.0,397.9 442.1,397.6 442.2,398.5 442.3,398.5 442.3,415.7 442.4,407.3 442.5,405.3 442.5,404.6 442.6,396.6 442.7,402.9 442.8,400.0 442.8,396.6 442.9,406.1 443.0,402.4 443.0,407.0 443.1,408.9 443.2,396.1 443.3,406.1 443.3,397.1 443.4,417.0 443.5,398.8 443.5,398.1 443.6,408.9 443.7,400.4 443.8,397.2 443.8,412.4 443.9,400.3 444.0,415.8 444.0,399.7 444.1,412.3 444.2,397.5 444.3,397.6 444.3,401.3 444.4,399.9 444.5,400.1 444.5,404.7 444.6,397.5 444.7,399.4 444.8,396.7 444.8,404.1 444.9,403.7 445.0,402.3 445.0,398.5 445.1,396.8 445.2,403.6 445.3,391.9 445.3,404.7 445.4,408.8 445.5,418.3 445.5,405.8 445.6,397.8 445.7,397.8 445.8,412.2 445.8,406.7 445.9,393.9 446.0,409.2 446.0,400.0 446.1,404.1 446.2,410.1 446.3,395.5 446.3,394.8 446.4,407.3 446.5,403.5 446.5,396.5 446.6,399.5 446.7,406.1 446.8,400.0 446.8,406.5 446.9,398.2 447.0,396.9 447.0,411.4 447.1,397.8 447.2,408.2 447.3,409.6 447.3,397.3 447.4,401.0 447.5,397.6 447.6,400.4 447.6,398.3 447.7,412.0 447.8,400.0 447.8,399.6 447.9,398.0 448.0,413.7 448.1,398.9 448.1,407.6 448.2,408.9 448.3,404.7 448.3,405.8 448.4,412.4 448.5,405.4 448.6,397.6 448.6,414.0 448.7,410.1 448.8,394.8 448.8,409.1 448.9,398.5 449.0,394.0 449.1,400.9 449.1,404.6 449.2,400.6 449.3,395.9 449.3,399.1 449.4,407.7 449.5,407.6 449.6,397.7 449.6,404.4 449.7,405.7 449.8,407.1 449.8,397.9 449.9,408.0 450.0,411.8 450.1,406.3 450.1,410.5 450.2,413.7 450.3,403.8 450.3,414.2 450.4,406.3 450.5,403.3 450.6,414.9 450.6,399.0 450.7,407.4 450.8,399.8 450.8,397.4 450.9,397.7 451.0,401.2 451.1,398.6 451.1,399.8 451.2,395.0 451.3,409.8 451.3,417.6 451.4,407.8 451.5,398.6 451.6,409.5 451.6,400.3 451.7,398.9 451.8,400.9 451.8,399.9 451.9,402.6 452.0,401.9 452.1,415.5 452.1,400.7 452.2,400.5 452.3,396.6 452.3,402.2 452.4,406.0 452.5,396.0 452.6,399.5 452.6,401.3 452.7,404.9 452.8,399.2 452.8,410.3 452.9,406.1 453.0,400.1 453.1,400.7 453.1,423.6 453.2,411.4 453.3,401.7 453.3,413.5 453.4,411.4 453.5,408.6 453.6,398.6 453.6,407.4 453.7,402.8 453.8,398.7 453.8,416.7 453.9,395.0 454.0,422.2 454.1,412.8 454.1,399.6 454.2,410.6 454.3,401.4 454.3,405.3 454.4,403.3 454.5,402.7 454.6,401.4 454.6,398.7 454.7,403.2 454.8,401.4 454.8,411.0 454.9,398.1 455.0,400.3 455.1,413.9 455.1,406.0 455.2,410.4 455.3,413.2 455.3,413.9 455.4,401.4 455.5,400.9 455.6,403.5 455.6,401.2 455.7,396.1 455.8,407.1 455.8,408.8 455.9,421.5 456.0,404.5 456.1,402.1 456.1,400.5 456.2,400.4 456.3,401.1 456.3,407.8 456.4,412.4 456.5,399.2 456.6,421.3 456.6,394.6 456.7,398.4 456.8,405.3 456.8,400.9 456.9,406.0 457.0,397.2 457.1,408.7 457.1,413.0 457.2,413.9 457.3,412.7 457.3,404.8 457.4,405.7 457.5,402.9 457.6,405.4 457.6,404.9 457.7,414.6 457.8,413.9 457.8,402.5 457.9,393.1 458.0,397.4 458.1,397.6 458.1,415.7 458.2,410.2 458.3,402.7 458.3,403.5 458.4,402.4 458.5,407.5 458.6,405.3 458.6,403.6 458.7,403.4 458.8,423.3 458.8,408.0 458.9,407.5 459.0,401.1 459.1,411.0 459.1,401.2 459.2,396.8 459.3,405.3 459.3,398.9 459.4,412.5 459.5,403.4 459.6,398.5 459.6,407.7 459.7,403.9 459.8,402.8 459.8,401.0 459.9,401.8 460.0,408.0 460.1,399.9 460.1,407.0 460.2,413.9 460.3,408.6 460.3,405.2 460.4,410.4 460.5,413.1 460.6,392.9 460.6,421.2 460.7,403.5 460.8,410.4 460.8,393.2 460.9,412.9 461.0,411.8 461.1,397.2 461.1,400.2 461.2,419.9 461.3,404.4 461.3,424.2 461.4,421.3 461.5,416.4 461.6,414.4 461.6,416.1 461.7,422.9 461.8,402.2 461.8,404.2 461.9,399.5 462.0,402.3 462.1,410.6 462.1,409.2 462.2,401.3 462.3,400.6 462.3,420.8 462.4,414.4 462.5,413.5 462.6,403.9 462.6,402.9 462.7,402.3 462.8,409.3 462.8,408.6 462.9,405.1 463.0,396.1 463.1,400.8 463.1,401.7 463.2,409.2 463.3,421.7 463.3,403.8 463.4,396.6 463.5,405.3 463.6,412.3 463.6,401.9 463.7,402.0 463.8,401.0 463.8,407.4 463.9,414.4 464.0,406.8 464.1,400.6 464.1,421.5 464.2,403.5 464.3,415.9 464.3,403.8 464.4,403.4 464.5,554.2 464.6,407.8 464.6,405.6 464.7,419.8 464.8,409.2 464.8,411.2 464.9,408.6 465.0,404.6 465.1,407.9 465.1,408.1 465.2,398.2 465.3,399.3 465.3,422.9 465.4,407.1 465.5,407.3 465.6,404.9 465.6,415.1 465.7,410.7 465.8,407.3 465.8,405.0 465.9,410.2 466.0,400.6 466.1,396.1 466.1,400.5 466.2,423.2 466.3,399.8 466.3,419.5 466.4,413.4 466.5,401.9 466.6,408.9 466.6,404.7 466.7,404.1 466.8,408.6 466.8,439.6 466.9,410.5 467.0,412.9 467.1,401.7 467.1,409.2 467.2,416.4 467.3,413.3 467.3,402.1 467.4,406.3 467.5,420.4 467.6,410.9 467.6,427.6 467.7,407.7 467.8,412.6 467.8,404.7 467.9,411.2 468.0,404.2 468.1,415.2 468.1,403.7 468.2,404.2 468.3,400.1 468.3,400.4 468.4,408.5 468.5,407.1 468.6,399.0 468.6,409.9 468.7,406.8 468.8,405.4 468.8,404.4 468.9,410.9 469.0,408.4 469.1,412.7 469.1,402.7 469.2,403.5 469.3,404.9 469.3,397.2 469.4,417.2 469.5,404.6 469.6,418.5 469.6,413.0 469.7,424.8 469.8,427.3 469.8,425.7 469.9,405.3 470.0,400.9 470.1,401.3 470.1,416.2 470.2,401.6 470.3,408.4 470.3,425.7 470.4,400.4 470.5,405.6 470.6,408.4 470.6,401.5 470.7,416.7 470.8,554.2 470.8,422.2 470.9,404.1 471.0,400.5 471.1,407.0 471.1,403.9 471.2,405.1 471.3,423.4 471.3,410.3 471.4,421.4 471.5,409.8 471.6,412.3 471.6,424.8 471.7,404.6 471.8,402.8 471.8,401.6 471.9,400.8 472.0,407.8 472.1,413.8 472.1,396.9 472.2,399.6 472.3,405.2 472.3,419.1 472.4,410.3 472.5,405.0 472.6,419.2 472.6,405.4 472.7,410.1 472.8,406.2 472.8,418.4 472.9,404.8 473.0,404.4 473.1,400.9 473.1,401.9 473.2,410.2 473.3,396.9 473.3,404.9 473.4,402.2 473.5,404.7 473.6,414.7 473.6,406.6 473.7,414.8 473.8,406.5 473.8,408.4 473.9,430.3 474.0,430.5 474.1,412.8 474.1,413.6 474.2,414.9 474.3,413.5 474.4,409.1 474.4,416.6 474.5,406.0 474.6,417.3 474.6,420.5 474.7,398.7 474.8,403.7 474.9,413.5 474.9,400.8 475.0,402.3 475.1,414.3 475.1,407.4 475.2,406.7 475.3,407.2 475.4,407.9 475.4,410.1 475.5,416.9 475.6,417.1 475.6,402.2 475.7,402.8 475.8,396.6 475.9,409.8 475.9,432.2 476.0,422.1 476.1,415.2 476.1,407.1 476.2,410.6 476.3,406.8 476.4,403.6 476.4,411.0 476.5,399.7 476.6,419.2 476.6,404.4 476.7,410.4 476.8,405.5 476.9,412.2 476.9,417.1 477.0,422.3 477.1,429.4 477.1,419.6 477.2,407.2 477.3,405.2 477.4,407.7 477.4,415.1 477.5,403.4 477.6,405.7 477.6,399.8 477.7,404.5 477.8,420.7 477.9,417.5 477.9,408.6 478.0,418.6 478.1,407.4 478.1,396.0 478.2,412.3 478.3,414.6 478.4,411.3 478.4,414.5 478.5,410.1 478.6,403.7 478.6,415.6 478.7,406.7 478.8,416.1 478.9,407.5 478.9,398.2 479.0,415.0 479.1,408.3 479.1,412.4 479.2,406.7 479.3,410.7 479.4,419.7 479.4,402.2 479.5,409.0 479.6,416.0 479.6,434.9 479.7,418.8 479.8,405.0 479.9,416.3 479.9,421.4 480.0,394.2 480.1,403.7 480.1,397.5 480.2,402.6 480.3,410.1 480.4,406.8 480.4,404.8 480.5,407.7 480.6,409.7 480.6,410.3 480.7,402.1 480.8,413.5 480.9,406.5 480.9,406.8 481.0,423.9 481.1,409.4 481.1,423.5 481.2,554.2 481.3,405.8 481.4,412.1 481.4,408.3 481.5,399.6 481.6,401.3 481.6,407.3 481.7,403.2 481.8,417.6 481.9,408.6 481.9,406.6 482.0,409.7 482.1,408.4 482.1,407.3 482.2,413.4 482.3,402.1 482.4,437.6 482.4,419.8 482.5,434.3 482.6,401.4 482.6,403.1 482.7,395.9 482.8,412.2 482.9,406.2 482.9,421.1 483.0,409.5 483.1,407.5 483.1,416.6 483.2,409.3 483.3,429.3 483.4,409.1 483.4,416.1 483.5,422.2 483.6,408.0 483.6,413.3 483.7,421.4 483.8,408.5 483.9,424.5 483.9,402.2 484.0,436.5 484.1,435.2 484.1,408.2 484.2,419.1 484.3,407.8 484.4,427.0 484.4,403.1 484.5,414.2 484.6,407.4 484.6,408.8 484.7,417.5 484.8,409.6 484.9,403.5 484.9,437.1 485.0,415.1 485.1,402.4 485.1,403.6 485.2,413.5 485.3,434.6 485.4,403.0 485.4,417.3 485.5,416.4 485.6,396.9 485.6,421.1 485.7,403.8 485.8,427.9 485.9,413.5 485.9,426.9 486.0,408.2 486.1,405.5 486.1,419.5 486.2,420.5 486.3,413.4 486.4,409.7 486.4,401.9 486.5,410.2 486.6,399.8 486.6,407.5 486.7,409.5 486.8,413.3 486.9,417.6 486.9,415.4 487.0,409.0 487.1,412.3 487.1,422.1 487.2,426.4 487.3,408.8 487.4,405.6 487.4,407.4" fill="none" stroke="#4a88f4" stroke-width="1.1" stroke-linejoin="round"/>
</g>
<line x1="352.90" y1="311.00" x2="387.20" y2="311.00" stroke="#000" stroke-width="2" />
<line x1="352.90" y1="327.50" x2="387.20" y2="327.50" stroke="#3f7ef5" stroke-width="2" />
<text transform="translate(392.80,316.80) scale(1.045,1.0)" font-size="16" text-anchor="start" font-weight="normal" font-style="normal" fill="#111" font-family="'Liberation Sans'" >without CO<tspan font-size="11.8" dx="-0.6" dy="3.6">2</tspan></text>
<text transform="translate(392.80,332.90) scale(1.045,1.0)" font-size="16" text-anchor="start" font-weight="normal" font-style="normal" fill="#111" font-family="'Liberation Sans'" >with CO<tspan font-size="11.8" dx="-0.6" dy="3.6">2</tspan></text>
<text transform="translate(377.30,364.00)" font-size="15" text-anchor="start" font-weight="normal" font-style="normal" fill="#3a78d8" font-family="'Liberation Sans'" ><tspan font-family="'Liberation Serif'" font-style="italic" font-size="17">τ</tspan> = 9.1 ns</text>
<text transform="translate(296.00,411.10)" font-size="15" text-anchor="start" font-weight="normal" font-style="normal" fill="#111" font-family="'Liberation Sans'" ><tspan font-family="'Liberation Serif'" font-style="italic" font-size="17">τ</tspan> = 8.6 ns</text>
<text transform="translate(9.00,473.90)" font-size="27" text-anchor="start" font-weight="bold" font-style="normal" fill="#000" font-family="'Liberation Sans'" >d</text>
<text transform="translate(42.50,480.50)" font-size="18" text-anchor="start" font-weight="normal" font-style="normal" fill="#111" font-family="'Liberation Sans'" >Sample Sheet</text>
<text transform="translate(137.20,509.10)" font-size="18" text-anchor="start" font-weight="normal" font-style="normal" fill="#111" font-family="'Liberation Sans'" >Glass Plates</text>
<defs>
<linearGradient id="gtop" x1="0" y1="0" x2="1" y2="1"><stop offset="0" stop-color="#e6e6e6"/><stop offset="1" stop-color="#cfcfcf"/></linearGradient>
<linearGradient id="gside" x1="0" y1="0" x2="1" y2="0"><stop offset="0" stop-color="#e9e9e9"/><stop offset="1" stop-color="#d9d9d9"/></linearGradient>
</defs>
<defs><linearGradient id="gfloor" x1="0" y1="0" x2="1" y2="0"><stop offset="0" stop-color="#dedede"/><stop offset="0.55" stop-color="#d2d2d2"/><stop offset="1" stop-color="#c2c2c2"/></linearGradient></defs>
<polygon points="1.5,569.3 49.6,569.3 49.6,577.3 1.5,577.3" fill="#e3e3e3"/>
<polygon points="49.6,569.3 97,522.2 97,530.2 49.6,577.3" fill="#d9d9d9"/>
<polygon points="50.4,521.9 97,521.9 49.6,568.6 1.5,568.6" fill="#cdcdcd"/>
<polygon points="50.4,513.1 96.6,513.1 49.6,560.6 1.5,560.6" fill="#e5e5e5"/>
<polygon points="50.4,521.9 87.9,521.9 49.6,560.6 10.6,560.6" fill="url(#gfloor)"/>
<defs><linearGradient id="gright" x1="0" y1="0" x2="0" y2="1"><stop offset="0" stop-color="#d6d6d6"/><stop offset="1" stop-color="#c6c6c6"/></linearGradient></defs>
<polygon points="96.6,513.1 97,521.9 49.6,568.6 49.6,560.6" fill="url(#gright)"/>
<line x1="1.50" y1="568.90" x2="49.60" y2="568.90" stroke="#f2f2f2" stroke-width="0.8" />
<line x1="49.60" y1="568.90" x2="97.00" y2="521.90" stroke="#f2f2f2" stroke-width="0.8" />
<ellipse cx="51.8" cy="542.6" rx="13.4" ry="3.9" fill="#aebfe2" stroke="#7e93c4" stroke-width="0.7"/>
<ellipse cx="51.8" cy="540.9" rx="13.4" ry="3.7" fill="#c4d2ee" stroke="#7e93c4" stroke-width="0.7"/>
<path d="M76.4,487 V511.0 H52.8 V529" fill="none" stroke="#000" stroke-width="2"/>
<polygon points="52.8,535.3 49.4,528.1 56.2,528.1" fill="#000"/>
<path d="M132.7,503.2 H115.6 V526.2 M115.6,514.8 H104 M115.6,526.2 H104" fill="none" stroke="#000" stroke-width="2"/>
<polygon points="99.2,514.8 106.2,511.5 106.2,518.1" fill="#000"/>
<polygon points="99.2,526.2 106.2,522.9 106.2,529.5" fill="#000"/>
<text transform="translate(159.20,540.90)" font-size="14.6" text-anchor="middle" font-weight="normal" font-style="normal" fill="#111" font-family="'Liberation Sans'" >Initial</text>
<text transform="translate(212.80,540.90)" font-size="14.6" text-anchor="middle" font-weight="normal" font-style="normal" fill="#111" font-family="'Liberation Sans'" >2h</text>
<text transform="translate(266.50,540.90)" font-size="14.6" text-anchor="middle" font-weight="normal" font-style="normal" fill="#111" font-family="'Liberation Sans'" >4h</text>
<text transform="translate(320.20,540.90)" font-size="14.6" text-anchor="middle" font-weight="normal" font-style="normal" fill="#111" font-family="'Liberation Sans'" >6h</text>
<text transform="translate(128.90,577.50)" font-size="14.6" text-anchor="end" font-weight="normal" font-style="normal" fill="#f0509e" font-family="'Liberation Sans'" >H(10)</text>
<text transform="translate(128.90,621.60)" font-size="14.6" text-anchor="end" font-weight="normal" font-style="normal" fill="#4a72ee" font-family="'Liberation Sans'" >H(20)</text>
<text transform="translate(128.90,670.00)" font-size="14.6" text-anchor="end" font-weight="normal" font-style="normal" fill="#4a80c8" font-family="'Liberation Sans'" >H(30)</text>
<text transform="translate(128.90,717.40)" font-size="14.6" text-anchor="end" font-weight="normal" font-style="normal" fill="#44c455" font-family="'Liberation Sans'" >H(40)</text>
<defs>
<radialGradient id="pbg0" cx="0.62" cy="0.5" r="0.8"><stop offset="0" stop-color="#5048c0"/><stop offset="0.45" stop-color="#4a44b6"/><stop offset="0.8" stop-color="#363294"/><stop offset="1" stop-color="#1e1e4a"/></radialGradient>
<radialGradient id="pbg1" cx="0.6" cy="0.45" r="0.8"><stop offset="0" stop-color="#40389c"/><stop offset="0.5" stop-color="#34307e"/><stop offset="0.85" stop-color="#28265c"/><stop offset="1" stop-color="#1a1a38"/></radialGradient>
<radialGradient id="pbg2" cx="0.55" cy="0.5" r="0.8"><stop offset="0" stop-color="#4a4cae"/><stop offset="0.45" stop-color="#42469c"/><stop offset="0.8" stop-color="#363c80"/><stop offset="1" stop-color="#22264a"/></radialGradient>
<radialGradient id="pbg3" cx="0.5" cy="0.5" r="0.75"><stop offset="0" stop-color="#4a4cae"/><stop offset="0.45" stop-color="#42449c"/><stop offset="0.8" stop-color="#30346e"/><stop offset="1" stop-color="#1a1e3a"/></radialGradient>
</defs>
<clipPath id="pc00"><rect x="136.9" y="548.0" width="43.8" height="43.8"/></clipPath>
<g clip-path="url(#pc00)">
<rect x="136.90" y="548.00" width="43.80" height="43.80" fill="url(#pbg0)" stroke="none" stroke-width="1" />
<circle cx="155.4" cy="566.6" r="15.1" fill="none" stroke="#1e1e50" stroke-width="1.1" opacity="0.6"/>
<circle cx="159.0" cy="569.4" r="13.1" fill="#66aaf2" stroke="#8ee6ff" stroke-width="1.1"/>
</g>
<clipPath id="pc01"><rect x="190.9" y="548.0" width="43.8" height="43.8"/></clipPath>
<g clip-path="url(#pc01)">
<rect x="190.90" y="548.00" width="43.80" height="43.80" fill="url(#pbg0)" stroke="none" stroke-width="1" />
<circle cx="209.4" cy="566.6" r="14.8" fill="none" stroke="#1e1e50" stroke-width="1.1" opacity="0.6"/>
<circle cx="213.0" cy="569.4" r="12.8" fill="#6aaef2" stroke="#8ee6ff" stroke-width="1.1"/>
<circle cx="213.0" cy="569.4" r="7.3" fill="#62a2ee"/>
</g>
<clipPath id="pc02"><rect x="244.6" y="548.0" width="43.8" height="43.8"/></clipPath>
<g clip-path="url(#pc02)">
<rect x="244.60" y="548.00" width="43.80" height="43.80" fill="url(#pbg0)" stroke="none" stroke-width="1" />
<circle cx="263.1" cy="566.6" r="14.6" fill="none" stroke="#1e1e50" stroke-width="1.1" opacity="0.6"/>
<circle cx="266.7" cy="569.4" r="12.6" fill="#6aacf2" stroke="#8ee6ff" stroke-width="1.1"/>
<circle cx="266.7" cy="569.4" r="4.6" fill="#5e9eec"/>
</g>
<clipPath id="pc03"><rect x="298.3" y="548.0" width="43.8" height="43.8"/></clipPath>
<g clip-path="url(#pc03)">
<rect x="298.30" y="548.00" width="43.80" height="43.80" fill="url(#pbg0)" stroke="none" stroke-width="1" />
<circle cx="316.8" cy="566.6" r="14.6" fill="none" stroke="#1e1e50" stroke-width="1.1" opacity="0.6"/>
<circle cx="320.4" cy="569.4" r="12.6" fill="#6aacf2" stroke="#8ee6ff" stroke-width="1.1"/>
<circle cx="320.4" cy="569.4" r="2.3" fill="#5e9eec"/>
</g>
<clipPath id="pc10"><rect x="136.9" y="595.2" width="43.8" height="43.8"/></clipPath>
<g clip-path="url(#pc10)">
<rect x="136.90" y="595.20" width="43.80" height="43.80" fill="url(#pbg1)" stroke="none" stroke-width="1" />
<circle cx="155.4" cy="613.8" r="14.8" fill="none" stroke="#1e1e50" stroke-width="1.1" opacity="0.45"/>
<circle cx="159.0" cy="616.6" r="12.8" fill="#5c9eee" stroke="#70c0f6" stroke-width="0.7"/>
<rect x="136.90" y="633.00" width="43.80" height="6.00" fill="#16162c" stroke="none" stroke-width="1" />
<rect x="136.90" y="633.00" width="11.00" height="6.00" fill="#5a1cf0" stroke="none" stroke-width="1" />
<rect x="147.90" y="633.00" width="4.00" height="6.00" fill="#3a2a70" stroke="none" stroke-width="1" />
<rect x="155.90" y="633.50" width="3.00" height="5.50" fill="#60607a" stroke="none" stroke-width="1" />
<rect x="167.90" y="633.00" width="12.80" height="6.00" fill="#7c90d8" stroke="none" stroke-width="1" />
<rect x="174.90" y="633.00" width="5.80" height="6.00" fill="#c0d4f4" stroke="none" stroke-width="1" />
</g>
<clipPath id="pc11"><rect x="190.9" y="595.2" width="43.8" height="43.8"/></clipPath>
<g clip-path="url(#pc11)">
<rect x="190.90" y="595.20" width="43.80" height="43.80" fill="url(#pbg1)" stroke="none" stroke-width="1" />
<circle cx="209.4" cy="613.8" r="14.8" fill="none" stroke="#1e1e50" stroke-width="1.1" opacity="0.45"/>
<circle cx="213.0" cy="616.6" r="12.8" fill="#6cb6f0" stroke="#86e4ff" stroke-width="1.6"/>
<circle cx="213.0" cy="616.6" r="9.0" fill="#66aaee"/>
<rect x="190.90" y="633.00" width="43.80" height="6.00" fill="#16162c" stroke="none" stroke-width="1" />
<rect x="225.70" y="635.50" width="9.00" height="3.50" fill="#a8a8b4" stroke="none" stroke-width="1" />
<rect x="217.70" y="634.50" width="4.00" height="4.50" fill="#5a30e0" stroke="none" stroke-width="1" />
<rect x="192.90" y="637.00" width="10.00" height="2.00" fill="#2a2a50" stroke="none" stroke-width="1" />
</g>
<clipPath id="pc12"><rect x="244.6" y="595.2" width="43.8" height="43.8"/></clipPath>
<g clip-path="url(#pc12)">
<rect x="244.60" y="595.20" width="43.80" height="43.80" fill="url(#pbg1)" stroke="none" stroke-width="1" />
<circle cx="263.1" cy="613.8" r="14.6" fill="none" stroke="#1e1e50" stroke-width="1.1" opacity="0.45"/>
<circle cx="266.7" cy="616.6" r="12.6" fill="#6cb8f2" stroke="#86e4ff" stroke-width="1.2"/>
<circle cx="266.7" cy="616.6" r="8.2" fill="#5c98e6"/>
<rect x="244.60" y="633.00" width="43.80" height="6.00" fill="#16162c" stroke="none" stroke-width="1" />
<rect x="279.40" y="635.50" width="9.00" height="3.50" fill="#a8a8b4" stroke="none" stroke-width="1" />
<rect x="271.40" y="634.50" width="4.00" height="4.50" fill="#5a30e0" stroke="none" stroke-width="1" />
<rect x="246.60" y="637.00" width="10.00" height="2.00" fill="#2a2a50" stroke="none" stroke-width="1" />
</g>
<clipPath id="pc13"><rect x="298.3" y="595.2" width="43.8" height="43.8"/></clipPath>
<g clip-path="url(#pc13)">
<rect x="298.30" y="595.20" width="43.80" height="43.80" fill="url(#pbg1)" stroke="none" stroke-width="1" />
<circle cx="316.8" cy="613.8" r="15.0" fill="none" stroke="#1e1e50" stroke-width="1.1" opacity="0.45"/>
<circle cx="320.4" cy="616.6" r="13.0" fill="#74c2f4" stroke="#86e4ff" stroke-width="1.4"/>
<circle cx="320.4" cy="616.6" r="7.5" fill="#5c9ae8"/>
<rect x="298.30" y="633.00" width="43.80" height="6.00" fill="#16162c" stroke="none" stroke-width="1" />
<rect x="333.10" y="635.50" width="9.00" height="3.50" fill="#a8a8b4" stroke="none" stroke-width="1" />
<rect x="325.10" y="634.50" width="4.00" height="4.50" fill="#5a30e0" stroke="none" stroke-width="1" />
<rect x="300.30" y="637.00" width="10.00" height="2.00" fill="#2a2a50" stroke="none" stroke-width="1" />
</g>
<clipPath id="pc20"><rect x="136.9" y="643.0" width="43.8" height="43.8"/></clipPath>
<g clip-path="url(#pc20)">
<rect x="136.90" y="643.00" width="43.80" height="43.80" fill="url(#pbg2)" stroke="none" stroke-width="1" />
<circle cx="155.4" cy="661.6" r="15.0" fill="none" stroke="#1e1e50" stroke-width="1.1" opacity="0.25"/>
<circle cx="159.0" cy="664.4" r="13.0" fill="#64aaf2" stroke="#7cdcff" stroke-width="0.9"/>
</g>
<clipPath id="pc21"><rect x="190.9" y="643.0" width="43.8" height="43.8"/></clipPath>
<g clip-path="url(#pc21)">
<rect x="190.90" y="643.00" width="43.80" height="43.80" fill="url(#pbg2)" stroke="none" stroke-width="1" />
<circle cx="213.0" cy="664.4" r="18.3" fill="#5656c0" opacity="0.45"/>
<circle cx="209.4" cy="661.6" r="14.3" fill="none" stroke="#1e1e50" stroke-width="1.1" opacity="0.25"/>
<circle cx="213.0" cy="664.4" r="12.3" fill="#78c6f2" stroke="#80f0ff" stroke-width="2.2"/>
</g>
<clipPath id="pc22"><rect x="244.6" y="643.0" width="43.8" height="43.8"/></clipPath>
<g clip-path="url(#pc22)">
<rect x="244.60" y="643.00" width="43.80" height="43.80" fill="url(#pbg2)" stroke="none" stroke-width="1" />
<circle cx="263.1" cy="661.6" r="14.6" fill="none" stroke="#1e1e50" stroke-width="1.1" opacity="0.25"/>
<circle cx="266.7" cy="664.4" r="12.6" fill="#66acf0" stroke="#80e4ff" stroke-width="1.4"/>
<rect x="244.60" y="680.30" width="43.80" height="6.50" fill="#24243c" stroke="none" stroke-width="1" />
</g>
<clipPath id="pc23"><rect x="298.3" y="643.0" width="43.8" height="43.8"/></clipPath>
<g clip-path="url(#pc23)">
<rect x="298.30" y="643.00" width="43.80" height="43.80" fill="url(#pbg2)" stroke="none" stroke-width="1" />
<circle cx="320.4" cy="664.4" r="18.6" fill="#5656c0" opacity="0.45"/>
<circle cx="316.8" cy="661.6" r="14.6" fill="none" stroke="#1e1e50" stroke-width="1.1" opacity="0.25"/>
<circle cx="320.4" cy="664.4" r="12.6" fill="#6cb8f0" stroke="#88f4ff" stroke-width="2.8"/>
<circle cx="320.4" cy="664.4" r="8.0" fill="#6cb4f0"/>
<rect x="298.30" y="680.30" width="43.80" height="6.50" fill="#24243c" stroke="none" stroke-width="1" />
</g>
<clipPath id="pc30"><rect x="136.9" y="690.9" width="43.8" height="43.8"/></clipPath>
<g clip-path="url(#pc30)">
<rect x="136.90" y="690.90" width="43.80" height="43.80" fill="url(#pbg3)" stroke="none" stroke-width="1" />
<circle cx="155.4" cy="709.5" r="15.0" fill="none" stroke="#1e1e50" stroke-width="1.1" opacity="0.2"/>
<circle cx="159.0" cy="712.3" r="13.0" fill="#62a6f2" stroke="#80dcff" stroke-width="1.0"/>
<rect x="136.90" y="730.70" width="43.80" height="4.00" fill="#1c1c40" stroke="none" stroke-width="1" />
<rect x="138.90" y="731.20" width="8.00" height="3.50" fill="#5a2ae8" stroke="none" stroke-width="1" />
</g>
<clipPath id="pc31"><rect x="190.9" y="690.9" width="43.8" height="43.8"/></clipPath>
<g clip-path="url(#pc31)">
<rect x="190.90" y="690.90" width="43.80" height="43.80" fill="url(#pbg3)" stroke="none" stroke-width="1" />
<circle cx="209.4" cy="709.5" r="14.8" fill="none" stroke="#1e1e50" stroke-width="1.1" opacity="0.2"/>
<circle cx="213.0" cy="712.3" r="12.8" fill="#62a6f2" stroke="#80e4ff" stroke-width="1.2"/>
<rect x="190.90" y="730.70" width="43.80" height="4.00" fill="#1c1c40" stroke="none" stroke-width="1" />
<rect x="190.90" y="730.20" width="11.00" height="4.50" fill="#6a30f0" stroke="none" stroke-width="1" />
</g>
<clipPath id="pc32"><rect x="244.6" y="690.9" width="43.8" height="43.8"/></clipPath>
<g clip-path="url(#pc32)">
<rect x="244.60" y="690.90" width="43.80" height="43.80" fill="url(#pbg3)" stroke="none" stroke-width="1" />
<circle cx="263.1" cy="709.5" r="14.8" fill="none" stroke="#1e1e50" stroke-width="1.1" opacity="0.2"/>
<circle cx="266.7" cy="712.3" r="12.8" fill="#64aaf2" stroke="#80e8ff" stroke-width="1.4"/>
<rect x="244.60" y="730.70" width="43.80" height="4.00" fill="#1c1c40" stroke="none" stroke-width="1" />
<rect x="244.60" y="728.70" width="16.00" height="6.00" fill="#2a2a44" stroke="none" stroke-width="1" />
</g>
<clipPath id="pc33"><rect x="298.3" y="690.9" width="43.8" height="43.8"/></clipPath>
<g clip-path="url(#pc33)">
<rect x="298.30" y="690.90" width="43.80" height="43.80" fill="url(#pbg3)" stroke="none" stroke-width="1" />
<circle cx="316.8" cy="709.5" r="14.8" fill="none" stroke="#1e1e50" stroke-width="1.1" opacity="0.2"/>
<circle cx="320.4" cy="712.3" r="12.8" fill="#64aaf2" stroke="#80e8ff" stroke-width="1.4"/>
<rect x="298.30" y="730.70" width="43.80" height="4.00" fill="#1c1c40" stroke="none" stroke-width="1" />
<rect x="328.10" y="728.70" width="11.00" height="3.20" fill="#ffffff" stroke="none" stroke-width="1" />
</g>
<text transform="translate(393.90,523.90)" font-size="27" text-anchor="start" font-weight="bold" font-style="normal" fill="#000" font-family="'Liberation Sans'" >e</text>
<rect x="465.50" y="542.50" width="210.00" height="149.00" fill="none" stroke="#5e5e5e" stroke-width="1" />
<line x1="465.50" y1="691.50" x2="470.50" y2="691.50" stroke="#5e5e5e" stroke-width="1" />
<line x1="675.50" y1="691.50" x2="670.50" y2="691.50" stroke="#5e5e5e" stroke-width="1" />
<line x1="465.50" y1="672.50" x2="468.50" y2="672.50" stroke="#5e5e5e" stroke-width="1" />
<line x1="675.50" y1="672.50" x2="672.50" y2="672.50" stroke="#5e5e5e" stroke-width="1" />
<line x1="465.50" y1="654.50" x2="470.50" y2="654.50" stroke="#5e5e5e" stroke-width="1" />
<line x1="675.50" y1="654.50" x2="670.50" y2="654.50" stroke="#5e5e5e" stroke-width="1" />
<line x1="465.50" y1="635.50" x2="468.50" y2="635.50" stroke="#5e5e5e" stroke-width="1" />
<line x1="675.50" y1="635.50" x2="672.50" y2="635.50" stroke="#5e5e5e" stroke-width="1" />
<line x1="465.50" y1="617.50" x2="470.50" y2="617.50" stroke="#5e5e5e" stroke-width="1" />
<line x1="675.50" y1="617.50" x2="670.50" y2="617.50" stroke="#5e5e5e" stroke-width="1" />
<line x1="465.50" y1="598.50" x2="468.50" y2="598.50" stroke="#5e5e5e" stroke-width="1" />
<line x1="675.50" y1="598.50" x2="672.50" y2="598.50" stroke="#5e5e5e" stroke-width="1" />
<line x1="465.50" y1="579.50" x2="470.50" y2="579.50" stroke="#5e5e5e" stroke-width="1" />
<line x1="675.50" y1="579.50" x2="670.50" y2="579.50" stroke="#5e5e5e" stroke-width="1" />
<line x1="465.50" y1="561.50" x2="468.50" y2="561.50" stroke="#5e5e5e" stroke-width="1" />
<line x1="675.50" y1="561.50" x2="672.50" y2="561.50" stroke="#5e5e5e" stroke-width="1" />
<line x1="465.50" y1="542.50" x2="470.50" y2="542.50" stroke="#5e5e5e" stroke-width="1" />
<line x1="675.50" y1="542.50" x2="670.50" y2="542.50" stroke="#5e5e5e" stroke-width="1" />
<line x1="486.50" y1="691.50" x2="486.50" y2="688.50" stroke="#5e5e5e" stroke-width="1" />
<line x1="486.50" y1="542.50" x2="486.50" y2="545.50" stroke="#5e5e5e" stroke-width="1" />
<line x1="507.50" y1="691.50" x2="507.50" y2="686.50" stroke="#5e5e5e" stroke-width="1" />
<line x1="507.50" y1="542.50" x2="507.50" y2="547.50" stroke="#5e5e5e" stroke-width="1" />
<line x1="528.50" y1="691.50" x2="528.50" y2="688.50" stroke="#5e5e5e" stroke-width="1" />
<line x1="528.50" y1="542.50" x2="528.50" y2="545.50" stroke="#5e5e5e" stroke-width="1" />
<line x1="549.50" y1="691.50" x2="549.50" y2="686.50" stroke="#5e5e5e" stroke-width="1" />
<line x1="549.50" y1="542.50" x2="549.50" y2="547.50" stroke="#5e5e5e" stroke-width="1" />
<line x1="570.50" y1="691.50" x2="570.50" y2="688.50" stroke="#5e5e5e" stroke-width="1" />
<line x1="570.50" y1="542.50" x2="570.50" y2="545.50" stroke="#5e5e5e" stroke-width="1" />
<line x1="591.50" y1="691.50" x2="591.50" y2="686.50" stroke="#5e5e5e" stroke-width="1" />
<line x1="591.50" y1="542.50" x2="591.50" y2="547.50" stroke="#5e5e5e" stroke-width="1" />
<line x1="612.50" y1="691.50" x2="612.50" y2="688.50" stroke="#5e5e5e" stroke-width="1" />
<line x1="612.50" y1="542.50" x2="612.50" y2="545.50" stroke="#5e5e5e" stroke-width="1" />
<line x1="633.50" y1="691.50" x2="633.50" y2="686.50" stroke="#5e5e5e" stroke-width="1" />
<line x1="633.50" y1="542.50" x2="633.50" y2="547.50" stroke="#5e5e5e" stroke-width="1" />
<line x1="654.50" y1="691.50" x2="654.50" y2="688.50" stroke="#5e5e5e" stroke-width="1" />
<line x1="654.50" y1="542.50" x2="654.50" y2="545.50" stroke="#5e5e5e" stroke-width="1" />
<text transform="translate(462.60,696.80) scale(1.06,1.0)" font-size="15.5" text-anchor="end" font-weight="normal" font-style="normal" fill="#111" font-family="'Liberation Sans'" >0</text>
<text transform="translate(462.60,659.55) scale(1.06,1.0)" font-size="15.5" text-anchor="end" font-weight="normal" font-style="normal" fill="#111" font-family="'Liberation Sans'" >1</text>
<text transform="translate(462.60,622.30) scale(1.06,1.0)" font-size="15.5" text-anchor="end" font-weight="normal" font-style="normal" fill="#111" font-family="'Liberation Sans'" >2</text>
<text transform="translate(462.60,585.05) scale(1.06,1.0)" font-size="15.5" text-anchor="end" font-weight="normal" font-style="normal" fill="#111" font-family="'Liberation Sans'" >3</text>
<text transform="translate(462.60,547.80) scale(1.06,1.0)" font-size="15.5" text-anchor="end" font-weight="normal" font-style="normal" fill="#111" font-family="'Liberation Sans'" >4</text>
<text transform="translate(465.50,709.20) scale(1.06,1.0)" font-size="15.5" text-anchor="middle" font-weight="normal" font-style="normal" fill="#111" font-family="'Liberation Sans'" >0</text>
<text transform="translate(507.50,709.20) scale(1.06,1.0)" font-size="15.5" text-anchor="middle" font-weight="normal" font-style="normal" fill="#111" font-family="'Liberation Sans'" >2</text>
<text transform="translate(549.50,709.20) scale(1.06,1.0)" font-size="15.5" text-anchor="middle" font-weight="normal" font-style="normal" fill="#111" font-family="'Liberation Sans'" >4</text>
<text transform="translate(591.50,709.20) scale(1.06,1.0)" font-size="15.5" text-anchor="middle" font-weight="normal" font-style="normal" fill="#111" font-family="'Liberation Sans'" >6</text>
<text transform="translate(633.50,709.20) scale(1.06,1.0)" font-size="15.5" text-anchor="middle" font-weight="normal" font-style="normal" fill="#111" font-family="'Liberation Sans'" >8</text>
<text transform="translate(675.50,709.20) scale(1.06,1.0)" font-size="15.5" text-anchor="middle" font-weight="normal" font-style="normal" fill="#111" font-family="'Liberation Sans'" >10</text>
<text transform="translate(572.30,726.80) scale(1.08,1.0)" font-size="15.7" text-anchor="middle" font-weight="normal" font-style="normal" fill="#111" font-family="'Liberation Sans'" >Time (h)</text>
<text transform="translate(420.60,643.30) rotate(-90)" font-size="16.2" text-anchor="middle" font-weight="normal" font-style="normal" fill="#111" font-family="'Liberation Sans'" >Thickness of</text>
<text transform="translate(437.70,622.50) rotate(-90)" font-size="16.6" text-anchor="middle" font-weight="normal" font-style="normal" fill="#111" font-family="'Liberation Sans'" >CO<tspan font-size="11.5" dy="3.5">2</tspan><tspan dy="-3.5">-Cured Region (mm)</tspan></text>
<path d="M465.50,691.50 C466.06,689.51 467.60,683.37 468.86,679.58 C470.12,675.79 471.31,672.50 473.06,668.78 C474.81,665.05 477.23,660.40 479.36,657.23 C481.50,654.06 481.18,654.00 485.87,649.78 C490.56,645.56 500.39,637.86 507.50,631.90 C514.61,625.94 521.50,619.61 528.50,614.02 C535.50,608.43 542.50,603.65 549.50,598.38 C556.50,593.10 563.50,587.45 570.50,582.36 C577.50,577.27 585.76,571.87 591.50,567.83 C597.24,563.79 602.70,559.76 604.94,558.14" fill="none" stroke="#f0479a" stroke-width="1.5" stroke-dasharray="5 3.2"/>
<polyline points="465.50,691.50 465.69,689.66 466.07,688.08 466.60,686.58 467.24,685.13 467.99,683.72 468.83,682.34 469.76,680.98 470.77,679.64 471.87,678.32 473.04,677.02 474.28,675.73 475.59,674.45 476.97,673.18 478.41,671.92 479.92,670.68 481.49,669.44 483.12,668.20 484.81,666.98 486.55,665.76 488.35,664.55 490.21,663.35 492.12,662.15 494.08,660.96 496.09,659.77 498.16,658.59 500.27,657.41 502.44,656.24 504.65,655.07 506.91,653.91 509.22,652.75 511.57,651.59 513.97,650.44 516.42,649.29 518.91,648.15 521.45,647.01 524.03,645.87 526.65,644.74 529.32,643.60 532.02,642.48 534.77,641.35 537.57,640.23 540.40,639.11 543.27,637.99 546.19,636.88 549.14,635.77 552.13,634.66 555.17,633.56 558.24,632.45 561.35,631.35 564.50,630.25 567.69,629.16 570.91,628.06 574.17,626.97 577.47,625.88 580.81,624.79 584.18,623.71 587.59,622.62 591.03,621.54 594.51,620.46 598.03,619.38 601.58,618.31 605.17,617.23 608.79,616.16 612.45,615.09 616.14,614.02 619.86,612.96 623.62,611.89 627.42,610.83 631.24,609.76 635.10,608.70 639.00,607.64 642.92,606.59 646.88,605.53 650.87,604.48 654.90,603.42 658.95,602.37 663.04,601.32 667.16,600.27 671.32,599.23 675.50,598.18" fill="none" stroke="#40b6ea" stroke-width="1.5" stroke-dasharray="5 3.2"/>
<path d="M465.50,691.50 C466.06,690.69 467.11,688.46 468.86,686.66 C470.61,684.86 473.06,682.56 476.00,680.70 C478.94,678.84 481.25,677.90 486.50,675.48 C491.75,673.06 500.50,668.78 507.50,666.17 C514.50,663.56 521.50,661.82 528.50,659.84 C535.50,657.85 542.50,655.99 549.50,654.25 C556.50,652.51 563.50,650.84 570.50,649.41 C577.50,647.98 577.50,648.10 591.50,645.68 C605.50,643.26 640.50,637.24 654.50,634.88 C668.50,632.52 672.00,632.09 675.50,631.53" fill="none" stroke="#2f8278" stroke-width="1.5" stroke-dasharray="5 3.2"/>
<polyline points="465.50,691.50 465.69,691.23 466.07,690.93 466.60,690.61 467.24,690.28 467.99,689.95 468.83,689.60 469.76,689.25 470.77,688.90 471.87,688.54 473.04,688.18 474.28,687.81 475.59,687.44 476.97,687.07 478.41,686.69 479.92,686.32 481.49,685.94 483.12,685.55 484.81,685.17 486.55,684.78 488.35,684.40 490.21,684.01 492.12,683.61 494.08,683.22 496.09,682.82 498.16,682.43 500.27,682.03 502.44,681.63 504.65,681.23 506.91,680.82 509.22,680.42 511.57,680.01 513.97,679.61 516.42,679.20 518.91,678.79 521.45,678.38 524.03,677.97 526.65,677.56 529.32,677.14 532.02,676.73 534.77,676.31 537.57,675.90 540.40,675.48 543.27,675.06 546.19,674.64 549.14,674.22 552.13,673.80 555.17,673.38 558.24,672.95 561.35,672.53 564.50,672.11 567.69,671.68 570.91,671.25 574.17,670.83 577.47,670.40 580.81,669.97 584.18,669.54 587.59,669.11 591.03,668.68 594.51,668.25 598.03,667.82 601.58,667.38 605.17,666.95 608.79,666.51 612.45,666.08 616.14,665.64 619.86,665.21 623.62,664.77 627.42,664.33 631.24,663.89 635.10,663.46 639.00,663.02 642.92,662.58 646.88,662.14 650.87,661.69 654.90,661.25 658.95,660.81 663.04,660.37 667.16,659.92 671.32,659.48 675.50,659.04" fill="none" stroke="#48c850" stroke-width="1.5" stroke-dasharray="5 3.2"/>
<circle cx="486.50" cy="648.85" r="5.0" fill="#f7267f"/>
<circle cx="507.50" cy="633.61" r="5.0" fill="#f7267f"/>
<circle cx="528.50" cy="614.09" r="5.0" fill="#f7267f"/>
<circle cx="549.50" cy="600.39" r="5.0" fill="#f7267f"/>
<circle cx="570.50" cy="578.63" r="5.0" fill="#f7267f"/>
<circle cx="591.50" cy="569.69" r="5.0" fill="#f7267f"/>
<circle cx="486.50" cy="665.80" r="5.0" fill="#4a88fc"/>
<circle cx="507.50" cy="654.25" r="5.0" fill="#4a88fc"/>
<circle cx="528.50" cy="641.59" r="5.0" fill="#4a88fc"/>
<circle cx="549.50" cy="633.76" r="5.0" fill="#4a88fc"/>
<circle cx="570.50" cy="628.92" r="5.0" fill="#4a88fc"/>
<circle cx="591.50" cy="621.10" r="5.0" fill="#4a88fc"/>
<circle cx="654.50" cy="602.10" r="5.0" fill="#4a88fc"/>
<circle cx="486.50" cy="675.86" r="5.0" fill="#3a8a7c"/>
<circle cx="507.50" cy="665.42" r="5.0" fill="#3a8a7c"/>
<circle cx="528.50" cy="660.21" r="5.0" fill="#3a8a7c"/>
<circle cx="549.50" cy="654.25" r="5.0" fill="#3a8a7c"/>
<circle cx="570.50" cy="648.29" r="5.0" fill="#3a8a7c"/>
<circle cx="591.50" cy="646.05" r="5.0" fill="#3a8a7c"/>
<circle cx="654.50" cy="634.88" r="5.0" fill="#3a8a7c"/>
<circle cx="465.50" cy="691.50" r="5.0" fill="#45ee22"/>
<circle cx="486.50" cy="685.54" r="5.0" fill="#45ee22"/>
<circle cx="507.50" cy="682.56" r="5.0" fill="#45ee22"/>
<circle cx="528.50" cy="677.72" r="5.0" fill="#45ee22"/>
<circle cx="549.50" cy="673.25" r="5.0" fill="#45ee22"/>
<circle cx="570.50" cy="671.01" r="5.0" fill="#45ee22"/>
<circle cx="591.50" cy="667.29" r="5.0" fill="#45ee22"/>
<circle cx="654.50" cy="661.33" r="5.0" fill="#45ee22"/>
<text transform="translate(517.20,581.70)" font-size="15.7" text-anchor="start" font-weight="normal" font-style="normal" fill="#f0479a" font-family="'Liberation Sans'" >H(10)</text>
<text transform="translate(610.70,597.50)" font-size="15.7" text-anchor="start" font-weight="normal" font-style="normal" fill="#3e6ef2" font-family="'Liberation Sans'" >H(20)</text>
<text transform="translate(610.70,629.00)" font-size="15.7" text-anchor="start" font-weight="normal" font-style="normal" fill="#3a8a7c" font-family="'Liberation Sans'" >H(30)</text>
<text transform="translate(610.70,656.50)" font-size="15.7" text-anchor="start" font-weight="normal" font-style="normal" fill="#52cc52" font-family="'Liberation Sans'" >H(40)</text></svg>
</body></html>
